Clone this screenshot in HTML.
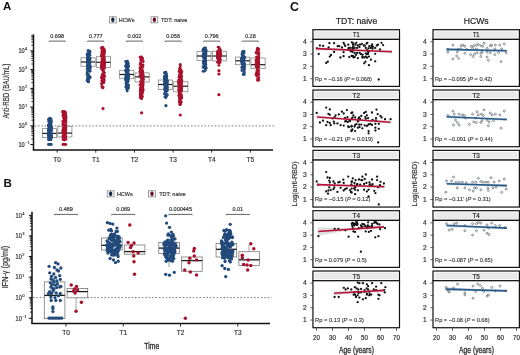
<!DOCTYPE html>
<html><head><meta charset="utf-8"><style>
html,body{margin:0;padding:0;background:#fff;}
svg{display:block;font-family:"Liberation Sans", sans-serif;filter:blur(0.3px);}
</style></head><body>
<svg width="520" height="355" viewBox="0 0 520 355">
<rect width="520" height="355" fill="#fff"/>
<text x="2.90" y="10.00" font-size="11.5" text-anchor="start" fill="#111" font-weight="bold" >A</text>
<text x="3.40" y="186.80" font-size="11.6" text-anchor="start" fill="#111" font-weight="bold" >B</text>
<text x="289.90" y="10.80" font-size="12.3" text-anchor="start" fill="#111" font-weight="bold" >C</text>
<rect x="109.40" y="16.80" width="6.80" height="6.10" fill="#fff" stroke="#777" stroke-width="0.7" />
<line x1="112.80" y1="16.80" x2="112.80" y2="22.90" stroke="#777" stroke-width="0.6" />
<ellipse cx="112.80" cy="19.80" rx="1.75" ry="2.3" fill="#142c4a"/>
<rect x="151.00" y="16.80" width="6.80" height="6.10" fill="#fff" stroke="#777" stroke-width="0.7" />
<line x1="154.40" y1="16.80" x2="154.40" y2="22.90" stroke="#777" stroke-width="0.6" />
<ellipse cx="154.40" cy="19.80" rx="1.75" ry="2.3" fill="#6e1230"/>
<text x="118.70" y="21.80" font-size="5.6" text-anchor="start" fill="#333" font-weight="normal" stroke="#333" stroke-width="0.18" textLength="15.80" lengthAdjust="spacingAndGlyphs" >HCWs</text>
<text x="161.00" y="21.80" font-size="5.6" text-anchor="start" fill="#333" font-weight="normal" stroke="#333" stroke-width="0.18" textLength="26.30" lengthAdjust="spacingAndGlyphs" >TDT: naive</text>
<line x1="33.50" y1="34.60" x2="33.50" y2="150.00" stroke="#111" stroke-width="1.5" />
<line x1="30.30" y1="144.52" x2="33.50" y2="144.52" stroke="#111" stroke-width="1.0" />
<text x="24.60" y="146.82" font-size="6.6" text-anchor="end" fill="#2a2a2a" font-weight="normal" stroke="#2a2a2a" stroke-width="0.18" textLength="6.20" lengthAdjust="spacingAndGlyphs" >10</text>
<text x="25.00" y="144.02" font-size="4.1" text-anchor="start" fill="#2a2a2a" font-weight="normal" stroke="#2a2a2a" stroke-width="0.12" >&#8722;1</text>
<line x1="31.30" y1="138.88" x2="33.50" y2="138.88" stroke="#111" stroke-width="0.8" />
<line x1="31.30" y1="135.59" x2="33.50" y2="135.59" stroke="#111" stroke-width="0.8" />
<line x1="31.30" y1="133.25" x2="33.50" y2="133.25" stroke="#111" stroke-width="0.8" />
<line x1="31.30" y1="131.44" x2="33.50" y2="131.44" stroke="#111" stroke-width="0.8" />
<line x1="31.30" y1="129.95" x2="33.50" y2="129.95" stroke="#111" stroke-width="0.8" />
<line x1="31.30" y1="128.70" x2="33.50" y2="128.70" stroke="#111" stroke-width="0.8" />
<line x1="31.30" y1="127.61" x2="33.50" y2="127.61" stroke="#111" stroke-width="0.8" />
<line x1="31.30" y1="126.66" x2="33.50" y2="126.66" stroke="#111" stroke-width="0.8" />
<line x1="30.30" y1="125.80" x2="33.50" y2="125.80" stroke="#111" stroke-width="1.0" />
<text x="24.60" y="128.10" font-size="6.6" text-anchor="end" fill="#2a2a2a" font-weight="normal" stroke="#2a2a2a" stroke-width="0.18" textLength="6.20" lengthAdjust="spacingAndGlyphs" >10</text>
<text x="25.00" y="125.30" font-size="4.1" text-anchor="start" fill="#2a2a2a" font-weight="normal" stroke="#2a2a2a" stroke-width="0.12" >0</text>
<line x1="31.30" y1="120.16" x2="33.50" y2="120.16" stroke="#111" stroke-width="0.8" />
<line x1="31.30" y1="116.87" x2="33.50" y2="116.87" stroke="#111" stroke-width="0.8" />
<line x1="31.30" y1="114.53" x2="33.50" y2="114.53" stroke="#111" stroke-width="0.8" />
<line x1="31.30" y1="112.72" x2="33.50" y2="112.72" stroke="#111" stroke-width="0.8" />
<line x1="31.30" y1="111.23" x2="33.50" y2="111.23" stroke="#111" stroke-width="0.8" />
<line x1="31.30" y1="109.98" x2="33.50" y2="109.98" stroke="#111" stroke-width="0.8" />
<line x1="31.30" y1="108.89" x2="33.50" y2="108.89" stroke="#111" stroke-width="0.8" />
<line x1="31.30" y1="107.94" x2="33.50" y2="107.94" stroke="#111" stroke-width="0.8" />
<line x1="30.30" y1="107.08" x2="33.50" y2="107.08" stroke="#111" stroke-width="1.0" />
<text x="24.60" y="109.38" font-size="6.6" text-anchor="end" fill="#2a2a2a" font-weight="normal" stroke="#2a2a2a" stroke-width="0.18" textLength="6.20" lengthAdjust="spacingAndGlyphs" >10</text>
<text x="25.00" y="106.58" font-size="4.1" text-anchor="start" fill="#2a2a2a" font-weight="normal" stroke="#2a2a2a" stroke-width="0.12" >1</text>
<line x1="31.30" y1="101.44" x2="33.50" y2="101.44" stroke="#111" stroke-width="0.8" />
<line x1="31.30" y1="98.15" x2="33.50" y2="98.15" stroke="#111" stroke-width="0.8" />
<line x1="31.30" y1="95.81" x2="33.50" y2="95.81" stroke="#111" stroke-width="0.8" />
<line x1="31.30" y1="94.00" x2="33.50" y2="94.00" stroke="#111" stroke-width="0.8" />
<line x1="31.30" y1="92.51" x2="33.50" y2="92.51" stroke="#111" stroke-width="0.8" />
<line x1="31.30" y1="91.26" x2="33.50" y2="91.26" stroke="#111" stroke-width="0.8" />
<line x1="31.30" y1="90.17" x2="33.50" y2="90.17" stroke="#111" stroke-width="0.8" />
<line x1="31.30" y1="89.22" x2="33.50" y2="89.22" stroke="#111" stroke-width="0.8" />
<line x1="30.30" y1="88.36" x2="33.50" y2="88.36" stroke="#111" stroke-width="1.0" />
<text x="24.60" y="90.66" font-size="6.6" text-anchor="end" fill="#2a2a2a" font-weight="normal" stroke="#2a2a2a" stroke-width="0.18" textLength="6.20" lengthAdjust="spacingAndGlyphs" >10</text>
<text x="25.00" y="87.86" font-size="4.1" text-anchor="start" fill="#2a2a2a" font-weight="normal" stroke="#2a2a2a" stroke-width="0.12" >2</text>
<line x1="31.30" y1="82.72" x2="33.50" y2="82.72" stroke="#111" stroke-width="0.8" />
<line x1="31.30" y1="79.43" x2="33.50" y2="79.43" stroke="#111" stroke-width="0.8" />
<line x1="31.30" y1="77.09" x2="33.50" y2="77.09" stroke="#111" stroke-width="0.8" />
<line x1="31.30" y1="75.28" x2="33.50" y2="75.28" stroke="#111" stroke-width="0.8" />
<line x1="31.30" y1="73.79" x2="33.50" y2="73.79" stroke="#111" stroke-width="0.8" />
<line x1="31.30" y1="72.54" x2="33.50" y2="72.54" stroke="#111" stroke-width="0.8" />
<line x1="31.30" y1="71.45" x2="33.50" y2="71.45" stroke="#111" stroke-width="0.8" />
<line x1="31.30" y1="70.50" x2="33.50" y2="70.50" stroke="#111" stroke-width="0.8" />
<line x1="30.30" y1="69.64" x2="33.50" y2="69.64" stroke="#111" stroke-width="1.0" />
<text x="24.60" y="71.94" font-size="6.6" text-anchor="end" fill="#2a2a2a" font-weight="normal" stroke="#2a2a2a" stroke-width="0.18" textLength="6.20" lengthAdjust="spacingAndGlyphs" >10</text>
<text x="25.00" y="69.14" font-size="4.1" text-anchor="start" fill="#2a2a2a" font-weight="normal" stroke="#2a2a2a" stroke-width="0.12" >3</text>
<line x1="31.30" y1="64.00" x2="33.50" y2="64.00" stroke="#111" stroke-width="0.8" />
<line x1="31.30" y1="60.71" x2="33.50" y2="60.71" stroke="#111" stroke-width="0.8" />
<line x1="31.30" y1="58.37" x2="33.50" y2="58.37" stroke="#111" stroke-width="0.8" />
<line x1="31.30" y1="56.56" x2="33.50" y2="56.56" stroke="#111" stroke-width="0.8" />
<line x1="31.30" y1="55.07" x2="33.50" y2="55.07" stroke="#111" stroke-width="0.8" />
<line x1="31.30" y1="53.82" x2="33.50" y2="53.82" stroke="#111" stroke-width="0.8" />
<line x1="31.30" y1="52.73" x2="33.50" y2="52.73" stroke="#111" stroke-width="0.8" />
<line x1="31.30" y1="51.78" x2="33.50" y2="51.78" stroke="#111" stroke-width="0.8" />
<line x1="30.30" y1="50.92" x2="33.50" y2="50.92" stroke="#111" stroke-width="1.0" />
<text x="24.60" y="53.22" font-size="6.6" text-anchor="end" fill="#2a2a2a" font-weight="normal" stroke="#2a2a2a" stroke-width="0.18" textLength="6.20" lengthAdjust="spacingAndGlyphs" >10</text>
<text x="25.00" y="50.42" font-size="4.1" text-anchor="start" fill="#2a2a2a" font-weight="normal" stroke="#2a2a2a" stroke-width="0.12" >4</text>
<line x1="31.30" y1="45.28" x2="33.50" y2="45.28" stroke="#111" stroke-width="0.8" />
<line x1="31.30" y1="41.99" x2="33.50" y2="41.99" stroke="#111" stroke-width="0.8" />
<line x1="31.30" y1="39.65" x2="33.50" y2="39.65" stroke="#111" stroke-width="0.8" />
<line x1="31.30" y1="37.84" x2="33.50" y2="37.84" stroke="#111" stroke-width="0.8" />
<line x1="31.30" y1="36.35" x2="33.50" y2="36.35" stroke="#111" stroke-width="0.8" />
<line x1="31.30" y1="35.10" x2="33.50" y2="35.10" stroke="#111" stroke-width="0.8" />
<line x1="32.80" y1="150.00" x2="273.00" y2="150.00" stroke="#111" stroke-width="1.4" />
<line x1="34.50" y1="125.90" x2="275.50" y2="125.90" stroke="#6e6e6e" stroke-width="0.9" stroke-dasharray="1.6,1.8"/>
<line x1="57.15" y1="150.00" x2="57.15" y2="152.60" stroke="#111" stroke-width="0.9" />
<text x="57.15" y="161.70" font-size="6.5" text-anchor="middle" fill="#333" font-weight="normal" stroke="#333" stroke-width="0.18" >T0</text>
<line x1="95.79" y1="150.00" x2="95.79" y2="152.60" stroke="#111" stroke-width="0.9" />
<text x="95.79" y="161.70" font-size="6.5" text-anchor="middle" fill="#333" font-weight="normal" stroke="#333" stroke-width="0.18" >T1</text>
<line x1="134.43" y1="150.00" x2="134.43" y2="152.60" stroke="#111" stroke-width="0.9" />
<text x="134.43" y="161.70" font-size="6.5" text-anchor="middle" fill="#333" font-weight="normal" stroke="#333" stroke-width="0.18" >T2</text>
<line x1="173.07" y1="150.00" x2="173.07" y2="152.60" stroke="#111" stroke-width="0.9" />
<text x="173.07" y="161.70" font-size="6.5" text-anchor="middle" fill="#333" font-weight="normal" stroke="#333" stroke-width="0.18" >T3</text>
<line x1="211.71" y1="150.00" x2="211.71" y2="152.60" stroke="#111" stroke-width="0.9" />
<text x="211.71" y="161.70" font-size="6.5" text-anchor="middle" fill="#333" font-weight="normal" stroke="#333" stroke-width="0.18" >T4</text>
<line x1="250.35" y1="150.00" x2="250.35" y2="152.60" stroke="#111" stroke-width="0.9" />
<text x="250.35" y="161.70" font-size="6.5" text-anchor="middle" fill="#333" font-weight="normal" stroke="#333" stroke-width="0.18" >T5</text>
<text x="0.00" y="0.00" font-size="8.4" text-anchor="middle" fill="#333" font-weight="normal" stroke="#333" stroke-width="0.18" textLength="55.00" lengthAdjust="spacingAndGlyphs" transform="translate(9.1,91.1) rotate(-90)">Anti-RBD (BAU/mL)</text>
<rect x="42.35" y="128.60" width="14.20" height="9.00" fill="#fff" stroke="#8a8a8a" stroke-width="0.8" />
<line x1="42.35" y1="133.40" x2="56.55" y2="133.40" stroke="#1a1a1a" stroke-width="1.2" />
<rect x="57.75" y="126.30" width="14.20" height="10.70" fill="#fff" stroke="#8a8a8a" stroke-width="0.8" />
<line x1="57.75" y1="133.10" x2="71.95" y2="133.10" stroke="#1a1a1a" stroke-width="1.2" />
<circle cx="50.4" cy="121.2" r="1.42" fill="#224a7b"/>
<circle cx="48.5" cy="128.9" r="1.42" fill="#224a7b"/>
<circle cx="49.7" cy="118.7" r="1.42" fill="#224a7b"/>
<circle cx="48.6" cy="132.4" r="1.42" fill="#224a7b"/>
<circle cx="48.7" cy="136.1" r="1.42" fill="#224a7b"/>
<circle cx="50.2" cy="125.1" r="1.42" fill="#224a7b"/>
<circle cx="48.5" cy="139.4" r="1.42" fill="#224a7b"/>
<circle cx="48.8" cy="124.3" r="1.42" fill="#224a7b"/>
<circle cx="49.3" cy="124.9" r="1.42" fill="#224a7b"/>
<circle cx="50.2" cy="121.9" r="1.42" fill="#224a7b"/>
<circle cx="50.1" cy="126.1" r="1.42" fill="#224a7b"/>
<circle cx="50.5" cy="136.5" r="1.42" fill="#224a7b"/>
<circle cx="50.2" cy="124.8" r="1.42" fill="#224a7b"/>
<circle cx="50.9" cy="124.5" r="1.42" fill="#224a7b"/>
<circle cx="50.2" cy="123.3" r="1.42" fill="#224a7b"/>
<circle cx="50.7" cy="137.2" r="1.42" fill="#224a7b"/>
<circle cx="48.7" cy="139.5" r="1.42" fill="#224a7b"/>
<circle cx="48.8" cy="134.6" r="1.42" fill="#224a7b"/>
<circle cx="50.5" cy="118.8" r="1.42" fill="#224a7b"/>
<circle cx="51.2" cy="130.5" r="1.42" fill="#224a7b"/>
<circle cx="50.3" cy="133.2" r="1.42" fill="#224a7b"/>
<circle cx="51.0" cy="127.9" r="1.42" fill="#224a7b"/>
<circle cx="50.5" cy="128.3" r="1.42" fill="#224a7b"/>
<circle cx="50.6" cy="134.6" r="1.42" fill="#224a7b"/>
<circle cx="51.0" cy="139.7" r="1.42" fill="#224a7b"/>
<circle cx="50.5" cy="126.4" r="1.42" fill="#224a7b"/>
<circle cx="48.7" cy="130.5" r="1.42" fill="#224a7b"/>
<circle cx="50.8" cy="134.1" r="1.42" fill="#224a7b"/>
<circle cx="51.1" cy="133.5" r="1.42" fill="#224a7b"/>
<circle cx="49.8" cy="138.3" r="1.42" fill="#224a7b"/>
<circle cx="51.0" cy="137.3" r="1.42" fill="#224a7b"/>
<circle cx="49.7" cy="124.0" r="1.42" fill="#224a7b"/>
<circle cx="51.4" cy="137.4" r="1.42" fill="#224a7b"/>
<circle cx="49.1" cy="135.0" r="1.42" fill="#224a7b"/>
<circle cx="49.2" cy="130.9" r="1.42" fill="#224a7b"/>
<circle cx="49.7" cy="136.6" r="1.42" fill="#224a7b"/>
<circle cx="51.4" cy="130.4" r="1.42" fill="#224a7b"/>
<circle cx="50.3" cy="129.2" r="1.42" fill="#224a7b"/>
<circle cx="51.2" cy="119.1" r="1.42" fill="#224a7b"/>
<circle cx="50.9" cy="137.1" r="1.42" fill="#224a7b"/>
<circle cx="48.7" cy="126.7" r="1.42" fill="#224a7b"/>
<circle cx="48.6" cy="119.3" r="1.42" fill="#224a7b"/>
<circle cx="48.5" cy="135.7" r="1.42" fill="#224a7b"/>
<circle cx="48.8" cy="137.2" r="1.42" fill="#224a7b"/>
<circle cx="51.1" cy="132.7" r="1.42" fill="#224a7b"/>
<circle cx="49.2" cy="121.2" r="1.42" fill="#224a7b"/>
<circle cx="48.7" cy="125.9" r="1.42" fill="#224a7b"/>
<circle cx="49.8" cy="139.7" r="1.42" fill="#224a7b"/>
<circle cx="48.7" cy="119.8" r="1.42" fill="#224a7b"/>
<circle cx="51.0" cy="123.7" r="1.42" fill="#224a7b"/>
<circle cx="48.4" cy="134.2" r="1.42" fill="#224a7b"/>
<circle cx="48.8" cy="129.5" r="1.42" fill="#224a7b"/>
<circle cx="50.0" cy="118.5" r="1.42" fill="#224a7b"/>
<circle cx="50.6" cy="136.9" r="1.42" fill="#224a7b"/>
<circle cx="48.9" cy="126.0" r="1.42" fill="#224a7b"/>
<circle cx="50.8" cy="129.6" r="1.42" fill="#224a7b"/>
<circle cx="50.9" cy="122.8" r="1.42" fill="#224a7b"/>
<circle cx="50.9" cy="136.7" r="1.42" fill="#224a7b"/>
<circle cx="49.1" cy="134.2" r="1.42" fill="#224a7b"/>
<circle cx="48.4" cy="125.7" r="1.42" fill="#224a7b"/>
<circle cx="50.6" cy="132.7" r="1.42" fill="#224a7b"/>
<circle cx="51.3" cy="127.7" r="1.42" fill="#224a7b"/>
<circle cx="49.5" cy="138.9" r="1.42" fill="#224a7b"/>
<circle cx="49.1" cy="137.1" r="1.42" fill="#224a7b"/>
<circle cx="51.2" cy="135.3" r="1.42" fill="#224a7b"/>
<circle cx="50.4" cy="128.4" r="1.42" fill="#224a7b"/>
<circle cx="50.5" cy="119.8" r="1.42" fill="#224a7b"/>
<circle cx="50.8" cy="135.1" r="1.42" fill="#224a7b"/>
<circle cx="50.9" cy="121.8" r="1.42" fill="#224a7b"/>
<circle cx="51.5" cy="135.5" r="1.42" fill="#224a7b"/>
<circle cx="51.4" cy="126.7" r="1.42" fill="#224a7b"/>
<circle cx="48.8" cy="121.6" r="1.42" fill="#224a7b"/>
<circle cx="50.9" cy="137.8" r="1.42" fill="#224a7b"/>
<circle cx="50.5" cy="139.7" r="1.42" fill="#224a7b"/>
<circle cx="48.8" cy="130.0" r="1.42" fill="#224a7b"/>
<circle cx="51.5" cy="121.3" r="1.42" fill="#224a7b"/>
<circle cx="51.3" cy="129.5" r="1.42" fill="#224a7b"/>
<circle cx="51.0" cy="137.1" r="1.42" fill="#224a7b"/>
<circle cx="49.1" cy="133.4" r="1.42" fill="#224a7b"/>
<circle cx="49.7" cy="123.6" r="1.42" fill="#224a7b"/>
<circle cx="51.3" cy="137.5" r="1.42" fill="#224a7b"/>
<circle cx="50.2" cy="128.0" r="1.42" fill="#224a7b"/>
<circle cx="51.3" cy="127.2" r="1.42" fill="#224a7b"/>
<circle cx="50.0" cy="129.6" r="1.42" fill="#224a7b"/>
<circle cx="48.4" cy="130.5" r="1.42" fill="#224a7b"/>
<circle cx="49.9" cy="118.2" r="1.42" fill="#224a7b"/>
<circle cx="49.9" cy="139.6" r="1.42" fill="#224a7b"/>
<circle cx="64.3" cy="116.1" r="1.42" fill="#a9122d"/>
<circle cx="63.8" cy="127.4" r="1.42" fill="#a9122d"/>
<circle cx="65.3" cy="127.4" r="1.42" fill="#a9122d"/>
<circle cx="64.5" cy="134.6" r="1.42" fill="#a9122d"/>
<circle cx="64.4" cy="131.2" r="1.42" fill="#a9122d"/>
<circle cx="65.7" cy="133.4" r="1.42" fill="#a9122d"/>
<circle cx="64.4" cy="129.0" r="1.42" fill="#a9122d"/>
<circle cx="64.2" cy="131.4" r="1.42" fill="#a9122d"/>
<circle cx="65.8" cy="125.1" r="1.42" fill="#a9122d"/>
<circle cx="65.8" cy="136.8" r="1.42" fill="#a9122d"/>
<circle cx="65.8" cy="127.5" r="1.42" fill="#a9122d"/>
<circle cx="63.1" cy="115.1" r="1.42" fill="#a9122d"/>
<circle cx="63.5" cy="113.2" r="1.42" fill="#a9122d"/>
<circle cx="65.3" cy="130.7" r="1.42" fill="#a9122d"/>
<circle cx="65.0" cy="115.6" r="1.42" fill="#a9122d"/>
<circle cx="65.6" cy="115.3" r="1.42" fill="#a9122d"/>
<circle cx="65.8" cy="117.5" r="1.42" fill="#a9122d"/>
<circle cx="65.9" cy="125.4" r="1.42" fill="#a9122d"/>
<circle cx="64.1" cy="115.8" r="1.42" fill="#a9122d"/>
<circle cx="63.4" cy="121.0" r="1.42" fill="#a9122d"/>
<circle cx="62.8" cy="132.3" r="1.42" fill="#a9122d"/>
<circle cx="62.8" cy="124.0" r="1.42" fill="#a9122d"/>
<circle cx="64.4" cy="129.4" r="1.42" fill="#a9122d"/>
<circle cx="63.1" cy="139.6" r="1.42" fill="#a9122d"/>
<circle cx="65.2" cy="112.3" r="1.42" fill="#a9122d"/>
<circle cx="64.1" cy="114.9" r="1.42" fill="#a9122d"/>
<circle cx="63.6" cy="135.1" r="1.42" fill="#a9122d"/>
<circle cx="65.7" cy="132.0" r="1.42" fill="#a9122d"/>
<circle cx="63.0" cy="131.6" r="1.42" fill="#a9122d"/>
<circle cx="63.0" cy="130.5" r="1.42" fill="#a9122d"/>
<circle cx="65.3" cy="129.7" r="1.42" fill="#a9122d"/>
<circle cx="65.5" cy="126.8" r="1.42" fill="#a9122d"/>
<circle cx="63.8" cy="137.8" r="1.42" fill="#a9122d"/>
<circle cx="63.6" cy="138.3" r="1.42" fill="#a9122d"/>
<circle cx="64.4" cy="127.7" r="1.42" fill="#a9122d"/>
<circle cx="62.9" cy="136.1" r="1.42" fill="#a9122d"/>
<circle cx="63.7" cy="135.6" r="1.42" fill="#a9122d"/>
<circle cx="63.7" cy="133.4" r="1.42" fill="#a9122d"/>
<circle cx="63.9" cy="116.3" r="1.42" fill="#a9122d"/>
<circle cx="65.1" cy="133.1" r="1.42" fill="#a9122d"/>
<circle cx="64.3" cy="116.7" r="1.42" fill="#a9122d"/>
<circle cx="65.4" cy="114.2" r="1.42" fill="#a9122d"/>
<circle cx="65.4" cy="125.6" r="1.42" fill="#a9122d"/>
<circle cx="65.0" cy="125.9" r="1.42" fill="#a9122d"/>
<circle cx="65.4" cy="121.1" r="1.42" fill="#a9122d"/>
<circle cx="64.0" cy="129.7" r="1.42" fill="#a9122d"/>
<circle cx="63.2" cy="112.7" r="1.42" fill="#a9122d"/>
<circle cx="65.1" cy="134.2" r="1.42" fill="#a9122d"/>
<circle cx="63.0" cy="115.9" r="1.42" fill="#a9122d"/>
<circle cx="64.9" cy="136.6" r="1.42" fill="#a9122d"/>
<circle cx="63.7" cy="118.2" r="1.42" fill="#a9122d"/>
<circle cx="64.2" cy="115.7" r="1.42" fill="#a9122d"/>
<circle cx="65.9" cy="139.3" r="1.42" fill="#a9122d"/>
<circle cx="65.8" cy="118.3" r="1.42" fill="#a9122d"/>
<circle cx="62.8" cy="121.5" r="1.42" fill="#a9122d"/>
<circle cx="64.4" cy="125.0" r="1.42" fill="#a9122d"/>
<circle cx="63.6" cy="132.5" r="1.42" fill="#a9122d"/>
<circle cx="64.0" cy="133.1" r="1.42" fill="#a9122d"/>
<circle cx="63.5" cy="138.6" r="1.42" fill="#a9122d"/>
<circle cx="65.2" cy="126.6" r="1.42" fill="#a9122d"/>
<circle cx="65.6" cy="132.1" r="1.42" fill="#a9122d"/>
<circle cx="65.9" cy="120.7" r="1.42" fill="#a9122d"/>
<circle cx="65.1" cy="133.9" r="1.42" fill="#a9122d"/>
<circle cx="65.4" cy="112.4" r="1.42" fill="#a9122d"/>
<circle cx="65.1" cy="129.5" r="1.42" fill="#a9122d"/>
<circle cx="64.4" cy="115.2" r="1.42" fill="#a9122d"/>
<circle cx="65.3" cy="135.6" r="1.42" fill="#a9122d"/>
<circle cx="65.6" cy="128.2" r="1.42" fill="#a9122d"/>
<circle cx="63.5" cy="131.4" r="1.42" fill="#a9122d"/>
<circle cx="63.1" cy="137.2" r="1.42" fill="#a9122d"/>
<circle cx="64.8" cy="127.5" r="1.42" fill="#a9122d"/>
<circle cx="64.3" cy="131.0" r="1.42" fill="#a9122d"/>
<circle cx="65.3" cy="137.7" r="1.42" fill="#a9122d"/>
<circle cx="64.5" cy="125.8" r="1.42" fill="#a9122d"/>
<circle cx="65.1" cy="113.0" r="1.42" fill="#a9122d"/>
<circle cx="63.6" cy="113.3" r="1.42" fill="#a9122d"/>
<circle cx="65.1" cy="117.1" r="1.42" fill="#a9122d"/>
<circle cx="64.0" cy="125.6" r="1.42" fill="#a9122d"/>
<circle cx="65.2" cy="131.1" r="1.42" fill="#a9122d"/>
<circle cx="63.0" cy="129.9" r="1.42" fill="#a9122d"/>
<circle cx="63.7" cy="132.8" r="1.42" fill="#a9122d"/>
<circle cx="62.9" cy="111.5" r="1.42" fill="#a9122d"/>
<circle cx="65.0" cy="130.8" r="1.42" fill="#a9122d"/>
<circle cx="64.4" cy="119.6" r="1.42" fill="#a9122d"/>
<circle cx="63.1" cy="124.8" r="1.42" fill="#a9122d"/>
<circle cx="65.9" cy="116.9" r="1.42" fill="#a9122d"/>
<circle cx="64.2" cy="111.6" r="1.42" fill="#a9122d"/>
<circle cx="64.2" cy="139.5" r="1.42" fill="#a9122d"/>
<circle cx="65.8" cy="117.2" r="1.42" fill="#a9122d"/>
<circle cx="63.2" cy="128.1" r="1.42" fill="#a9122d"/>
<circle cx="63.2" cy="139.0" r="1.42" fill="#a9122d"/>
<circle cx="65.6" cy="126.0" r="1.42" fill="#a9122d"/>
<circle cx="65.6" cy="117.9" r="1.42" fill="#a9122d"/>
<circle cx="62.8" cy="111.8" r="1.42" fill="#a9122d"/>
<circle cx="63.7" cy="124.3" r="1.42" fill="#a9122d"/>
<circle cx="65.4" cy="129.9" r="1.42" fill="#a9122d"/>
<circle cx="65.2" cy="137.8" r="1.42" fill="#a9122d"/>
<circle cx="65.7" cy="114.6" r="1.42" fill="#a9122d"/>
<circle cx="63.7" cy="137.5" r="1.42" fill="#a9122d"/>
<circle cx="65.9" cy="122.6" r="1.42" fill="#a9122d"/>
<circle cx="64.1" cy="121.7" r="1.42" fill="#a9122d"/>
<circle cx="63.1" cy="112.5" r="1.42" fill="#a9122d"/>
<circle cx="65.7" cy="119.5" r="1.42" fill="#a9122d"/>
<circle cx="63.4" cy="132.3" r="1.42" fill="#a9122d"/>
<circle cx="65.6" cy="139.1" r="1.42" fill="#a9122d"/>
<circle cx="65.7" cy="129.6" r="1.42" fill="#a9122d"/>
<circle cx="65.1" cy="127.2" r="1.42" fill="#a9122d"/>
<circle cx="64.2" cy="132.6" r="1.42" fill="#a9122d"/>
<circle cx="63.7" cy="130.0" r="1.42" fill="#a9122d"/>
<circle cx="64.3" cy="136.1" r="1.42" fill="#a9122d"/>
<circle cx="64.3" cy="111.4" r="1.42" fill="#a9122d"/>
<circle cx="64.3" cy="140.1" r="1.42" fill="#a9122d"/>
<circle cx="48.5" cy="144.4" r="1.42" fill="#224a7b"/>
<circle cx="49.4" cy="144.4" r="1.42" fill="#224a7b"/>
<circle cx="50.4" cy="144.4" r="1.42" fill="#224a7b"/>
<circle cx="51.3" cy="144.4" r="1.42" fill="#224a7b"/>
<circle cx="62.9" cy="144.4" r="1.42" fill="#a9122d"/>
<circle cx="63.8" cy="144.4" r="1.42" fill="#a9122d"/>
<circle cx="64.8" cy="144.4" r="1.42" fill="#a9122d"/>
<circle cx="65.8" cy="144.4" r="1.42" fill="#a9122d"/>
<rect x="80.99" y="57.80" width="14.20" height="8.50" fill="#fff" stroke="#8a8a8a" stroke-width="0.8" />
<line x1="80.99" y1="62.00" x2="95.19" y2="62.00" stroke="#1a1a1a" stroke-width="1.2" />
<rect x="96.39" y="56.30" width="14.20" height="11.20" fill="#fff" stroke="#8a8a8a" stroke-width="0.8" />
<line x1="96.39" y1="62.30" x2="110.59" y2="62.30" stroke="#1a1a1a" stroke-width="1.2" />
<circle cx="87.9" cy="60.4" r="1.42" fill="#224a7b"/>
<circle cx="87.8" cy="81.3" r="1.42" fill="#224a7b"/>
<circle cx="88.8" cy="59.9" r="1.42" fill="#224a7b"/>
<circle cx="87.7" cy="64.1" r="1.42" fill="#224a7b"/>
<circle cx="87.7" cy="66.1" r="1.42" fill="#224a7b"/>
<circle cx="88.4" cy="81.9" r="1.42" fill="#224a7b"/>
<circle cx="87.6" cy="65.6" r="1.42" fill="#224a7b"/>
<circle cx="87.8" cy="60.3" r="1.42" fill="#224a7b"/>
<circle cx="88.8" cy="64.6" r="1.42" fill="#224a7b"/>
<circle cx="88.3" cy="74.1" r="1.42" fill="#224a7b"/>
<circle cx="88.1" cy="55.2" r="1.42" fill="#224a7b"/>
<circle cx="87.9" cy="61.0" r="1.42" fill="#224a7b"/>
<circle cx="88.6" cy="54.4" r="1.42" fill="#224a7b"/>
<circle cx="87.7" cy="77.7" r="1.42" fill="#224a7b"/>
<circle cx="88.4" cy="62.1" r="1.42" fill="#224a7b"/>
<circle cx="89.8" cy="77.2" r="1.42" fill="#224a7b"/>
<circle cx="87.1" cy="69.1" r="1.42" fill="#224a7b"/>
<circle cx="88.5" cy="78.7" r="1.42" fill="#224a7b"/>
<circle cx="90.0" cy="69.0" r="1.42" fill="#224a7b"/>
<circle cx="90.1" cy="77.4" r="1.42" fill="#224a7b"/>
<circle cx="87.3" cy="62.0" r="1.42" fill="#224a7b"/>
<circle cx="90.0" cy="51.5" r="1.42" fill="#224a7b"/>
<circle cx="89.4" cy="70.9" r="1.42" fill="#224a7b"/>
<circle cx="88.8" cy="60.5" r="1.42" fill="#224a7b"/>
<circle cx="89.9" cy="63.0" r="1.42" fill="#224a7b"/>
<circle cx="87.4" cy="60.0" r="1.42" fill="#224a7b"/>
<circle cx="89.0" cy="57.0" r="1.42" fill="#224a7b"/>
<circle cx="87.2" cy="53.9" r="1.42" fill="#224a7b"/>
<circle cx="87.7" cy="56.0" r="1.42" fill="#224a7b"/>
<circle cx="88.0" cy="50.7" r="1.42" fill="#224a7b"/>
<circle cx="90.1" cy="58.5" r="1.42" fill="#224a7b"/>
<circle cx="88.5" cy="78.3" r="1.42" fill="#224a7b"/>
<circle cx="89.2" cy="62.3" r="1.42" fill="#224a7b"/>
<circle cx="87.1" cy="79.9" r="1.42" fill="#224a7b"/>
<circle cx="87.8" cy="58.7" r="1.42" fill="#224a7b"/>
<circle cx="87.7" cy="79.6" r="1.42" fill="#224a7b"/>
<circle cx="88.1" cy="55.5" r="1.42" fill="#224a7b"/>
<circle cx="89.5" cy="60.1" r="1.42" fill="#224a7b"/>
<circle cx="87.6" cy="66.4" r="1.42" fill="#224a7b"/>
<circle cx="89.6" cy="60.3" r="1.42" fill="#224a7b"/>
<circle cx="87.7" cy="57.7" r="1.42" fill="#224a7b"/>
<circle cx="90.0" cy="59.7" r="1.42" fill="#224a7b"/>
<circle cx="88.3" cy="63.9" r="1.42" fill="#224a7b"/>
<circle cx="87.5" cy="80.4" r="1.42" fill="#224a7b"/>
<circle cx="87.7" cy="66.6" r="1.42" fill="#224a7b"/>
<circle cx="87.2" cy="54.9" r="1.42" fill="#224a7b"/>
<circle cx="89.3" cy="78.3" r="1.42" fill="#224a7b"/>
<circle cx="88.0" cy="79.8" r="1.42" fill="#224a7b"/>
<circle cx="90.0" cy="71.3" r="1.42" fill="#224a7b"/>
<circle cx="89.1" cy="51.4" r="1.42" fill="#224a7b"/>
<circle cx="87.5" cy="57.6" r="1.42" fill="#224a7b"/>
<circle cx="87.9" cy="66.5" r="1.42" fill="#224a7b"/>
<circle cx="90.1" cy="65.5" r="1.42" fill="#224a7b"/>
<circle cx="88.1" cy="61.0" r="1.42" fill="#224a7b"/>
<circle cx="88.4" cy="76.4" r="1.42" fill="#224a7b"/>
<circle cx="89.9" cy="55.3" r="1.42" fill="#224a7b"/>
<circle cx="88.2" cy="63.1" r="1.42" fill="#224a7b"/>
<circle cx="88.3" cy="51.4" r="1.42" fill="#224a7b"/>
<circle cx="87.1" cy="74.6" r="1.42" fill="#224a7b"/>
<circle cx="87.8" cy="76.6" r="1.42" fill="#224a7b"/>
<circle cx="88.1" cy="78.8" r="1.42" fill="#224a7b"/>
<circle cx="90.1" cy="68.0" r="1.42" fill="#224a7b"/>
<circle cx="89.3" cy="58.7" r="1.42" fill="#224a7b"/>
<circle cx="89.4" cy="61.9" r="1.42" fill="#224a7b"/>
<circle cx="90.0" cy="70.4" r="1.42" fill="#224a7b"/>
<circle cx="87.7" cy="62.6" r="1.42" fill="#224a7b"/>
<circle cx="88.2" cy="78.8" r="1.42" fill="#224a7b"/>
<circle cx="88.4" cy="57.3" r="1.42" fill="#224a7b"/>
<circle cx="89.6" cy="66.0" r="1.42" fill="#224a7b"/>
<circle cx="89.5" cy="76.4" r="1.42" fill="#224a7b"/>
<circle cx="88.0" cy="60.8" r="1.42" fill="#224a7b"/>
<circle cx="89.5" cy="60.1" r="1.42" fill="#224a7b"/>
<circle cx="87.8" cy="65.8" r="1.42" fill="#224a7b"/>
<circle cx="87.1" cy="73.1" r="1.42" fill="#224a7b"/>
<circle cx="89.8" cy="53.0" r="1.42" fill="#224a7b"/>
<circle cx="87.3" cy="58.8" r="1.42" fill="#224a7b"/>
<circle cx="88.6" cy="79.5" r="1.42" fill="#224a7b"/>
<circle cx="87.7" cy="64.5" r="1.42" fill="#224a7b"/>
<circle cx="89.4" cy="54.3" r="1.42" fill="#224a7b"/>
<circle cx="87.4" cy="71.4" r="1.42" fill="#224a7b"/>
<circle cx="88.8" cy="59.7" r="1.42" fill="#224a7b"/>
<circle cx="89.4" cy="54.8" r="1.42" fill="#224a7b"/>
<circle cx="87.5" cy="62.1" r="1.42" fill="#224a7b"/>
<circle cx="88.0" cy="68.7" r="1.42" fill="#224a7b"/>
<circle cx="90.2" cy="67.3" r="1.42" fill="#224a7b"/>
<circle cx="89.1" cy="63.5" r="1.42" fill="#224a7b"/>
<circle cx="88.5" cy="53.6" r="1.42" fill="#224a7b"/>
<circle cx="89.9" cy="77.0" r="1.42" fill="#224a7b"/>
<circle cx="87.9" cy="74.7" r="1.42" fill="#224a7b"/>
<circle cx="88.9" cy="69.0" r="1.42" fill="#224a7b"/>
<circle cx="89.8" cy="62.2" r="1.42" fill="#224a7b"/>
<circle cx="87.8" cy="79.5" r="1.42" fill="#224a7b"/>
<circle cx="87.3" cy="80.3" r="1.42" fill="#224a7b"/>
<circle cx="88.2" cy="58.4" r="1.42" fill="#224a7b"/>
<circle cx="87.6" cy="58.6" r="1.42" fill="#224a7b"/>
<circle cx="88.6" cy="50.7" r="1.42" fill="#224a7b"/>
<circle cx="88.6" cy="81.7" r="1.42" fill="#224a7b"/>
<circle cx="102.0" cy="51.6" r="1.42" fill="#a9122d"/>
<circle cx="102.4" cy="54.6" r="1.42" fill="#a9122d"/>
<circle cx="102.4" cy="54.8" r="1.42" fill="#a9122d"/>
<circle cx="101.6" cy="65.5" r="1.42" fill="#a9122d"/>
<circle cx="102.7" cy="51.3" r="1.42" fill="#a9122d"/>
<circle cx="101.9" cy="59.8" r="1.42" fill="#a9122d"/>
<circle cx="102.3" cy="63.9" r="1.42" fill="#a9122d"/>
<circle cx="104.4" cy="59.3" r="1.42" fill="#a9122d"/>
<circle cx="102.7" cy="54.5" r="1.42" fill="#a9122d"/>
<circle cx="102.6" cy="87.9" r="1.42" fill="#a9122d"/>
<circle cx="103.7" cy="58.8" r="1.42" fill="#a9122d"/>
<circle cx="102.7" cy="81.8" r="1.42" fill="#a9122d"/>
<circle cx="104.2" cy="63.8" r="1.42" fill="#a9122d"/>
<circle cx="101.9" cy="63.0" r="1.42" fill="#a9122d"/>
<circle cx="104.3" cy="50.0" r="1.42" fill="#a9122d"/>
<circle cx="103.4" cy="58.2" r="1.42" fill="#a9122d"/>
<circle cx="102.3" cy="57.2" r="1.42" fill="#a9122d"/>
<circle cx="104.4" cy="62.2" r="1.42" fill="#a9122d"/>
<circle cx="102.0" cy="86.6" r="1.42" fill="#a9122d"/>
<circle cx="104.4" cy="63.3" r="1.42" fill="#a9122d"/>
<circle cx="101.6" cy="66.9" r="1.42" fill="#a9122d"/>
<circle cx="104.3" cy="63.0" r="1.42" fill="#a9122d"/>
<circle cx="101.9" cy="80.8" r="1.42" fill="#a9122d"/>
<circle cx="102.7" cy="56.3" r="1.42" fill="#a9122d"/>
<circle cx="102.0" cy="81.0" r="1.42" fill="#a9122d"/>
<circle cx="102.6" cy="53.4" r="1.42" fill="#a9122d"/>
<circle cx="102.2" cy="68.8" r="1.42" fill="#a9122d"/>
<circle cx="101.5" cy="83.8" r="1.42" fill="#a9122d"/>
<circle cx="104.1" cy="62.4" r="1.42" fill="#a9122d"/>
<circle cx="103.3" cy="59.8" r="1.42" fill="#a9122d"/>
<circle cx="102.7" cy="56.9" r="1.42" fill="#a9122d"/>
<circle cx="102.8" cy="56.7" r="1.42" fill="#a9122d"/>
<circle cx="102.8" cy="65.4" r="1.42" fill="#a9122d"/>
<circle cx="102.1" cy="54.6" r="1.42" fill="#a9122d"/>
<circle cx="102.9" cy="79.0" r="1.42" fill="#a9122d"/>
<circle cx="102.9" cy="55.2" r="1.42" fill="#a9122d"/>
<circle cx="101.7" cy="69.0" r="1.42" fill="#a9122d"/>
<circle cx="103.0" cy="69.3" r="1.42" fill="#a9122d"/>
<circle cx="103.7" cy="59.8" r="1.42" fill="#a9122d"/>
<circle cx="101.6" cy="68.1" r="1.42" fill="#a9122d"/>
<circle cx="102.6" cy="59.5" r="1.42" fill="#a9122d"/>
<circle cx="104.1" cy="52.8" r="1.42" fill="#a9122d"/>
<circle cx="104.0" cy="77.1" r="1.42" fill="#a9122d"/>
<circle cx="104.5" cy="72.8" r="1.42" fill="#a9122d"/>
<circle cx="103.9" cy="53.9" r="1.42" fill="#a9122d"/>
<circle cx="102.5" cy="49.9" r="1.42" fill="#a9122d"/>
<circle cx="104.3" cy="53.7" r="1.42" fill="#a9122d"/>
<circle cx="104.0" cy="61.1" r="1.42" fill="#a9122d"/>
<circle cx="102.2" cy="55.7" r="1.42" fill="#a9122d"/>
<circle cx="102.4" cy="62.0" r="1.42" fill="#a9122d"/>
<circle cx="104.4" cy="64.5" r="1.42" fill="#a9122d"/>
<circle cx="101.9" cy="83.7" r="1.42" fill="#a9122d"/>
<circle cx="103.1" cy="51.9" r="1.42" fill="#a9122d"/>
<circle cx="104.2" cy="61.9" r="1.42" fill="#a9122d"/>
<circle cx="103.2" cy="67.2" r="1.42" fill="#a9122d"/>
<circle cx="104.6" cy="51.5" r="1.42" fill="#a9122d"/>
<circle cx="103.9" cy="63.3" r="1.42" fill="#a9122d"/>
<circle cx="102.5" cy="74.2" r="1.42" fill="#a9122d"/>
<circle cx="102.0" cy="65.2" r="1.42" fill="#a9122d"/>
<circle cx="104.0" cy="49.2" r="1.42" fill="#a9122d"/>
<circle cx="103.4" cy="61.6" r="1.42" fill="#a9122d"/>
<circle cx="103.5" cy="71.1" r="1.42" fill="#a9122d"/>
<circle cx="101.9" cy="64.7" r="1.42" fill="#a9122d"/>
<circle cx="103.0" cy="64.8" r="1.42" fill="#a9122d"/>
<circle cx="102.1" cy="52.6" r="1.42" fill="#a9122d"/>
<circle cx="101.4" cy="48.1" r="1.42" fill="#a9122d"/>
<circle cx="101.7" cy="62.3" r="1.42" fill="#a9122d"/>
<circle cx="103.3" cy="64.2" r="1.42" fill="#a9122d"/>
<circle cx="103.4" cy="74.1" r="1.42" fill="#a9122d"/>
<circle cx="102.2" cy="76.4" r="1.42" fill="#a9122d"/>
<circle cx="101.7" cy="78.3" r="1.42" fill="#a9122d"/>
<circle cx="103.9" cy="82.7" r="1.42" fill="#a9122d"/>
<circle cx="103.5" cy="62.2" r="1.42" fill="#a9122d"/>
<circle cx="102.5" cy="63.7" r="1.42" fill="#a9122d"/>
<circle cx="104.4" cy="65.3" r="1.42" fill="#a9122d"/>
<circle cx="104.3" cy="57.3" r="1.42" fill="#a9122d"/>
<circle cx="102.2" cy="53.2" r="1.42" fill="#a9122d"/>
<circle cx="103.9" cy="60.5" r="1.42" fill="#a9122d"/>
<circle cx="102.0" cy="53.0" r="1.42" fill="#a9122d"/>
<circle cx="103.4" cy="67.9" r="1.42" fill="#a9122d"/>
<circle cx="102.4" cy="54.3" r="1.42" fill="#a9122d"/>
<circle cx="101.5" cy="55.5" r="1.42" fill="#a9122d"/>
<circle cx="103.7" cy="79.1" r="1.42" fill="#a9122d"/>
<circle cx="102.9" cy="70.7" r="1.42" fill="#a9122d"/>
<circle cx="102.1" cy="65.7" r="1.42" fill="#a9122d"/>
<circle cx="102.1" cy="49.9" r="1.42" fill="#a9122d"/>
<circle cx="103.6" cy="54.6" r="1.42" fill="#a9122d"/>
<circle cx="102.2" cy="76.2" r="1.42" fill="#a9122d"/>
<circle cx="102.8" cy="75.3" r="1.42" fill="#a9122d"/>
<circle cx="102.2" cy="68.5" r="1.42" fill="#a9122d"/>
<circle cx="102.1" cy="86.6" r="1.42" fill="#a9122d"/>
<circle cx="102.2" cy="47.8" r="1.42" fill="#a9122d"/>
<circle cx="103.8" cy="61.5" r="1.42" fill="#a9122d"/>
<circle cx="102.4" cy="83.1" r="1.42" fill="#a9122d"/>
<circle cx="103.6" cy="73.0" r="1.42" fill="#a9122d"/>
<circle cx="102.9" cy="87.1" r="1.42" fill="#a9122d"/>
<circle cx="104.1" cy="75.7" r="1.42" fill="#a9122d"/>
<circle cx="103.7" cy="55.3" r="1.42" fill="#a9122d"/>
<circle cx="103.4" cy="60.1" r="1.42" fill="#a9122d"/>
<circle cx="104.3" cy="68.2" r="1.42" fill="#a9122d"/>
<circle cx="104.4" cy="66.5" r="1.42" fill="#a9122d"/>
<circle cx="101.8" cy="63.0" r="1.42" fill="#a9122d"/>
<circle cx="103.4" cy="75.8" r="1.42" fill="#a9122d"/>
<circle cx="101.6" cy="77.3" r="1.42" fill="#a9122d"/>
<circle cx="102.6" cy="65.9" r="1.42" fill="#a9122d"/>
<circle cx="104.2" cy="80.6" r="1.42" fill="#a9122d"/>
<circle cx="104.4" cy="75.9" r="1.42" fill="#a9122d"/>
<circle cx="102.0" cy="47.5" r="1.42" fill="#a9122d"/>
<circle cx="104.0" cy="79.5" r="1.42" fill="#a9122d"/>
<circle cx="103.4" cy="80.9" r="1.42" fill="#a9122d"/>
<circle cx="101.7" cy="66.1" r="1.42" fill="#a9122d"/>
<circle cx="102.4" cy="62.6" r="1.42" fill="#a9122d"/>
<circle cx="101.5" cy="56.2" r="1.42" fill="#a9122d"/>
<circle cx="102.6" cy="59.4" r="1.42" fill="#a9122d"/>
<circle cx="104.5" cy="76.4" r="1.42" fill="#a9122d"/>
<circle cx="103.0" cy="47.5" r="1.42" fill="#a9122d"/>
<circle cx="103.0" cy="87.7" r="1.42" fill="#a9122d"/>
<circle cx="103.0" cy="108.6" r="1.6" fill="#a9122d"/>
<rect x="119.63" y="70.30" width="14.20" height="8.40" fill="#fff" stroke="#8a8a8a" stroke-width="0.8" />
<line x1="119.63" y1="74.50" x2="133.83" y2="74.50" stroke="#1a1a1a" stroke-width="1.2" />
<rect x="135.03" y="72.90" width="14.20" height="9.10" fill="#fff" stroke="#8a8a8a" stroke-width="0.8" />
<line x1="135.03" y1="76.90" x2="149.23" y2="76.90" stroke="#1a1a1a" stroke-width="1.2" />
<circle cx="125.7" cy="80.1" r="1.42" fill="#224a7b"/>
<circle cx="127.0" cy="67.0" r="1.42" fill="#224a7b"/>
<circle cx="127.9" cy="71.5" r="1.42" fill="#224a7b"/>
<circle cx="125.9" cy="77.3" r="1.42" fill="#224a7b"/>
<circle cx="125.6" cy="66.2" r="1.42" fill="#224a7b"/>
<circle cx="128.1" cy="87.6" r="1.42" fill="#224a7b"/>
<circle cx="127.2" cy="61.1" r="1.42" fill="#224a7b"/>
<circle cx="127.2" cy="75.7" r="1.42" fill="#224a7b"/>
<circle cx="128.3" cy="70.4" r="1.42" fill="#224a7b"/>
<circle cx="126.3" cy="79.7" r="1.42" fill="#224a7b"/>
<circle cx="126.0" cy="76.1" r="1.42" fill="#224a7b"/>
<circle cx="128.2" cy="63.5" r="1.42" fill="#224a7b"/>
<circle cx="127.6" cy="84.8" r="1.42" fill="#224a7b"/>
<circle cx="126.9" cy="72.6" r="1.42" fill="#224a7b"/>
<circle cx="128.5" cy="76.7" r="1.42" fill="#224a7b"/>
<circle cx="126.3" cy="72.7" r="1.42" fill="#224a7b"/>
<circle cx="126.8" cy="81.0" r="1.42" fill="#224a7b"/>
<circle cx="127.1" cy="68.1" r="1.42" fill="#224a7b"/>
<circle cx="128.0" cy="69.9" r="1.42" fill="#224a7b"/>
<circle cx="126.7" cy="80.6" r="1.42" fill="#224a7b"/>
<circle cx="127.7" cy="81.8" r="1.42" fill="#224a7b"/>
<circle cx="127.0" cy="66.1" r="1.42" fill="#224a7b"/>
<circle cx="126.0" cy="78.5" r="1.42" fill="#224a7b"/>
<circle cx="128.5" cy="85.2" r="1.42" fill="#224a7b"/>
<circle cx="127.9" cy="76.5" r="1.42" fill="#224a7b"/>
<circle cx="126.1" cy="65.7" r="1.42" fill="#224a7b"/>
<circle cx="126.7" cy="79.8" r="1.42" fill="#224a7b"/>
<circle cx="126.2" cy="77.7" r="1.42" fill="#224a7b"/>
<circle cx="126.0" cy="83.1" r="1.42" fill="#224a7b"/>
<circle cx="126.9" cy="64.1" r="1.42" fill="#224a7b"/>
<circle cx="128.0" cy="85.1" r="1.42" fill="#224a7b"/>
<circle cx="126.3" cy="79.6" r="1.42" fill="#224a7b"/>
<circle cx="126.3" cy="64.2" r="1.42" fill="#224a7b"/>
<circle cx="128.2" cy="81.1" r="1.42" fill="#224a7b"/>
<circle cx="127.7" cy="76.2" r="1.42" fill="#224a7b"/>
<circle cx="126.1" cy="75.9" r="1.42" fill="#224a7b"/>
<circle cx="128.0" cy="73.3" r="1.42" fill="#224a7b"/>
<circle cx="127.5" cy="74.0" r="1.42" fill="#224a7b"/>
<circle cx="126.4" cy="73.8" r="1.42" fill="#224a7b"/>
<circle cx="128.1" cy="87.7" r="1.42" fill="#224a7b"/>
<circle cx="127.8" cy="86.8" r="1.42" fill="#224a7b"/>
<circle cx="126.6" cy="74.8" r="1.42" fill="#224a7b"/>
<circle cx="127.0" cy="64.0" r="1.42" fill="#224a7b"/>
<circle cx="127.6" cy="82.6" r="1.42" fill="#224a7b"/>
<circle cx="127.6" cy="67.9" r="1.42" fill="#224a7b"/>
<circle cx="127.8" cy="77.9" r="1.42" fill="#224a7b"/>
<circle cx="127.7" cy="66.5" r="1.42" fill="#224a7b"/>
<circle cx="127.2" cy="72.8" r="1.42" fill="#224a7b"/>
<circle cx="127.4" cy="62.2" r="1.42" fill="#224a7b"/>
<circle cx="127.3" cy="77.7" r="1.42" fill="#224a7b"/>
<circle cx="127.4" cy="78.4" r="1.42" fill="#224a7b"/>
<circle cx="127.7" cy="76.5" r="1.42" fill="#224a7b"/>
<circle cx="126.9" cy="76.8" r="1.42" fill="#224a7b"/>
<circle cx="127.8" cy="67.4" r="1.42" fill="#224a7b"/>
<circle cx="128.8" cy="74.8" r="1.42" fill="#224a7b"/>
<circle cx="125.8" cy="71.1" r="1.42" fill="#224a7b"/>
<circle cx="127.0" cy="73.6" r="1.42" fill="#224a7b"/>
<circle cx="127.9" cy="75.1" r="1.42" fill="#224a7b"/>
<circle cx="128.0" cy="74.0" r="1.42" fill="#224a7b"/>
<circle cx="126.3" cy="77.0" r="1.42" fill="#224a7b"/>
<circle cx="126.3" cy="72.9" r="1.42" fill="#224a7b"/>
<circle cx="128.1" cy="79.3" r="1.42" fill="#224a7b"/>
<circle cx="127.1" cy="80.2" r="1.42" fill="#224a7b"/>
<circle cx="126.8" cy="77.1" r="1.42" fill="#224a7b"/>
<circle cx="128.2" cy="85.8" r="1.42" fill="#224a7b"/>
<circle cx="127.4" cy="69.9" r="1.42" fill="#224a7b"/>
<circle cx="128.4" cy="77.7" r="1.42" fill="#224a7b"/>
<circle cx="126.8" cy="69.0" r="1.42" fill="#224a7b"/>
<circle cx="125.6" cy="70.6" r="1.42" fill="#224a7b"/>
<circle cx="126.4" cy="69.5" r="1.42" fill="#224a7b"/>
<circle cx="127.2" cy="76.4" r="1.42" fill="#224a7b"/>
<circle cx="126.8" cy="68.1" r="1.42" fill="#224a7b"/>
<circle cx="125.8" cy="86.9" r="1.42" fill="#224a7b"/>
<circle cx="128.1" cy="88.4" r="1.42" fill="#224a7b"/>
<circle cx="128.3" cy="67.0" r="1.42" fill="#224a7b"/>
<circle cx="125.7" cy="61.5" r="1.42" fill="#224a7b"/>
<circle cx="126.4" cy="80.9" r="1.42" fill="#224a7b"/>
<circle cx="128.1" cy="77.6" r="1.42" fill="#224a7b"/>
<circle cx="126.1" cy="78.3" r="1.42" fill="#224a7b"/>
<circle cx="126.2" cy="85.0" r="1.42" fill="#224a7b"/>
<circle cx="128.1" cy="79.4" r="1.42" fill="#224a7b"/>
<circle cx="128.2" cy="88.1" r="1.42" fill="#224a7b"/>
<circle cx="127.8" cy="67.0" r="1.42" fill="#224a7b"/>
<circle cx="128.5" cy="74.1" r="1.42" fill="#224a7b"/>
<circle cx="126.5" cy="67.3" r="1.42" fill="#224a7b"/>
<circle cx="125.8" cy="79.5" r="1.42" fill="#224a7b"/>
<circle cx="126.1" cy="80.5" r="1.42" fill="#224a7b"/>
<circle cx="128.4" cy="66.1" r="1.42" fill="#224a7b"/>
<circle cx="128.3" cy="74.6" r="1.42" fill="#224a7b"/>
<circle cx="128.3" cy="65.3" r="1.42" fill="#224a7b"/>
<circle cx="127.0" cy="70.7" r="1.42" fill="#224a7b"/>
<circle cx="127.7" cy="63.3" r="1.42" fill="#224a7b"/>
<circle cx="127.6" cy="61.9" r="1.42" fill="#224a7b"/>
<circle cx="126.7" cy="89.2" r="1.42" fill="#224a7b"/>
<circle cx="127.2" cy="76.5" r="1.42" fill="#224a7b"/>
<circle cx="127.2" cy="61.3" r="1.42" fill="#224a7b"/>
<circle cx="127.2" cy="91.0" r="1.42" fill="#224a7b"/>
<circle cx="142.3" cy="58.1" r="1.42" fill="#a9122d"/>
<circle cx="142.8" cy="71.0" r="1.42" fill="#a9122d"/>
<circle cx="142.5" cy="65.6" r="1.42" fill="#a9122d"/>
<circle cx="141.4" cy="78.7" r="1.42" fill="#a9122d"/>
<circle cx="141.0" cy="60.3" r="1.42" fill="#a9122d"/>
<circle cx="141.6" cy="73.8" r="1.42" fill="#a9122d"/>
<circle cx="141.7" cy="71.0" r="1.42" fill="#a9122d"/>
<circle cx="142.6" cy="84.4" r="1.42" fill="#a9122d"/>
<circle cx="141.9" cy="73.7" r="1.42" fill="#a9122d"/>
<circle cx="140.2" cy="89.9" r="1.42" fill="#a9122d"/>
<circle cx="141.8" cy="94.2" r="1.42" fill="#a9122d"/>
<circle cx="141.0" cy="84.1" r="1.42" fill="#a9122d"/>
<circle cx="142.0" cy="84.7" r="1.42" fill="#a9122d"/>
<circle cx="142.9" cy="90.1" r="1.42" fill="#a9122d"/>
<circle cx="142.0" cy="82.8" r="1.42" fill="#a9122d"/>
<circle cx="142.2" cy="81.9" r="1.42" fill="#a9122d"/>
<circle cx="142.2" cy="96.6" r="1.42" fill="#a9122d"/>
<circle cx="140.6" cy="77.2" r="1.42" fill="#a9122d"/>
<circle cx="142.5" cy="72.6" r="1.42" fill="#a9122d"/>
<circle cx="141.2" cy="84.4" r="1.42" fill="#a9122d"/>
<circle cx="141.8" cy="90.0" r="1.42" fill="#a9122d"/>
<circle cx="141.0" cy="73.7" r="1.42" fill="#a9122d"/>
<circle cx="142.1" cy="86.2" r="1.42" fill="#a9122d"/>
<circle cx="141.8" cy="59.0" r="1.42" fill="#a9122d"/>
<circle cx="141.9" cy="89.5" r="1.42" fill="#a9122d"/>
<circle cx="140.1" cy="75.6" r="1.42" fill="#a9122d"/>
<circle cx="141.9" cy="88.5" r="1.42" fill="#a9122d"/>
<circle cx="141.6" cy="98.2" r="1.42" fill="#a9122d"/>
<circle cx="140.7" cy="87.7" r="1.42" fill="#a9122d"/>
<circle cx="140.1" cy="85.0" r="1.42" fill="#a9122d"/>
<circle cx="143.1" cy="75.0" r="1.42" fill="#a9122d"/>
<circle cx="142.8" cy="72.5" r="1.42" fill="#a9122d"/>
<circle cx="140.8" cy="91.8" r="1.42" fill="#a9122d"/>
<circle cx="140.2" cy="64.6" r="1.42" fill="#a9122d"/>
<circle cx="142.8" cy="86.9" r="1.42" fill="#a9122d"/>
<circle cx="142.0" cy="60.3" r="1.42" fill="#a9122d"/>
<circle cx="143.0" cy="76.2" r="1.42" fill="#a9122d"/>
<circle cx="143.1" cy="78.6" r="1.42" fill="#a9122d"/>
<circle cx="140.1" cy="57.2" r="1.42" fill="#a9122d"/>
<circle cx="140.3" cy="91.3" r="1.42" fill="#a9122d"/>
<circle cx="142.8" cy="76.2" r="1.42" fill="#a9122d"/>
<circle cx="140.2" cy="71.3" r="1.42" fill="#a9122d"/>
<circle cx="142.2" cy="67.9" r="1.42" fill="#a9122d"/>
<circle cx="142.6" cy="72.3" r="1.42" fill="#a9122d"/>
<circle cx="141.4" cy="68.8" r="1.42" fill="#a9122d"/>
<circle cx="142.5" cy="66.4" r="1.42" fill="#a9122d"/>
<circle cx="141.8" cy="89.9" r="1.42" fill="#a9122d"/>
<circle cx="142.7" cy="86.4" r="1.42" fill="#a9122d"/>
<circle cx="142.0" cy="86.3" r="1.42" fill="#a9122d"/>
<circle cx="142.0" cy="91.9" r="1.42" fill="#a9122d"/>
<circle cx="141.2" cy="59.2" r="1.42" fill="#a9122d"/>
<circle cx="142.9" cy="82.2" r="1.42" fill="#a9122d"/>
<circle cx="140.0" cy="68.7" r="1.42" fill="#a9122d"/>
<circle cx="141.4" cy="85.4" r="1.42" fill="#a9122d"/>
<circle cx="140.2" cy="84.8" r="1.42" fill="#a9122d"/>
<circle cx="142.8" cy="91.0" r="1.42" fill="#a9122d"/>
<circle cx="140.9" cy="58.9" r="1.42" fill="#a9122d"/>
<circle cx="142.2" cy="90.8" r="1.42" fill="#a9122d"/>
<circle cx="140.3" cy="71.4" r="1.42" fill="#a9122d"/>
<circle cx="142.4" cy="78.7" r="1.42" fill="#a9122d"/>
<circle cx="142.0" cy="66.6" r="1.42" fill="#a9122d"/>
<circle cx="140.7" cy="76.4" r="1.42" fill="#a9122d"/>
<circle cx="142.4" cy="70.9" r="1.42" fill="#a9122d"/>
<circle cx="140.3" cy="76.1" r="1.42" fill="#a9122d"/>
<circle cx="140.8" cy="89.4" r="1.42" fill="#a9122d"/>
<circle cx="141.7" cy="92.5" r="1.42" fill="#a9122d"/>
<circle cx="141.9" cy="65.1" r="1.42" fill="#a9122d"/>
<circle cx="142.3" cy="79.0" r="1.42" fill="#a9122d"/>
<circle cx="141.8" cy="82.4" r="1.42" fill="#a9122d"/>
<circle cx="140.2" cy="71.6" r="1.42" fill="#a9122d"/>
<circle cx="140.4" cy="72.5" r="1.42" fill="#a9122d"/>
<circle cx="140.5" cy="90.0" r="1.42" fill="#a9122d"/>
<circle cx="141.1" cy="76.3" r="1.42" fill="#a9122d"/>
<circle cx="143.2" cy="79.3" r="1.42" fill="#a9122d"/>
<circle cx="141.8" cy="77.3" r="1.42" fill="#a9122d"/>
<circle cx="142.5" cy="77.2" r="1.42" fill="#a9122d"/>
<circle cx="142.7" cy="92.1" r="1.42" fill="#a9122d"/>
<circle cx="140.2" cy="67.4" r="1.42" fill="#a9122d"/>
<circle cx="140.6" cy="71.6" r="1.42" fill="#a9122d"/>
<circle cx="142.8" cy="88.3" r="1.42" fill="#a9122d"/>
<circle cx="143.1" cy="80.7" r="1.42" fill="#a9122d"/>
<circle cx="141.9" cy="59.4" r="1.42" fill="#a9122d"/>
<circle cx="140.9" cy="94.2" r="1.42" fill="#a9122d"/>
<circle cx="142.1" cy="93.2" r="1.42" fill="#a9122d"/>
<circle cx="141.3" cy="85.0" r="1.42" fill="#a9122d"/>
<circle cx="143.2" cy="90.0" r="1.42" fill="#a9122d"/>
<circle cx="140.2" cy="97.5" r="1.42" fill="#a9122d"/>
<circle cx="142.9" cy="64.8" r="1.42" fill="#a9122d"/>
<circle cx="142.5" cy="58.7" r="1.42" fill="#a9122d"/>
<circle cx="143.2" cy="84.1" r="1.42" fill="#a9122d"/>
<circle cx="140.5" cy="93.2" r="1.42" fill="#a9122d"/>
<circle cx="142.2" cy="96.4" r="1.42" fill="#a9122d"/>
<circle cx="140.4" cy="63.6" r="1.42" fill="#a9122d"/>
<circle cx="140.9" cy="68.3" r="1.42" fill="#a9122d"/>
<circle cx="140.8" cy="71.2" r="1.42" fill="#a9122d"/>
<circle cx="142.2" cy="77.6" r="1.42" fill="#a9122d"/>
<circle cx="140.1" cy="75.6" r="1.42" fill="#a9122d"/>
<circle cx="143.0" cy="66.0" r="1.42" fill="#a9122d"/>
<circle cx="140.5" cy="94.3" r="1.42" fill="#a9122d"/>
<circle cx="140.3" cy="70.8" r="1.42" fill="#a9122d"/>
<circle cx="142.0" cy="92.3" r="1.42" fill="#a9122d"/>
<circle cx="141.6" cy="67.5" r="1.42" fill="#a9122d"/>
<circle cx="140.7" cy="62.7" r="1.42" fill="#a9122d"/>
<circle cx="142.3" cy="91.7" r="1.42" fill="#a9122d"/>
<circle cx="140.9" cy="88.6" r="1.42" fill="#a9122d"/>
<circle cx="140.5" cy="91.9" r="1.42" fill="#a9122d"/>
<circle cx="140.6" cy="81.4" r="1.42" fill="#a9122d"/>
<circle cx="141.0" cy="69.7" r="1.42" fill="#a9122d"/>
<circle cx="143.2" cy="61.5" r="1.42" fill="#a9122d"/>
<circle cx="140.7" cy="87.9" r="1.42" fill="#a9122d"/>
<circle cx="140.9" cy="68.3" r="1.42" fill="#a9122d"/>
<circle cx="143.2" cy="79.6" r="1.42" fill="#a9122d"/>
<circle cx="140.3" cy="95.8" r="1.42" fill="#a9122d"/>
<circle cx="142.9" cy="85.4" r="1.42" fill="#a9122d"/>
<circle cx="143.2" cy="75.7" r="1.42" fill="#a9122d"/>
<circle cx="141.6" cy="57.0" r="1.42" fill="#a9122d"/>
<circle cx="141.6" cy="98.7" r="1.42" fill="#a9122d"/>
<circle cx="141.6" cy="112.8" r="1.6" fill="#a9122d"/>
<rect x="158.27" y="80.00" width="14.20" height="9.60" fill="#fff" stroke="#8a8a8a" stroke-width="0.8" />
<line x1="158.27" y1="84.50" x2="172.47" y2="84.50" stroke="#1a1a1a" stroke-width="1.2" />
<rect x="173.67" y="81.70" width="14.20" height="10.10" fill="#fff" stroke="#8a8a8a" stroke-width="0.8" />
<line x1="173.67" y1="86.20" x2="187.87" y2="86.20" stroke="#1a1a1a" stroke-width="1.2" />
<circle cx="166.9" cy="79.7" r="1.42" fill="#224a7b"/>
<circle cx="166.9" cy="84.7" r="1.42" fill="#224a7b"/>
<circle cx="164.9" cy="84.8" r="1.42" fill="#224a7b"/>
<circle cx="166.1" cy="88.0" r="1.42" fill="#224a7b"/>
<circle cx="164.8" cy="82.4" r="1.42" fill="#224a7b"/>
<circle cx="164.9" cy="90.4" r="1.42" fill="#224a7b"/>
<circle cx="165.9" cy="91.3" r="1.42" fill="#224a7b"/>
<circle cx="164.9" cy="88.7" r="1.42" fill="#224a7b"/>
<circle cx="166.9" cy="90.3" r="1.42" fill="#224a7b"/>
<circle cx="166.6" cy="85.1" r="1.42" fill="#224a7b"/>
<circle cx="166.6" cy="86.6" r="1.42" fill="#224a7b"/>
<circle cx="167.0" cy="86.5" r="1.42" fill="#224a7b"/>
<circle cx="164.3" cy="84.7" r="1.42" fill="#224a7b"/>
<circle cx="167.1" cy="84.3" r="1.42" fill="#224a7b"/>
<circle cx="164.9" cy="79.6" r="1.42" fill="#224a7b"/>
<circle cx="164.8" cy="81.4" r="1.42" fill="#224a7b"/>
<circle cx="165.9" cy="84.0" r="1.42" fill="#224a7b"/>
<circle cx="165.9" cy="84.2" r="1.42" fill="#224a7b"/>
<circle cx="167.0" cy="82.1" r="1.42" fill="#224a7b"/>
<circle cx="166.5" cy="74.0" r="1.42" fill="#224a7b"/>
<circle cx="167.1" cy="84.5" r="1.42" fill="#224a7b"/>
<circle cx="165.9" cy="84.8" r="1.42" fill="#224a7b"/>
<circle cx="166.0" cy="82.4" r="1.42" fill="#224a7b"/>
<circle cx="164.9" cy="88.6" r="1.42" fill="#224a7b"/>
<circle cx="165.1" cy="83.7" r="1.42" fill="#224a7b"/>
<circle cx="164.6" cy="72.6" r="1.42" fill="#224a7b"/>
<circle cx="164.3" cy="76.9" r="1.42" fill="#224a7b"/>
<circle cx="166.5" cy="78.2" r="1.42" fill="#224a7b"/>
<circle cx="167.1" cy="81.2" r="1.42" fill="#224a7b"/>
<circle cx="164.7" cy="73.0" r="1.42" fill="#224a7b"/>
<circle cx="164.7" cy="79.8" r="1.42" fill="#224a7b"/>
<circle cx="164.7" cy="84.5" r="1.42" fill="#224a7b"/>
<circle cx="166.1" cy="86.6" r="1.42" fill="#224a7b"/>
<circle cx="166.9" cy="76.1" r="1.42" fill="#224a7b"/>
<circle cx="165.6" cy="82.0" r="1.42" fill="#224a7b"/>
<circle cx="165.5" cy="85.6" r="1.42" fill="#224a7b"/>
<circle cx="165.4" cy="92.2" r="1.42" fill="#224a7b"/>
<circle cx="165.3" cy="82.0" r="1.42" fill="#224a7b"/>
<circle cx="167.2" cy="94.9" r="1.42" fill="#224a7b"/>
<circle cx="164.4" cy="94.0" r="1.42" fill="#224a7b"/>
<circle cx="167.3" cy="83.3" r="1.42" fill="#224a7b"/>
<circle cx="165.6" cy="78.3" r="1.42" fill="#224a7b"/>
<circle cx="166.0" cy="81.3" r="1.42" fill="#224a7b"/>
<circle cx="164.3" cy="78.2" r="1.42" fill="#224a7b"/>
<circle cx="167.4" cy="87.3" r="1.42" fill="#224a7b"/>
<circle cx="166.3" cy="96.3" r="1.42" fill="#224a7b"/>
<circle cx="167.1" cy="95.0" r="1.42" fill="#224a7b"/>
<circle cx="166.4" cy="81.6" r="1.42" fill="#224a7b"/>
<circle cx="166.0" cy="80.9" r="1.42" fill="#224a7b"/>
<circle cx="165.1" cy="88.1" r="1.42" fill="#224a7b"/>
<circle cx="165.2" cy="79.3" r="1.42" fill="#224a7b"/>
<circle cx="166.2" cy="75.0" r="1.42" fill="#224a7b"/>
<circle cx="165.1" cy="85.3" r="1.42" fill="#224a7b"/>
<circle cx="166.0" cy="90.3" r="1.42" fill="#224a7b"/>
<circle cx="165.2" cy="86.7" r="1.42" fill="#224a7b"/>
<circle cx="165.2" cy="86.7" r="1.42" fill="#224a7b"/>
<circle cx="167.0" cy="90.7" r="1.42" fill="#224a7b"/>
<circle cx="166.4" cy="86.7" r="1.42" fill="#224a7b"/>
<circle cx="166.5" cy="88.3" r="1.42" fill="#224a7b"/>
<circle cx="165.8" cy="76.8" r="1.42" fill="#224a7b"/>
<circle cx="165.0" cy="82.1" r="1.42" fill="#224a7b"/>
<circle cx="166.1" cy="78.8" r="1.42" fill="#224a7b"/>
<circle cx="165.4" cy="84.1" r="1.42" fill="#224a7b"/>
<circle cx="166.1" cy="78.0" r="1.42" fill="#224a7b"/>
<circle cx="165.2" cy="80.8" r="1.42" fill="#224a7b"/>
<circle cx="164.5" cy="76.0" r="1.42" fill="#224a7b"/>
<circle cx="164.5" cy="83.3" r="1.42" fill="#224a7b"/>
<circle cx="166.6" cy="83.3" r="1.42" fill="#224a7b"/>
<circle cx="166.6" cy="86.8" r="1.42" fill="#224a7b"/>
<circle cx="165.4" cy="80.6" r="1.42" fill="#224a7b"/>
<circle cx="167.0" cy="87.9" r="1.42" fill="#224a7b"/>
<circle cx="166.6" cy="85.4" r="1.42" fill="#224a7b"/>
<circle cx="165.8" cy="91.7" r="1.42" fill="#224a7b"/>
<circle cx="167.2" cy="90.4" r="1.42" fill="#224a7b"/>
<circle cx="166.7" cy="84.9" r="1.42" fill="#224a7b"/>
<circle cx="165.9" cy="84.1" r="1.42" fill="#224a7b"/>
<circle cx="165.6" cy="86.8" r="1.42" fill="#224a7b"/>
<circle cx="166.2" cy="94.7" r="1.42" fill="#224a7b"/>
<circle cx="166.6" cy="78.3" r="1.42" fill="#224a7b"/>
<circle cx="165.5" cy="86.4" r="1.42" fill="#224a7b"/>
<circle cx="166.8" cy="80.7" r="1.42" fill="#224a7b"/>
<circle cx="165.7" cy="84.9" r="1.42" fill="#224a7b"/>
<circle cx="165.2" cy="87.9" r="1.42" fill="#224a7b"/>
<circle cx="164.6" cy="77.7" r="1.42" fill="#224a7b"/>
<circle cx="167.0" cy="80.3" r="1.42" fill="#224a7b"/>
<circle cx="164.9" cy="96.9" r="1.42" fill="#224a7b"/>
<circle cx="167.2" cy="81.0" r="1.42" fill="#224a7b"/>
<circle cx="165.9" cy="91.7" r="1.42" fill="#224a7b"/>
<circle cx="166.0" cy="92.1" r="1.42" fill="#224a7b"/>
<circle cx="165.9" cy="85.4" r="1.42" fill="#224a7b"/>
<circle cx="165.4" cy="82.0" r="1.42" fill="#224a7b"/>
<circle cx="165.4" cy="86.7" r="1.42" fill="#224a7b"/>
<circle cx="166.0" cy="89.5" r="1.42" fill="#224a7b"/>
<circle cx="166.1" cy="80.3" r="1.42" fill="#224a7b"/>
<circle cx="167.1" cy="88.7" r="1.42" fill="#224a7b"/>
<circle cx="165.9" cy="72.1" r="1.42" fill="#224a7b"/>
<circle cx="165.9" cy="97.7" r="1.42" fill="#224a7b"/>
<circle cx="165.9" cy="105.7" r="1.6" fill="#224a7b"/>
<circle cx="180.1" cy="85.3" r="1.42" fill="#a9122d"/>
<circle cx="179.8" cy="104.7" r="1.42" fill="#a9122d"/>
<circle cx="179.7" cy="88.3" r="1.42" fill="#a9122d"/>
<circle cx="180.3" cy="98.2" r="1.42" fill="#a9122d"/>
<circle cx="181.5" cy="81.5" r="1.42" fill="#a9122d"/>
<circle cx="181.8" cy="98.0" r="1.42" fill="#a9122d"/>
<circle cx="179.2" cy="82.8" r="1.42" fill="#a9122d"/>
<circle cx="179.3" cy="76.2" r="1.42" fill="#a9122d"/>
<circle cx="180.7" cy="85.5" r="1.42" fill="#a9122d"/>
<circle cx="181.8" cy="80.2" r="1.42" fill="#a9122d"/>
<circle cx="180.0" cy="68.4" r="1.42" fill="#a9122d"/>
<circle cx="180.9" cy="78.5" r="1.42" fill="#a9122d"/>
<circle cx="180.5" cy="80.8" r="1.42" fill="#a9122d"/>
<circle cx="180.3" cy="74.3" r="1.42" fill="#a9122d"/>
<circle cx="179.5" cy="101.5" r="1.42" fill="#a9122d"/>
<circle cx="181.9" cy="87.0" r="1.42" fill="#a9122d"/>
<circle cx="179.2" cy="82.6" r="1.42" fill="#a9122d"/>
<circle cx="179.0" cy="70.9" r="1.42" fill="#a9122d"/>
<circle cx="180.3" cy="88.5" r="1.42" fill="#a9122d"/>
<circle cx="181.3" cy="90.1" r="1.42" fill="#a9122d"/>
<circle cx="179.7" cy="100.6" r="1.42" fill="#a9122d"/>
<circle cx="179.2" cy="80.2" r="1.42" fill="#a9122d"/>
<circle cx="179.0" cy="87.3" r="1.42" fill="#a9122d"/>
<circle cx="179.8" cy="88.9" r="1.42" fill="#a9122d"/>
<circle cx="181.5" cy="84.1" r="1.42" fill="#a9122d"/>
<circle cx="181.7" cy="88.1" r="1.42" fill="#a9122d"/>
<circle cx="178.8" cy="81.5" r="1.42" fill="#a9122d"/>
<circle cx="179.7" cy="99.3" r="1.42" fill="#a9122d"/>
<circle cx="179.6" cy="97.8" r="1.42" fill="#a9122d"/>
<circle cx="180.3" cy="103.3" r="1.42" fill="#a9122d"/>
<circle cx="179.9" cy="76.0" r="1.42" fill="#a9122d"/>
<circle cx="179.7" cy="75.2" r="1.42" fill="#a9122d"/>
<circle cx="181.2" cy="85.2" r="1.42" fill="#a9122d"/>
<circle cx="179.2" cy="81.8" r="1.42" fill="#a9122d"/>
<circle cx="179.6" cy="94.9" r="1.42" fill="#a9122d"/>
<circle cx="180.4" cy="71.2" r="1.42" fill="#a9122d"/>
<circle cx="179.1" cy="83.7" r="1.42" fill="#a9122d"/>
<circle cx="179.5" cy="80.1" r="1.42" fill="#a9122d"/>
<circle cx="179.6" cy="88.0" r="1.42" fill="#a9122d"/>
<circle cx="179.8" cy="98.4" r="1.42" fill="#a9122d"/>
<circle cx="180.9" cy="88.9" r="1.42" fill="#a9122d"/>
<circle cx="179.1" cy="84.2" r="1.42" fill="#a9122d"/>
<circle cx="181.3" cy="102.1" r="1.42" fill="#a9122d"/>
<circle cx="179.8" cy="72.9" r="1.42" fill="#a9122d"/>
<circle cx="181.7" cy="81.1" r="1.42" fill="#a9122d"/>
<circle cx="179.4" cy="95.7" r="1.42" fill="#a9122d"/>
<circle cx="179.1" cy="83.2" r="1.42" fill="#a9122d"/>
<circle cx="181.5" cy="76.7" r="1.42" fill="#a9122d"/>
<circle cx="180.6" cy="81.9" r="1.42" fill="#a9122d"/>
<circle cx="181.5" cy="90.9" r="1.42" fill="#a9122d"/>
<circle cx="179.5" cy="75.7" r="1.42" fill="#a9122d"/>
<circle cx="180.8" cy="81.4" r="1.42" fill="#a9122d"/>
<circle cx="179.7" cy="85.3" r="1.42" fill="#a9122d"/>
<circle cx="181.4" cy="90.7" r="1.42" fill="#a9122d"/>
<circle cx="180.8" cy="88.9" r="1.42" fill="#a9122d"/>
<circle cx="180.3" cy="78.8" r="1.42" fill="#a9122d"/>
<circle cx="178.9" cy="83.2" r="1.42" fill="#a9122d"/>
<circle cx="181.0" cy="86.8" r="1.42" fill="#a9122d"/>
<circle cx="180.0" cy="90.5" r="1.42" fill="#a9122d"/>
<circle cx="181.5" cy="96.2" r="1.42" fill="#a9122d"/>
<circle cx="179.6" cy="71.8" r="1.42" fill="#a9122d"/>
<circle cx="179.8" cy="80.9" r="1.42" fill="#a9122d"/>
<circle cx="180.8" cy="74.9" r="1.42" fill="#a9122d"/>
<circle cx="181.4" cy="76.2" r="1.42" fill="#a9122d"/>
<circle cx="179.0" cy="82.5" r="1.42" fill="#a9122d"/>
<circle cx="181.0" cy="94.7" r="1.42" fill="#a9122d"/>
<circle cx="178.8" cy="82.3" r="1.42" fill="#a9122d"/>
<circle cx="179.9" cy="88.5" r="1.42" fill="#a9122d"/>
<circle cx="179.7" cy="93.0" r="1.42" fill="#a9122d"/>
<circle cx="181.4" cy="73.6" r="1.42" fill="#a9122d"/>
<circle cx="180.1" cy="84.9" r="1.42" fill="#a9122d"/>
<circle cx="178.7" cy="80.1" r="1.42" fill="#a9122d"/>
<circle cx="179.6" cy="96.3" r="1.42" fill="#a9122d"/>
<circle cx="181.4" cy="79.9" r="1.42" fill="#a9122d"/>
<circle cx="179.5" cy="68.6" r="1.42" fill="#a9122d"/>
<circle cx="181.6" cy="87.7" r="1.42" fill="#a9122d"/>
<circle cx="180.9" cy="70.1" r="1.42" fill="#a9122d"/>
<circle cx="181.1" cy="80.6" r="1.42" fill="#a9122d"/>
<circle cx="179.0" cy="77.5" r="1.42" fill="#a9122d"/>
<circle cx="181.6" cy="82.9" r="1.42" fill="#a9122d"/>
<circle cx="181.3" cy="94.9" r="1.42" fill="#a9122d"/>
<circle cx="178.8" cy="84.0" r="1.42" fill="#a9122d"/>
<circle cx="180.3" cy="83.1" r="1.42" fill="#a9122d"/>
<circle cx="181.1" cy="71.7" r="1.42" fill="#a9122d"/>
<circle cx="179.5" cy="81.7" r="1.42" fill="#a9122d"/>
<circle cx="181.8" cy="71.6" r="1.42" fill="#a9122d"/>
<circle cx="179.5" cy="87.5" r="1.42" fill="#a9122d"/>
<circle cx="179.3" cy="80.7" r="1.42" fill="#a9122d"/>
<circle cx="179.1" cy="93.0" r="1.42" fill="#a9122d"/>
<circle cx="179.4" cy="92.3" r="1.42" fill="#a9122d"/>
<circle cx="181.7" cy="77.1" r="1.42" fill="#a9122d"/>
<circle cx="179.6" cy="85.3" r="1.42" fill="#a9122d"/>
<circle cx="180.5" cy="72.2" r="1.42" fill="#a9122d"/>
<circle cx="181.1" cy="90.5" r="1.42" fill="#a9122d"/>
<circle cx="180.8" cy="76.4" r="1.42" fill="#a9122d"/>
<circle cx="181.3" cy="72.2" r="1.42" fill="#a9122d"/>
<circle cx="179.6" cy="89.7" r="1.42" fill="#a9122d"/>
<circle cx="179.6" cy="87.0" r="1.42" fill="#a9122d"/>
<circle cx="180.9" cy="89.1" r="1.42" fill="#a9122d"/>
<circle cx="180.2" cy="91.9" r="1.42" fill="#a9122d"/>
<circle cx="179.2" cy="91.1" r="1.42" fill="#a9122d"/>
<circle cx="178.9" cy="95.3" r="1.42" fill="#a9122d"/>
<circle cx="180.5" cy="104.0" r="1.42" fill="#a9122d"/>
<circle cx="180.2" cy="88.0" r="1.42" fill="#a9122d"/>
<circle cx="178.7" cy="90.1" r="1.42" fill="#a9122d"/>
<circle cx="180.7" cy="91.3" r="1.42" fill="#a9122d"/>
<circle cx="179.5" cy="91.6" r="1.42" fill="#a9122d"/>
<circle cx="179.1" cy="96.0" r="1.42" fill="#a9122d"/>
<circle cx="179.6" cy="88.7" r="1.42" fill="#a9122d"/>
<circle cx="180.7" cy="70.2" r="1.42" fill="#a9122d"/>
<circle cx="179.2" cy="102.0" r="1.42" fill="#a9122d"/>
<circle cx="181.0" cy="98.4" r="1.42" fill="#a9122d"/>
<circle cx="179.7" cy="92.5" r="1.42" fill="#a9122d"/>
<circle cx="180.4" cy="100.7" r="1.42" fill="#a9122d"/>
<circle cx="178.8" cy="89.3" r="1.42" fill="#a9122d"/>
<circle cx="180.3" cy="67.1" r="1.42" fill="#a9122d"/>
<circle cx="180.3" cy="104.5" r="1.42" fill="#a9122d"/>
<circle cx="180.3" cy="64.7" r="1.6" fill="#a9122d"/>
<circle cx="180.3" cy="115.0" r="1.6" fill="#a9122d"/>
<rect x="196.91" y="51.60" width="14.20" height="8.90" fill="#fff" stroke="#8a8a8a" stroke-width="0.8" />
<line x1="196.91" y1="56.00" x2="211.11" y2="56.00" stroke="#1a1a1a" stroke-width="1.2" />
<rect x="212.31" y="51.20" width="14.20" height="9.70" fill="#fff" stroke="#8a8a8a" stroke-width="0.8" />
<line x1="212.31" y1="56.00" x2="226.51" y2="56.00" stroke="#1a1a1a" stroke-width="1.2" />
<circle cx="204.9" cy="52.6" r="1.42" fill="#224a7b"/>
<circle cx="205.8" cy="64.5" r="1.42" fill="#224a7b"/>
<circle cx="204.5" cy="59.5" r="1.42" fill="#224a7b"/>
<circle cx="203.2" cy="53.9" r="1.42" fill="#224a7b"/>
<circle cx="204.3" cy="51.7" r="1.42" fill="#224a7b"/>
<circle cx="203.0" cy="49.9" r="1.42" fill="#224a7b"/>
<circle cx="203.5" cy="62.6" r="1.42" fill="#224a7b"/>
<circle cx="205.6" cy="47.9" r="1.42" fill="#224a7b"/>
<circle cx="204.3" cy="66.4" r="1.42" fill="#224a7b"/>
<circle cx="204.3" cy="52.7" r="1.42" fill="#224a7b"/>
<circle cx="204.3" cy="50.6" r="1.42" fill="#224a7b"/>
<circle cx="205.8" cy="67.4" r="1.42" fill="#224a7b"/>
<circle cx="204.7" cy="54.4" r="1.42" fill="#224a7b"/>
<circle cx="203.5" cy="61.5" r="1.42" fill="#224a7b"/>
<circle cx="206.0" cy="53.4" r="1.42" fill="#224a7b"/>
<circle cx="206.0" cy="68.3" r="1.42" fill="#224a7b"/>
<circle cx="205.5" cy="62.5" r="1.42" fill="#224a7b"/>
<circle cx="205.1" cy="61.2" r="1.42" fill="#224a7b"/>
<circle cx="204.7" cy="54.8" r="1.42" fill="#224a7b"/>
<circle cx="205.0" cy="59.2" r="1.42" fill="#224a7b"/>
<circle cx="203.0" cy="49.9" r="1.42" fill="#224a7b"/>
<circle cx="205.1" cy="65.1" r="1.42" fill="#224a7b"/>
<circle cx="204.1" cy="62.7" r="1.42" fill="#224a7b"/>
<circle cx="204.2" cy="59.9" r="1.42" fill="#224a7b"/>
<circle cx="203.3" cy="51.1" r="1.42" fill="#224a7b"/>
<circle cx="205.8" cy="53.9" r="1.42" fill="#224a7b"/>
<circle cx="203.7" cy="64.0" r="1.42" fill="#224a7b"/>
<circle cx="204.6" cy="62.8" r="1.42" fill="#224a7b"/>
<circle cx="203.6" cy="49.3" r="1.42" fill="#224a7b"/>
<circle cx="203.3" cy="56.5" r="1.42" fill="#224a7b"/>
<circle cx="204.2" cy="54.2" r="1.42" fill="#224a7b"/>
<circle cx="204.3" cy="54.9" r="1.42" fill="#224a7b"/>
<circle cx="205.2" cy="60.8" r="1.42" fill="#224a7b"/>
<circle cx="206.1" cy="50.5" r="1.42" fill="#224a7b"/>
<circle cx="205.6" cy="50.2" r="1.42" fill="#224a7b"/>
<circle cx="204.7" cy="62.3" r="1.42" fill="#224a7b"/>
<circle cx="205.4" cy="51.0" r="1.42" fill="#224a7b"/>
<circle cx="203.7" cy="67.8" r="1.42" fill="#224a7b"/>
<circle cx="203.6" cy="63.0" r="1.42" fill="#224a7b"/>
<circle cx="205.2" cy="56.7" r="1.42" fill="#224a7b"/>
<circle cx="205.7" cy="61.6" r="1.42" fill="#224a7b"/>
<circle cx="205.8" cy="51.3" r="1.42" fill="#224a7b"/>
<circle cx="205.3" cy="51.8" r="1.42" fill="#224a7b"/>
<circle cx="205.6" cy="56.7" r="1.42" fill="#224a7b"/>
<circle cx="204.1" cy="48.1" r="1.42" fill="#224a7b"/>
<circle cx="205.2" cy="70.3" r="1.42" fill="#224a7b"/>
<circle cx="204.7" cy="54.1" r="1.42" fill="#224a7b"/>
<circle cx="205.9" cy="50.5" r="1.42" fill="#224a7b"/>
<circle cx="203.5" cy="53.8" r="1.42" fill="#224a7b"/>
<circle cx="205.6" cy="54.5" r="1.42" fill="#224a7b"/>
<circle cx="203.3" cy="56.8" r="1.42" fill="#224a7b"/>
<circle cx="204.7" cy="52.2" r="1.42" fill="#224a7b"/>
<circle cx="205.1" cy="56.7" r="1.42" fill="#224a7b"/>
<circle cx="204.6" cy="62.6" r="1.42" fill="#224a7b"/>
<circle cx="205.9" cy="67.0" r="1.42" fill="#224a7b"/>
<circle cx="204.0" cy="64.5" r="1.42" fill="#224a7b"/>
<circle cx="203.0" cy="66.8" r="1.42" fill="#224a7b"/>
<circle cx="205.5" cy="55.9" r="1.42" fill="#224a7b"/>
<circle cx="204.4" cy="57.1" r="1.42" fill="#224a7b"/>
<circle cx="205.7" cy="59.0" r="1.42" fill="#224a7b"/>
<circle cx="204.0" cy="49.6" r="1.42" fill="#224a7b"/>
<circle cx="205.8" cy="51.6" r="1.42" fill="#224a7b"/>
<circle cx="204.1" cy="59.1" r="1.42" fill="#224a7b"/>
<circle cx="204.8" cy="56.9" r="1.42" fill="#224a7b"/>
<circle cx="204.8" cy="55.7" r="1.42" fill="#224a7b"/>
<circle cx="203.0" cy="56.5" r="1.42" fill="#224a7b"/>
<circle cx="203.4" cy="57.6" r="1.42" fill="#224a7b"/>
<circle cx="203.8" cy="54.3" r="1.42" fill="#224a7b"/>
<circle cx="203.7" cy="55.9" r="1.42" fill="#224a7b"/>
<circle cx="203.0" cy="71.3" r="1.42" fill="#224a7b"/>
<circle cx="205.4" cy="53.7" r="1.42" fill="#224a7b"/>
<circle cx="204.9" cy="66.2" r="1.42" fill="#224a7b"/>
<circle cx="203.8" cy="56.4" r="1.42" fill="#224a7b"/>
<circle cx="205.9" cy="68.5" r="1.42" fill="#224a7b"/>
<circle cx="205.4" cy="55.0" r="1.42" fill="#224a7b"/>
<circle cx="204.5" cy="48.1" r="1.42" fill="#224a7b"/>
<circle cx="204.5" cy="71.2" r="1.42" fill="#224a7b"/>
<circle cx="219.3" cy="56.5" r="1.42" fill="#a9122d"/>
<circle cx="217.5" cy="52.0" r="1.42" fill="#a9122d"/>
<circle cx="218.3" cy="54.7" r="1.42" fill="#a9122d"/>
<circle cx="218.5" cy="56.0" r="1.42" fill="#a9122d"/>
<circle cx="217.7" cy="56.4" r="1.42" fill="#a9122d"/>
<circle cx="220.1" cy="59.8" r="1.42" fill="#a9122d"/>
<circle cx="218.3" cy="51.0" r="1.42" fill="#a9122d"/>
<circle cx="217.5" cy="57.8" r="1.42" fill="#a9122d"/>
<circle cx="219.1" cy="53.6" r="1.42" fill="#a9122d"/>
<circle cx="220.3" cy="53.3" r="1.42" fill="#a9122d"/>
<circle cx="217.6" cy="62.2" r="1.42" fill="#a9122d"/>
<circle cx="219.8" cy="53.6" r="1.42" fill="#a9122d"/>
<circle cx="220.1" cy="50.1" r="1.42" fill="#a9122d"/>
<circle cx="218.2" cy="47.2" r="1.42" fill="#a9122d"/>
<circle cx="217.4" cy="56.9" r="1.42" fill="#a9122d"/>
<circle cx="218.0" cy="55.3" r="1.42" fill="#a9122d"/>
<circle cx="218.0" cy="62.4" r="1.42" fill="#a9122d"/>
<circle cx="219.4" cy="63.1" r="1.42" fill="#a9122d"/>
<circle cx="219.2" cy="54.9" r="1.42" fill="#a9122d"/>
<circle cx="220.1" cy="62.1" r="1.42" fill="#a9122d"/>
<circle cx="219.0" cy="57.7" r="1.42" fill="#a9122d"/>
<circle cx="220.3" cy="58.9" r="1.42" fill="#a9122d"/>
<circle cx="218.4" cy="58.0" r="1.42" fill="#a9122d"/>
<circle cx="218.6" cy="59.1" r="1.42" fill="#a9122d"/>
<circle cx="217.5" cy="53.3" r="1.42" fill="#a9122d"/>
<circle cx="218.4" cy="61.6" r="1.42" fill="#a9122d"/>
<circle cx="219.2" cy="57.6" r="1.42" fill="#a9122d"/>
<circle cx="220.3" cy="55.3" r="1.42" fill="#a9122d"/>
<circle cx="220.5" cy="56.2" r="1.42" fill="#a9122d"/>
<circle cx="218.4" cy="51.0" r="1.42" fill="#a9122d"/>
<circle cx="217.8" cy="51.6" r="1.42" fill="#a9122d"/>
<circle cx="219.9" cy="56.2" r="1.42" fill="#a9122d"/>
<circle cx="219.0" cy="54.2" r="1.42" fill="#a9122d"/>
<circle cx="219.2" cy="50.3" r="1.42" fill="#a9122d"/>
<circle cx="219.7" cy="54.0" r="1.42" fill="#a9122d"/>
<circle cx="219.8" cy="54.3" r="1.42" fill="#a9122d"/>
<circle cx="219.8" cy="49.2" r="1.42" fill="#a9122d"/>
<circle cx="218.2" cy="55.4" r="1.42" fill="#a9122d"/>
<circle cx="217.3" cy="58.0" r="1.42" fill="#a9122d"/>
<circle cx="219.4" cy="55.2" r="1.42" fill="#a9122d"/>
<circle cx="220.5" cy="53.7" r="1.42" fill="#a9122d"/>
<circle cx="217.4" cy="56.1" r="1.42" fill="#a9122d"/>
<circle cx="217.5" cy="54.2" r="1.42" fill="#a9122d"/>
<circle cx="220.3" cy="53.5" r="1.42" fill="#a9122d"/>
<circle cx="217.8" cy="55.1" r="1.42" fill="#a9122d"/>
<circle cx="217.8" cy="55.3" r="1.42" fill="#a9122d"/>
<circle cx="218.1" cy="61.5" r="1.42" fill="#a9122d"/>
<circle cx="219.3" cy="56.3" r="1.42" fill="#a9122d"/>
<circle cx="218.3" cy="57.4" r="1.42" fill="#a9122d"/>
<circle cx="219.7" cy="49.0" r="1.42" fill="#a9122d"/>
<circle cx="219.4" cy="51.6" r="1.42" fill="#a9122d"/>
<circle cx="219.1" cy="57.0" r="1.42" fill="#a9122d"/>
<circle cx="220.3" cy="54.9" r="1.42" fill="#a9122d"/>
<circle cx="218.0" cy="58.7" r="1.42" fill="#a9122d"/>
<circle cx="218.1" cy="55.7" r="1.42" fill="#a9122d"/>
<circle cx="219.7" cy="60.4" r="1.42" fill="#a9122d"/>
<circle cx="220.5" cy="52.6" r="1.42" fill="#a9122d"/>
<circle cx="220.1" cy="53.8" r="1.42" fill="#a9122d"/>
<circle cx="219.7" cy="52.0" r="1.42" fill="#a9122d"/>
<circle cx="218.4" cy="52.3" r="1.42" fill="#a9122d"/>
<circle cx="220.2" cy="55.0" r="1.42" fill="#a9122d"/>
<circle cx="218.8" cy="53.7" r="1.42" fill="#a9122d"/>
<circle cx="220.1" cy="50.9" r="1.42" fill="#a9122d"/>
<circle cx="219.8" cy="58.9" r="1.42" fill="#a9122d"/>
<circle cx="220.1" cy="50.4" r="1.42" fill="#a9122d"/>
<circle cx="218.9" cy="47.3" r="1.42" fill="#a9122d"/>
<circle cx="218.9" cy="65.3" r="1.42" fill="#a9122d"/>
<circle cx="218.9" cy="70.7" r="1.6" fill="#a9122d"/>
<circle cx="218.9" cy="74.0" r="1.6" fill="#a9122d"/>
<circle cx="218.9" cy="94.7" r="1.6" fill="#a9122d"/>
<rect x="235.55" y="57.10" width="14.20" height="7.60" fill="#fff" stroke="#8a8a8a" stroke-width="0.8" />
<line x1="235.55" y1="60.80" x2="249.75" y2="60.80" stroke="#1a1a1a" stroke-width="1.2" />
<rect x="250.95" y="58.00" width="14.20" height="10.60" fill="#fff" stroke="#8a8a8a" stroke-width="0.8" />
<line x1="250.95" y1="64.70" x2="265.15" y2="64.70" stroke="#1a1a1a" stroke-width="1.2" />
<circle cx="241.6" cy="58.2" r="1.42" fill="#224a7b"/>
<circle cx="244.7" cy="57.5" r="1.42" fill="#224a7b"/>
<circle cx="243.9" cy="63.3" r="1.42" fill="#224a7b"/>
<circle cx="242.1" cy="59.2" r="1.42" fill="#224a7b"/>
<circle cx="242.6" cy="53.3" r="1.42" fill="#224a7b"/>
<circle cx="244.4" cy="68.1" r="1.42" fill="#224a7b"/>
<circle cx="242.3" cy="52.0" r="1.42" fill="#224a7b"/>
<circle cx="241.7" cy="67.5" r="1.42" fill="#224a7b"/>
<circle cx="241.9" cy="61.4" r="1.42" fill="#224a7b"/>
<circle cx="244.7" cy="66.3" r="1.42" fill="#224a7b"/>
<circle cx="243.1" cy="62.7" r="1.42" fill="#224a7b"/>
<circle cx="242.9" cy="59.0" r="1.42" fill="#224a7b"/>
<circle cx="243.9" cy="59.6" r="1.42" fill="#224a7b"/>
<circle cx="241.9" cy="58.1" r="1.42" fill="#224a7b"/>
<circle cx="242.2" cy="59.4" r="1.42" fill="#224a7b"/>
<circle cx="243.9" cy="72.0" r="1.42" fill="#224a7b"/>
<circle cx="242.1" cy="61.1" r="1.42" fill="#224a7b"/>
<circle cx="243.2" cy="62.2" r="1.42" fill="#224a7b"/>
<circle cx="243.3" cy="61.5" r="1.42" fill="#224a7b"/>
<circle cx="243.6" cy="68.8" r="1.42" fill="#224a7b"/>
<circle cx="243.3" cy="61.3" r="1.42" fill="#224a7b"/>
<circle cx="244.3" cy="74.4" r="1.42" fill="#224a7b"/>
<circle cx="242.6" cy="60.6" r="1.42" fill="#224a7b"/>
<circle cx="242.8" cy="65.9" r="1.42" fill="#224a7b"/>
<circle cx="242.0" cy="59.9" r="1.42" fill="#224a7b"/>
<circle cx="243.5" cy="51.3" r="1.42" fill="#224a7b"/>
<circle cx="243.5" cy="57.2" r="1.42" fill="#224a7b"/>
<circle cx="241.9" cy="61.0" r="1.42" fill="#224a7b"/>
<circle cx="244.5" cy="69.7" r="1.42" fill="#224a7b"/>
<circle cx="243.8" cy="64.3" r="1.42" fill="#224a7b"/>
<circle cx="242.6" cy="56.8" r="1.42" fill="#224a7b"/>
<circle cx="243.9" cy="51.2" r="1.42" fill="#224a7b"/>
<circle cx="243.4" cy="63.2" r="1.42" fill="#224a7b"/>
<circle cx="243.6" cy="56.7" r="1.42" fill="#224a7b"/>
<circle cx="243.8" cy="60.1" r="1.42" fill="#224a7b"/>
<circle cx="243.2" cy="55.5" r="1.42" fill="#224a7b"/>
<circle cx="242.6" cy="67.2" r="1.42" fill="#224a7b"/>
<circle cx="242.3" cy="64.0" r="1.42" fill="#224a7b"/>
<circle cx="244.5" cy="57.5" r="1.42" fill="#224a7b"/>
<circle cx="243.1" cy="59.7" r="1.42" fill="#224a7b"/>
<circle cx="242.0" cy="54.5" r="1.42" fill="#224a7b"/>
<circle cx="243.2" cy="63.7" r="1.42" fill="#224a7b"/>
<circle cx="242.1" cy="62.3" r="1.42" fill="#224a7b"/>
<circle cx="243.6" cy="62.1" r="1.42" fill="#224a7b"/>
<circle cx="244.3" cy="72.3" r="1.42" fill="#224a7b"/>
<circle cx="242.8" cy="57.2" r="1.42" fill="#224a7b"/>
<circle cx="241.9" cy="70.5" r="1.42" fill="#224a7b"/>
<circle cx="242.7" cy="60.8" r="1.42" fill="#224a7b"/>
<circle cx="243.0" cy="63.5" r="1.42" fill="#224a7b"/>
<circle cx="242.8" cy="63.2" r="1.42" fill="#224a7b"/>
<circle cx="243.0" cy="67.6" r="1.42" fill="#224a7b"/>
<circle cx="242.0" cy="63.4" r="1.42" fill="#224a7b"/>
<circle cx="243.2" cy="59.9" r="1.42" fill="#224a7b"/>
<circle cx="242.7" cy="52.4" r="1.42" fill="#224a7b"/>
<circle cx="242.2" cy="60.1" r="1.42" fill="#224a7b"/>
<circle cx="241.7" cy="61.5" r="1.42" fill="#224a7b"/>
<circle cx="242.6" cy="60.0" r="1.42" fill="#224a7b"/>
<circle cx="244.2" cy="56.7" r="1.42" fill="#224a7b"/>
<circle cx="242.2" cy="54.0" r="1.42" fill="#224a7b"/>
<circle cx="244.1" cy="53.0" r="1.42" fill="#224a7b"/>
<circle cx="241.7" cy="60.0" r="1.42" fill="#224a7b"/>
<circle cx="242.5" cy="55.2" r="1.42" fill="#224a7b"/>
<circle cx="243.6" cy="66.9" r="1.42" fill="#224a7b"/>
<circle cx="242.8" cy="59.5" r="1.42" fill="#224a7b"/>
<circle cx="244.7" cy="63.8" r="1.42" fill="#224a7b"/>
<circle cx="243.2" cy="51.5" r="1.42" fill="#224a7b"/>
<circle cx="243.2" cy="74.5" r="1.42" fill="#224a7b"/>
<circle cx="258.1" cy="60.1" r="1.42" fill="#a9122d"/>
<circle cx="256.2" cy="62.5" r="1.42" fill="#a9122d"/>
<circle cx="257.6" cy="60.3" r="1.42" fill="#a9122d"/>
<circle cx="256.0" cy="74.7" r="1.42" fill="#a9122d"/>
<circle cx="257.4" cy="57.6" r="1.42" fill="#a9122d"/>
<circle cx="257.5" cy="68.7" r="1.42" fill="#a9122d"/>
<circle cx="257.5" cy="62.3" r="1.42" fill="#a9122d"/>
<circle cx="258.6" cy="58.3" r="1.42" fill="#a9122d"/>
<circle cx="257.2" cy="72.2" r="1.42" fill="#a9122d"/>
<circle cx="258.4" cy="60.7" r="1.42" fill="#a9122d"/>
<circle cx="256.7" cy="51.7" r="1.42" fill="#a9122d"/>
<circle cx="258.6" cy="56.3" r="1.42" fill="#a9122d"/>
<circle cx="257.8" cy="75.1" r="1.42" fill="#a9122d"/>
<circle cx="258.1" cy="71.1" r="1.42" fill="#a9122d"/>
<circle cx="256.1" cy="63.7" r="1.42" fill="#a9122d"/>
<circle cx="257.8" cy="61.5" r="1.42" fill="#a9122d"/>
<circle cx="258.7" cy="74.7" r="1.42" fill="#a9122d"/>
<circle cx="256.0" cy="60.2" r="1.42" fill="#a9122d"/>
<circle cx="256.8" cy="56.8" r="1.42" fill="#a9122d"/>
<circle cx="256.8" cy="72.3" r="1.42" fill="#a9122d"/>
<circle cx="257.6" cy="66.1" r="1.42" fill="#a9122d"/>
<circle cx="258.7" cy="70.6" r="1.42" fill="#a9122d"/>
<circle cx="256.8" cy="76.0" r="1.42" fill="#a9122d"/>
<circle cx="256.1" cy="66.7" r="1.42" fill="#a9122d"/>
<circle cx="257.5" cy="59.0" r="1.42" fill="#a9122d"/>
<circle cx="257.1" cy="70.5" r="1.42" fill="#a9122d"/>
<circle cx="258.9" cy="54.4" r="1.42" fill="#a9122d"/>
<circle cx="257.7" cy="70.7" r="1.42" fill="#a9122d"/>
<circle cx="257.8" cy="66.7" r="1.42" fill="#a9122d"/>
<circle cx="256.9" cy="62.8" r="1.42" fill="#a9122d"/>
<circle cx="257.8" cy="74.2" r="1.42" fill="#a9122d"/>
<circle cx="258.9" cy="77.6" r="1.42" fill="#a9122d"/>
<circle cx="257.3" cy="66.5" r="1.42" fill="#a9122d"/>
<circle cx="258.7" cy="49.4" r="1.42" fill="#a9122d"/>
<circle cx="257.9" cy="63.0" r="1.42" fill="#a9122d"/>
<circle cx="258.5" cy="73.0" r="1.42" fill="#a9122d"/>
<circle cx="258.1" cy="60.3" r="1.42" fill="#a9122d"/>
<circle cx="256.6" cy="57.5" r="1.42" fill="#a9122d"/>
<circle cx="258.9" cy="52.6" r="1.42" fill="#a9122d"/>
<circle cx="258.5" cy="67.3" r="1.42" fill="#a9122d"/>
<circle cx="258.1" cy="61.4" r="1.42" fill="#a9122d"/>
<circle cx="258.8" cy="66.6" r="1.42" fill="#a9122d"/>
<circle cx="256.1" cy="52.9" r="1.42" fill="#a9122d"/>
<circle cx="258.6" cy="49.2" r="1.42" fill="#a9122d"/>
<circle cx="257.0" cy="65.7" r="1.42" fill="#a9122d"/>
<circle cx="256.4" cy="74.3" r="1.42" fill="#a9122d"/>
<circle cx="258.6" cy="58.5" r="1.42" fill="#a9122d"/>
<circle cx="257.2" cy="70.9" r="1.42" fill="#a9122d"/>
<circle cx="258.0" cy="60.3" r="1.42" fill="#a9122d"/>
<circle cx="257.4" cy="61.6" r="1.42" fill="#a9122d"/>
<circle cx="258.1" cy="61.9" r="1.42" fill="#a9122d"/>
<circle cx="258.6" cy="63.8" r="1.42" fill="#a9122d"/>
<circle cx="257.6" cy="78.7" r="1.42" fill="#a9122d"/>
<circle cx="257.1" cy="53.4" r="1.42" fill="#a9122d"/>
<circle cx="258.9" cy="64.1" r="1.42" fill="#a9122d"/>
<circle cx="257.9" cy="50.2" r="1.42" fill="#a9122d"/>
<circle cx="256.2" cy="66.1" r="1.42" fill="#a9122d"/>
<circle cx="258.7" cy="62.6" r="1.42" fill="#a9122d"/>
<circle cx="258.9" cy="80.0" r="1.42" fill="#a9122d"/>
<circle cx="257.1" cy="49.1" r="1.42" fill="#a9122d"/>
<circle cx="257.6" cy="48.1" r="1.42" fill="#a9122d"/>
<circle cx="257.6" cy="80.4" r="1.42" fill="#a9122d"/>
<path d="M49.15,42.00 L49.15,41.10 L65.15,41.10 L65.15,42.00" fill="none" stroke="#555" stroke-width="0.9"/>
<text x="57.15" y="37.70" font-size="5.5" text-anchor="middle" fill="#333" font-weight="normal" stroke="#333" stroke-width="0.18" >0.698</text>
<path d="M87.79,42.00 L87.79,41.10 L103.79,41.10 L103.79,42.00" fill="none" stroke="#555" stroke-width="0.9"/>
<text x="95.79" y="37.70" font-size="5.5" text-anchor="middle" fill="#333" font-weight="normal" stroke="#333" stroke-width="0.18" >0.777</text>
<path d="M126.43,42.00 L126.43,41.10 L142.43,41.10 L142.43,42.00" fill="none" stroke="#555" stroke-width="0.9"/>
<text x="134.43" y="37.70" font-size="5.5" text-anchor="middle" fill="#333" font-weight="normal" stroke="#333" stroke-width="0.18" >0.002</text>
<path d="M165.07,42.00 L165.07,41.10 L181.07,41.10 L181.07,42.00" fill="none" stroke="#555" stroke-width="0.9"/>
<text x="173.07" y="37.70" font-size="5.5" text-anchor="middle" fill="#333" font-weight="normal" stroke="#333" stroke-width="0.18" >0.056</text>
<path d="M203.71,42.00 L203.71,41.10 L219.71,41.10 L219.71,42.00" fill="none" stroke="#555" stroke-width="0.9"/>
<text x="211.71" y="37.70" font-size="5.5" text-anchor="middle" fill="#333" font-weight="normal" stroke="#333" stroke-width="0.18" >0.796</text>
<path d="M242.35,42.00 L242.35,41.10 L258.35,41.10 L258.35,42.00" fill="none" stroke="#555" stroke-width="0.9"/>
<text x="250.35" y="37.70" font-size="5.5" text-anchor="middle" fill="#333" font-weight="normal" stroke="#333" stroke-width="0.18" >0.28</text>
<rect x="107.20" y="190.80" width="6.80" height="6.10" fill="#fff" stroke="#777" stroke-width="0.7" />
<line x1="110.60" y1="190.80" x2="110.60" y2="196.90" stroke="#777" stroke-width="0.6" />
<ellipse cx="110.60" cy="193.80" rx="1.75" ry="2.3" fill="#142c4a"/>
<rect x="148.60" y="190.80" width="6.80" height="6.10" fill="#fff" stroke="#777" stroke-width="0.7" />
<line x1="152.00" y1="190.80" x2="152.00" y2="196.90" stroke="#777" stroke-width="0.6" />
<ellipse cx="152.00" cy="193.80" rx="1.75" ry="2.3" fill="#6e1230"/>
<text x="116.90" y="195.80" font-size="5.6" text-anchor="start" fill="#333" font-weight="normal" stroke="#333" stroke-width="0.18" textLength="15.80" lengthAdjust="spacingAndGlyphs" >HCWs</text>
<text x="159.20" y="195.80" font-size="5.6" text-anchor="start" fill="#333" font-weight="normal" stroke="#333" stroke-width="0.18" textLength="26.30" lengthAdjust="spacingAndGlyphs" >TDT: naive</text>
<line x1="32.00" y1="211.80" x2="32.00" y2="323.50" stroke="#111" stroke-width="1.5" />
<line x1="28.80" y1="318.30" x2="32.00" y2="318.30" stroke="#111" stroke-width="1.0" />
<text x="21.80" y="320.60" font-size="6.6" text-anchor="end" fill="#2a2a2a" font-weight="normal" stroke="#2a2a2a" stroke-width="0.18" textLength="6.20" lengthAdjust="spacingAndGlyphs" >10</text>
<text x="22.20" y="317.80" font-size="4.1" text-anchor="start" fill="#2a2a2a" font-weight="normal" stroke="#2a2a2a" stroke-width="0.12" >&#8722;1</text>
<line x1="29.80" y1="312.10" x2="32.00" y2="312.10" stroke="#111" stroke-width="0.8" />
<line x1="29.80" y1="308.47" x2="32.00" y2="308.47" stroke="#111" stroke-width="0.8" />
<line x1="29.80" y1="305.90" x2="32.00" y2="305.90" stroke="#111" stroke-width="0.8" />
<line x1="29.80" y1="303.90" x2="32.00" y2="303.90" stroke="#111" stroke-width="0.8" />
<line x1="29.80" y1="302.27" x2="32.00" y2="302.27" stroke="#111" stroke-width="0.8" />
<line x1="29.80" y1="300.89" x2="32.00" y2="300.89" stroke="#111" stroke-width="0.8" />
<line x1="29.80" y1="299.70" x2="32.00" y2="299.70" stroke="#111" stroke-width="0.8" />
<line x1="29.80" y1="298.64" x2="32.00" y2="298.64" stroke="#111" stroke-width="0.8" />
<line x1="28.80" y1="297.70" x2="32.00" y2="297.70" stroke="#111" stroke-width="1.0" />
<text x="21.80" y="300.00" font-size="6.6" text-anchor="end" fill="#2a2a2a" font-weight="normal" stroke="#2a2a2a" stroke-width="0.18" textLength="6.20" lengthAdjust="spacingAndGlyphs" >10</text>
<text x="22.20" y="297.20" font-size="4.1" text-anchor="start" fill="#2a2a2a" font-weight="normal" stroke="#2a2a2a" stroke-width="0.12" >0</text>
<line x1="29.80" y1="291.50" x2="32.00" y2="291.50" stroke="#111" stroke-width="0.8" />
<line x1="29.80" y1="287.87" x2="32.00" y2="287.87" stroke="#111" stroke-width="0.8" />
<line x1="29.80" y1="285.30" x2="32.00" y2="285.30" stroke="#111" stroke-width="0.8" />
<line x1="29.80" y1="283.30" x2="32.00" y2="283.30" stroke="#111" stroke-width="0.8" />
<line x1="29.80" y1="281.67" x2="32.00" y2="281.67" stroke="#111" stroke-width="0.8" />
<line x1="29.80" y1="280.29" x2="32.00" y2="280.29" stroke="#111" stroke-width="0.8" />
<line x1="29.80" y1="279.10" x2="32.00" y2="279.10" stroke="#111" stroke-width="0.8" />
<line x1="29.80" y1="278.04" x2="32.00" y2="278.04" stroke="#111" stroke-width="0.8" />
<line x1="28.80" y1="277.10" x2="32.00" y2="277.10" stroke="#111" stroke-width="1.0" />
<text x="21.80" y="279.40" font-size="6.6" text-anchor="end" fill="#2a2a2a" font-weight="normal" stroke="#2a2a2a" stroke-width="0.18" textLength="6.20" lengthAdjust="spacingAndGlyphs" >10</text>
<text x="22.20" y="276.60" font-size="4.1" text-anchor="start" fill="#2a2a2a" font-weight="normal" stroke="#2a2a2a" stroke-width="0.12" >1</text>
<line x1="29.80" y1="270.90" x2="32.00" y2="270.90" stroke="#111" stroke-width="0.8" />
<line x1="29.80" y1="267.27" x2="32.00" y2="267.27" stroke="#111" stroke-width="0.8" />
<line x1="29.80" y1="264.70" x2="32.00" y2="264.70" stroke="#111" stroke-width="0.8" />
<line x1="29.80" y1="262.70" x2="32.00" y2="262.70" stroke="#111" stroke-width="0.8" />
<line x1="29.80" y1="261.07" x2="32.00" y2="261.07" stroke="#111" stroke-width="0.8" />
<line x1="29.80" y1="259.69" x2="32.00" y2="259.69" stroke="#111" stroke-width="0.8" />
<line x1="29.80" y1="258.50" x2="32.00" y2="258.50" stroke="#111" stroke-width="0.8" />
<line x1="29.80" y1="257.44" x2="32.00" y2="257.44" stroke="#111" stroke-width="0.8" />
<line x1="28.80" y1="256.50" x2="32.00" y2="256.50" stroke="#111" stroke-width="1.0" />
<text x="21.80" y="258.80" font-size="6.6" text-anchor="end" fill="#2a2a2a" font-weight="normal" stroke="#2a2a2a" stroke-width="0.18" textLength="6.20" lengthAdjust="spacingAndGlyphs" >10</text>
<text x="22.20" y="256.00" font-size="4.1" text-anchor="start" fill="#2a2a2a" font-weight="normal" stroke="#2a2a2a" stroke-width="0.12" >2</text>
<line x1="29.80" y1="250.30" x2="32.00" y2="250.30" stroke="#111" stroke-width="0.8" />
<line x1="29.80" y1="246.67" x2="32.00" y2="246.67" stroke="#111" stroke-width="0.8" />
<line x1="29.80" y1="244.10" x2="32.00" y2="244.10" stroke="#111" stroke-width="0.8" />
<line x1="29.80" y1="242.10" x2="32.00" y2="242.10" stroke="#111" stroke-width="0.8" />
<line x1="29.80" y1="240.47" x2="32.00" y2="240.47" stroke="#111" stroke-width="0.8" />
<line x1="29.80" y1="239.09" x2="32.00" y2="239.09" stroke="#111" stroke-width="0.8" />
<line x1="29.80" y1="237.90" x2="32.00" y2="237.90" stroke="#111" stroke-width="0.8" />
<line x1="29.80" y1="236.84" x2="32.00" y2="236.84" stroke="#111" stroke-width="0.8" />
<line x1="28.80" y1="235.90" x2="32.00" y2="235.90" stroke="#111" stroke-width="1.0" />
<text x="21.80" y="238.20" font-size="6.6" text-anchor="end" fill="#2a2a2a" font-weight="normal" stroke="#2a2a2a" stroke-width="0.18" textLength="6.20" lengthAdjust="spacingAndGlyphs" >10</text>
<text x="22.20" y="235.40" font-size="4.1" text-anchor="start" fill="#2a2a2a" font-weight="normal" stroke="#2a2a2a" stroke-width="0.12" >3</text>
<line x1="29.80" y1="229.70" x2="32.00" y2="229.70" stroke="#111" stroke-width="0.8" />
<line x1="29.80" y1="226.07" x2="32.00" y2="226.07" stroke="#111" stroke-width="0.8" />
<line x1="29.80" y1="223.50" x2="32.00" y2="223.50" stroke="#111" stroke-width="0.8" />
<line x1="29.80" y1="221.50" x2="32.00" y2="221.50" stroke="#111" stroke-width="0.8" />
<line x1="29.80" y1="219.87" x2="32.00" y2="219.87" stroke="#111" stroke-width="0.8" />
<line x1="29.80" y1="218.49" x2="32.00" y2="218.49" stroke="#111" stroke-width="0.8" />
<line x1="29.80" y1="217.30" x2="32.00" y2="217.30" stroke="#111" stroke-width="0.8" />
<line x1="29.80" y1="216.24" x2="32.00" y2="216.24" stroke="#111" stroke-width="0.8" />
<line x1="28.80" y1="215.30" x2="32.00" y2="215.30" stroke="#111" stroke-width="1.0" />
<text x="21.80" y="217.60" font-size="6.6" text-anchor="end" fill="#2a2a2a" font-weight="normal" stroke="#2a2a2a" stroke-width="0.18" textLength="6.20" lengthAdjust="spacingAndGlyphs" >10</text>
<text x="22.20" y="214.80" font-size="4.1" text-anchor="start" fill="#2a2a2a" font-weight="normal" stroke="#2a2a2a" stroke-width="0.12" >4</text>
<line x1="31.30" y1="323.50" x2="270.00" y2="323.50" stroke="#111" stroke-width="1.4" />
<line x1="33.00" y1="297.60" x2="271.50" y2="297.60" stroke="#6e6e6e" stroke-width="0.9" stroke-dasharray="1.6,1.8"/>
<line x1="66.00" y1="323.50" x2="66.00" y2="326.50" stroke="#111" stroke-width="0.9" />
<text x="66.00" y="335.30" font-size="6.5" text-anchor="middle" fill="#333" font-weight="normal" stroke="#333" stroke-width="0.18" >T0</text>
<line x1="123.25" y1="323.50" x2="123.25" y2="326.50" stroke="#111" stroke-width="0.9" />
<text x="123.25" y="335.30" font-size="6.5" text-anchor="middle" fill="#333" font-weight="normal" stroke="#333" stroke-width="0.18" >T1</text>
<line x1="180.50" y1="323.50" x2="180.50" y2="326.50" stroke="#111" stroke-width="0.9" />
<text x="180.50" y="335.30" font-size="6.5" text-anchor="middle" fill="#333" font-weight="normal" stroke="#333" stroke-width="0.18" >T2</text>
<line x1="237.75" y1="323.50" x2="237.75" y2="326.50" stroke="#111" stroke-width="0.9" />
<text x="237.75" y="335.30" font-size="6.5" text-anchor="middle" fill="#333" font-weight="normal" stroke="#333" stroke-width="0.18" >T3</text>
<text x="151.80" y="348.80" font-size="8.8" text-anchor="middle" fill="#2a2a2a" font-weight="normal" stroke="#2a2a2a" stroke-width="0.3" textLength="15.00" lengthAdjust="spacingAndGlyphs" >Time</text>
<text x="0.00" y="0.00" font-size="8.3" text-anchor="middle" fill="#333" font-weight="normal" stroke="#333" stroke-width="0.18" textLength="42.40" lengthAdjust="spacingAndGlyphs" transform="translate(8.3,267.1) rotate(-90)">IFN-&#947; (pg/ml)</text>
<rect x="44.30" y="281.90" width="20.60" height="36.70" fill="#fff" stroke="#7a7a7a" stroke-width="0.8" />
<line x1="44.30" y1="295.40" x2="64.90" y2="295.40" stroke="#1a1a1a" stroke-width="1.3" />
<rect x="67.10" y="288.40" width="20.60" height="9.40" fill="#fff" stroke="#7a7a7a" stroke-width="0.8" />
<line x1="67.10" y1="291.60" x2="87.70" y2="291.60" stroke="#1a1a1a" stroke-width="1.3" />
<rect x="101.55" y="238.00" width="20.60" height="12.00" fill="#fff" stroke="#7a7a7a" stroke-width="0.8" />
<line x1="101.55" y1="245.30" x2="122.15" y2="245.30" stroke="#1a1a1a" stroke-width="1.3" />
<rect x="124.35" y="245.00" width="20.60" height="9.20" fill="#fff" stroke="#7a7a7a" stroke-width="0.8" />
<line x1="124.35" y1="251.60" x2="144.95" y2="251.60" stroke="#1a1a1a" stroke-width="1.3" />
<rect x="158.80" y="242.40" width="20.60" height="11.10" fill="#fff" stroke="#7a7a7a" stroke-width="0.8" />
<line x1="158.80" y1="248.10" x2="179.40" y2="248.10" stroke="#1a1a1a" stroke-width="1.3" />
<rect x="181.60" y="257.00" width="20.60" height="14.30" fill="#fff" stroke="#7a7a7a" stroke-width="0.8" />
<line x1="181.60" y1="260.60" x2="202.20" y2="260.60" stroke="#1a1a1a" stroke-width="1.3" />
<rect x="216.05" y="243.50" width="20.60" height="13.50" fill="#fff" stroke="#7a7a7a" stroke-width="0.8" />
<line x1="216.05" y1="249.30" x2="236.65" y2="249.30" stroke="#1a1a1a" stroke-width="1.3" />
<rect x="238.85" y="251.70" width="20.60" height="13.70" fill="#fff" stroke="#7a7a7a" stroke-width="0.8" />
<line x1="238.85" y1="259.80" x2="259.45" y2="259.80" stroke="#1a1a1a" stroke-width="1.3" />
<line x1="76.10" y1="297.80" x2="76.10" y2="311.20" stroke="#666" stroke-width="0.6" />
<line x1="169.00" y1="253.50" x2="169.00" y2="267.00" stroke="#666" stroke-width="0.6" />
<line x1="249.00" y1="251.70" x2="249.00" y2="244.30" stroke="#666" stroke-width="0.6" />
<circle cx="55.6" cy="262.7" r="1.65" fill="#224a7b"/>
<circle cx="58.0" cy="263.9" r="1.65" fill="#224a7b"/>
<circle cx="49.1" cy="266.3" r="1.65" fill="#224a7b"/>
<circle cx="54.4" cy="267.5" r="1.65" fill="#224a7b"/>
<circle cx="60.9" cy="268.0" r="1.65" fill="#224a7b"/>
<circle cx="58.5" cy="271.0" r="1.65" fill="#224a7b"/>
<circle cx="49.7" cy="272.8" r="1.65" fill="#224a7b"/>
<circle cx="53.8" cy="274.0" r="1.65" fill="#224a7b"/>
<circle cx="59.7" cy="275.7" r="1.65" fill="#224a7b"/>
<circle cx="51.5" cy="276.3" r="1.65" fill="#224a7b"/>
<circle cx="55.6" cy="277.5" r="1.65" fill="#224a7b"/>
<circle cx="60.3" cy="279.3" r="1.65" fill="#224a7b"/>
<circle cx="53.2" cy="279.9" r="1.65" fill="#224a7b"/>
<circle cx="50.3" cy="282.8" r="1.65" fill="#224a7b"/>
<circle cx="53.8" cy="282.2" r="1.65" fill="#224a7b"/>
<circle cx="56.8" cy="281.0" r="1.65" fill="#224a7b"/>
<circle cx="52.0" cy="284.6" r="1.65" fill="#224a7b"/>
<circle cx="55.0" cy="285.2" r="1.65" fill="#224a7b"/>
<circle cx="59.7" cy="287.0" r="1.65" fill="#224a7b"/>
<circle cx="50.9" cy="287.0" r="1.65" fill="#224a7b"/>
<circle cx="56.8" cy="287.6" r="1.65" fill="#224a7b"/>
<circle cx="52.6" cy="288.4" r="1.65" fill="#224a7b"/>
<circle cx="60.9" cy="286.4" r="1.65" fill="#224a7b"/>
<circle cx="49.7" cy="291.7" r="1.65" fill="#224a7b"/>
<circle cx="53.2" cy="291.1" r="1.65" fill="#224a7b"/>
<circle cx="56.2" cy="292.9" r="1.65" fill="#224a7b"/>
<circle cx="60.3" cy="293.5" r="1.65" fill="#224a7b"/>
<circle cx="48.5" cy="293.5" r="1.65" fill="#224a7b"/>
<circle cx="51.5" cy="293.5" r="1.65" fill="#224a7b"/>
<circle cx="58.5" cy="295.8" r="1.65" fill="#224a7b"/>
<circle cx="50.9" cy="297.0" r="1.65" fill="#224a7b"/>
<circle cx="55.0" cy="297.6" r="1.65" fill="#224a7b"/>
<circle cx="54.0" cy="289.0" r="1.65" fill="#224a7b"/>
<circle cx="57.5" cy="284.0" r="1.65" fill="#224a7b"/>
<circle cx="51.0" cy="279.0" r="1.65" fill="#224a7b"/>
<circle cx="57.0" cy="270.0" r="1.65" fill="#224a7b"/>
<circle cx="51.2" cy="300.4" r="1.65" fill="#224a7b"/>
<circle cx="55.8" cy="300.4" r="1.65" fill="#224a7b"/>
<circle cx="60.3" cy="300.4" r="1.65" fill="#224a7b"/>
<circle cx="52.9" cy="306.8" r="1.65" fill="#224a7b"/>
<circle cx="52.9" cy="308.6" r="1.65" fill="#224a7b"/>
<circle cx="52.9" cy="311.6" r="1.65" fill="#224a7b"/>
<circle cx="48.9" cy="318.1" r="1.65" fill="#224a7b"/>
<circle cx="50.5" cy="318.1" r="1.65" fill="#224a7b"/>
<circle cx="52.1" cy="318.1" r="1.65" fill="#224a7b"/>
<circle cx="53.7" cy="318.1" r="1.65" fill="#224a7b"/>
<circle cx="55.3" cy="318.1" r="1.65" fill="#224a7b"/>
<circle cx="56.9" cy="318.1" r="1.65" fill="#224a7b"/>
<circle cx="58.5" cy="318.1" r="1.65" fill="#224a7b"/>
<circle cx="60.1" cy="318.1" r="1.65" fill="#224a7b"/>
<circle cx="61.7" cy="318.1" r="1.65" fill="#224a7b"/>
<circle cx="71.2" cy="285.0" r="1.75" fill="#a9122d"/>
<circle cx="74.5" cy="289.0" r="1.75" fill="#a9122d"/>
<circle cx="76.5" cy="286.5" r="1.75" fill="#a9122d"/>
<circle cx="75.1" cy="293.0" r="1.75" fill="#a9122d"/>
<circle cx="73.5" cy="291.0" r="1.75" fill="#a9122d"/>
<circle cx="77.5" cy="290.0" r="1.75" fill="#a9122d"/>
<circle cx="81.4" cy="302.3" r="1.75" fill="#a9122d"/>
<circle cx="76.1" cy="311.2" r="1.75" fill="#a9122d"/>
<circle cx="107.4" cy="222.7" r="1.65" fill="#224a7b"/>
<circle cx="110.1" cy="223.4" r="1.65" fill="#224a7b"/>
<circle cx="112.8" cy="224.1" r="1.65" fill="#224a7b"/>
<circle cx="108.8" cy="230.2" r="1.65" fill="#224a7b"/>
<circle cx="111.5" cy="230.8" r="1.65" fill="#224a7b"/>
<circle cx="116.9" cy="228.1" r="1.65" fill="#224a7b"/>
<circle cx="116.2" cy="231.5" r="1.65" fill="#224a7b"/>
<circle cx="113.5" cy="259.9" r="1.65" fill="#224a7b"/>
<circle cx="115.5" cy="262.6" r="1.65" fill="#224a7b"/>
<circle cx="118.2" cy="261.2" r="1.65" fill="#224a7b"/>
<circle cx="110.1" cy="258.5" r="1.65" fill="#224a7b"/>
<circle cx="115.0" cy="254.9" r="1.65" fill="#224a7b"/>
<circle cx="111.6" cy="234.2" r="1.65" fill="#224a7b"/>
<circle cx="109.9" cy="244.7" r="1.65" fill="#224a7b"/>
<circle cx="109.3" cy="249.6" r="1.65" fill="#224a7b"/>
<circle cx="110.9" cy="250.5" r="1.65" fill="#224a7b"/>
<circle cx="114.1" cy="235.2" r="1.65" fill="#224a7b"/>
<circle cx="114.0" cy="236.2" r="1.65" fill="#224a7b"/>
<circle cx="114.6" cy="250.5" r="1.65" fill="#224a7b"/>
<circle cx="107.0" cy="244.9" r="1.65" fill="#224a7b"/>
<circle cx="107.9" cy="245.8" r="1.65" fill="#224a7b"/>
<circle cx="108.5" cy="247.9" r="1.65" fill="#224a7b"/>
<circle cx="111.4" cy="246.8" r="1.65" fill="#224a7b"/>
<circle cx="115.6" cy="243.3" r="1.65" fill="#224a7b"/>
<circle cx="109.2" cy="238.5" r="1.65" fill="#224a7b"/>
<circle cx="111.6" cy="254.8" r="1.65" fill="#224a7b"/>
<circle cx="117.9" cy="251.7" r="1.65" fill="#224a7b"/>
<circle cx="108.6" cy="245.2" r="1.65" fill="#224a7b"/>
<circle cx="117.9" cy="236.2" r="1.65" fill="#224a7b"/>
<circle cx="113.4" cy="237.0" r="1.65" fill="#224a7b"/>
<circle cx="108.2" cy="246.2" r="1.65" fill="#224a7b"/>
<circle cx="108.8" cy="245.0" r="1.65" fill="#224a7b"/>
<circle cx="113.5" cy="246.1" r="1.65" fill="#224a7b"/>
<circle cx="109.2" cy="243.2" r="1.65" fill="#224a7b"/>
<circle cx="109.3" cy="243.9" r="1.65" fill="#224a7b"/>
<circle cx="110.2" cy="237.4" r="1.65" fill="#224a7b"/>
<circle cx="113.4" cy="252.5" r="1.65" fill="#224a7b"/>
<circle cx="107.9" cy="253.0" r="1.65" fill="#224a7b"/>
<circle cx="113.3" cy="254.9" r="1.65" fill="#224a7b"/>
<circle cx="114.3" cy="250.6" r="1.65" fill="#224a7b"/>
<circle cx="109.8" cy="248.6" r="1.65" fill="#224a7b"/>
<circle cx="109.0" cy="249.7" r="1.65" fill="#224a7b"/>
<circle cx="107.1" cy="241.0" r="1.65" fill="#224a7b"/>
<circle cx="113.6" cy="243.7" r="1.65" fill="#224a7b"/>
<circle cx="118.7" cy="241.7" r="1.65" fill="#224a7b"/>
<circle cx="114.3" cy="235.8" r="1.65" fill="#224a7b"/>
<circle cx="114.7" cy="240.3" r="1.65" fill="#224a7b"/>
<circle cx="116.1" cy="250.4" r="1.65" fill="#224a7b"/>
<circle cx="110.6" cy="234.8" r="1.65" fill="#224a7b"/>
<circle cx="119.9" cy="247.1" r="1.65" fill="#224a7b"/>
<circle cx="114.6" cy="233.8" r="1.65" fill="#224a7b"/>
<circle cx="117.5" cy="248.7" r="1.65" fill="#224a7b"/>
<circle cx="117.7" cy="242.7" r="1.65" fill="#224a7b"/>
<circle cx="119.2" cy="244.9" r="1.65" fill="#224a7b"/>
<circle cx="117.4" cy="231.4" r="1.65" fill="#224a7b"/>
<circle cx="112.1" cy="244.0" r="1.65" fill="#224a7b"/>
<circle cx="110.4" cy="236.0" r="1.65" fill="#224a7b"/>
<circle cx="115.7" cy="249.4" r="1.65" fill="#224a7b"/>
<circle cx="111.4" cy="238.1" r="1.65" fill="#224a7b"/>
<circle cx="109.6" cy="237.8" r="1.65" fill="#224a7b"/>
<circle cx="111.2" cy="240.0" r="1.65" fill="#224a7b"/>
<circle cx="118.1" cy="256.5" r="1.65" fill="#224a7b"/>
<circle cx="113.1" cy="250.6" r="1.65" fill="#224a7b"/>
<circle cx="117.2" cy="245.5" r="1.65" fill="#224a7b"/>
<circle cx="116.2" cy="253.6" r="1.65" fill="#224a7b"/>
<circle cx="109.4" cy="247.7" r="1.65" fill="#224a7b"/>
<circle cx="118.0" cy="247.5" r="1.65" fill="#224a7b"/>
<circle cx="108.3" cy="250.5" r="1.65" fill="#224a7b"/>
<circle cx="111.4" cy="249.1" r="1.65" fill="#224a7b"/>
<circle cx="119.3" cy="238.4" r="1.65" fill="#224a7b"/>
<circle cx="116.7" cy="248.3" r="1.65" fill="#224a7b"/>
<circle cx="117.5" cy="237.6" r="1.65" fill="#224a7b"/>
<circle cx="117.7" cy="254.6" r="1.65" fill="#224a7b"/>
<circle cx="117.7" cy="249.6" r="1.65" fill="#224a7b"/>
<circle cx="114.5" cy="250.8" r="1.65" fill="#224a7b"/>
<circle cx="117.9" cy="244.5" r="1.65" fill="#224a7b"/>
<circle cx="118.1" cy="250.4" r="1.65" fill="#224a7b"/>
<circle cx="119.7" cy="241.8" r="1.65" fill="#224a7b"/>
<circle cx="119.5" cy="246.1" r="1.65" fill="#224a7b"/>
<circle cx="119.1" cy="237.0" r="1.65" fill="#224a7b"/>
<circle cx="110.3" cy="250.5" r="1.65" fill="#224a7b"/>
<circle cx="110.2" cy="251.7" r="1.65" fill="#224a7b"/>
<circle cx="112.9" cy="239.4" r="1.65" fill="#224a7b"/>
<circle cx="113.3" cy="240.4" r="1.65" fill="#224a7b"/>
<circle cx="115.5" cy="253.6" r="1.65" fill="#224a7b"/>
<circle cx="112.0" cy="249.0" r="1.65" fill="#224a7b"/>
<circle cx="117.1" cy="250.4" r="1.65" fill="#224a7b"/>
<circle cx="119.2" cy="248.5" r="1.65" fill="#224a7b"/>
<circle cx="112.3" cy="251.3" r="1.65" fill="#224a7b"/>
<circle cx="115.2" cy="235.9" r="1.65" fill="#224a7b"/>
<circle cx="111.5" cy="251.6" r="1.65" fill="#224a7b"/>
<circle cx="118.0" cy="247.1" r="1.65" fill="#224a7b"/>
<circle cx="107.2" cy="250.6" r="1.65" fill="#224a7b"/>
<circle cx="106.7" cy="245.4" r="1.65" fill="#224a7b"/>
<circle cx="117.2" cy="236.8" r="1.65" fill="#224a7b"/>
<circle cx="114.8" cy="244.2" r="1.65" fill="#224a7b"/>
<circle cx="111.1" cy="244.8" r="1.65" fill="#224a7b"/>
<circle cx="111.5" cy="239.8" r="1.65" fill="#224a7b"/>
<circle cx="114.8" cy="251.8" r="1.65" fill="#224a7b"/>
<circle cx="107.8" cy="241.7" r="1.65" fill="#224a7b"/>
<circle cx="116.1" cy="241.2" r="1.65" fill="#224a7b"/>
<circle cx="115.6" cy="244.6" r="1.65" fill="#224a7b"/>
<circle cx="108.7" cy="250.9" r="1.65" fill="#224a7b"/>
<circle cx="107.3" cy="248.5" r="1.65" fill="#224a7b"/>
<circle cx="109.5" cy="251.3" r="1.65" fill="#224a7b"/>
<circle cx="119.6" cy="241.2" r="1.65" fill="#224a7b"/>
<circle cx="109.6" cy="243.1" r="1.65" fill="#224a7b"/>
<circle cx="114.7" cy="253.0" r="1.65" fill="#224a7b"/>
<circle cx="112.2" cy="253.1" r="1.65" fill="#224a7b"/>
<circle cx="119.7" cy="245.6" r="1.65" fill="#224a7b"/>
<circle cx="120.1" cy="245.7" r="1.65" fill="#224a7b"/>
<circle cx="117.7" cy="239.2" r="1.65" fill="#224a7b"/>
<circle cx="113.7" cy="238.4" r="1.65" fill="#224a7b"/>
<circle cx="110.8" cy="229.4" r="1.65" fill="#224a7b"/>
<circle cx="112.9" cy="254.9" r="1.65" fill="#224a7b"/>
<circle cx="110.3" cy="251.0" r="1.65" fill="#224a7b"/>
<circle cx="129.8" cy="225.0" r="1.75" fill="#a9122d"/>
<circle cx="128.1" cy="242.5" r="1.75" fill="#a9122d"/>
<circle cx="134.0" cy="243.0" r="1.75" fill="#a9122d"/>
<circle cx="130.6" cy="247.6" r="1.75" fill="#a9122d"/>
<circle cx="133.1" cy="251.8" r="1.75" fill="#a9122d"/>
<circle cx="138.2" cy="252.7" r="1.75" fill="#a9122d"/>
<circle cx="133.7" cy="256.0" r="1.75" fill="#a9122d"/>
<circle cx="134.0" cy="261.7" r="1.75" fill="#a9122d"/>
<circle cx="134.5" cy="274.2" r="1.75" fill="#a9122d"/>
<circle cx="131.5" cy="245.5" r="1.75" fill="#a9122d"/>
<circle cx="165.7" cy="215.8" r="1.65" fill="#224a7b"/>
<circle cx="166.6" cy="223.1" r="1.65" fill="#224a7b"/>
<circle cx="169.5" cy="227.3" r="1.65" fill="#224a7b"/>
<circle cx="171.4" cy="232.1" r="1.65" fill="#224a7b"/>
<circle cx="165.7" cy="274.3" r="1.65" fill="#224a7b"/>
<circle cx="169.5" cy="275.2" r="1.65" fill="#224a7b"/>
<circle cx="174.3" cy="272.3" r="1.65" fill="#224a7b"/>
<circle cx="165.0" cy="244.9" r="1.65" fill="#224a7b"/>
<circle cx="174.4" cy="248.9" r="1.65" fill="#224a7b"/>
<circle cx="168.4" cy="248.2" r="1.65" fill="#224a7b"/>
<circle cx="173.8" cy="258.6" r="1.65" fill="#224a7b"/>
<circle cx="164.8" cy="251.1" r="1.65" fill="#224a7b"/>
<circle cx="169.3" cy="250.3" r="1.65" fill="#224a7b"/>
<circle cx="168.7" cy="260.1" r="1.65" fill="#224a7b"/>
<circle cx="171.6" cy="251.0" r="1.65" fill="#224a7b"/>
<circle cx="170.2" cy="245.5" r="1.65" fill="#224a7b"/>
<circle cx="174.9" cy="251.4" r="1.65" fill="#224a7b"/>
<circle cx="168.2" cy="247.9" r="1.65" fill="#224a7b"/>
<circle cx="166.1" cy="261.3" r="1.65" fill="#224a7b"/>
<circle cx="172.0" cy="255.2" r="1.65" fill="#224a7b"/>
<circle cx="169.3" cy="249.0" r="1.65" fill="#224a7b"/>
<circle cx="174.5" cy="253.0" r="1.65" fill="#224a7b"/>
<circle cx="172.9" cy="252.5" r="1.65" fill="#224a7b"/>
<circle cx="168.3" cy="234.0" r="1.65" fill="#224a7b"/>
<circle cx="175.0" cy="238.9" r="1.65" fill="#224a7b"/>
<circle cx="166.2" cy="257.1" r="1.65" fill="#224a7b"/>
<circle cx="170.9" cy="249.6" r="1.65" fill="#224a7b"/>
<circle cx="168.9" cy="234.8" r="1.65" fill="#224a7b"/>
<circle cx="171.6" cy="252.9" r="1.65" fill="#224a7b"/>
<circle cx="173.2" cy="243.2" r="1.65" fill="#224a7b"/>
<circle cx="170.5" cy="243.5" r="1.65" fill="#224a7b"/>
<circle cx="175.9" cy="246.4" r="1.65" fill="#224a7b"/>
<circle cx="173.7" cy="250.8" r="1.65" fill="#224a7b"/>
<circle cx="168.5" cy="251.3" r="1.65" fill="#224a7b"/>
<circle cx="171.9" cy="260.4" r="1.65" fill="#224a7b"/>
<circle cx="167.3" cy="251.7" r="1.65" fill="#224a7b"/>
<circle cx="170.8" cy="239.8" r="1.65" fill="#224a7b"/>
<circle cx="173.2" cy="255.0" r="1.65" fill="#224a7b"/>
<circle cx="165.5" cy="244.8" r="1.65" fill="#224a7b"/>
<circle cx="174.7" cy="248.3" r="1.65" fill="#224a7b"/>
<circle cx="172.7" cy="239.8" r="1.65" fill="#224a7b"/>
<circle cx="167.8" cy="240.1" r="1.65" fill="#224a7b"/>
<circle cx="168.0" cy="235.2" r="1.65" fill="#224a7b"/>
<circle cx="175.8" cy="245.6" r="1.65" fill="#224a7b"/>
<circle cx="167.1" cy="260.3" r="1.65" fill="#224a7b"/>
<circle cx="175.4" cy="243.9" r="1.65" fill="#224a7b"/>
<circle cx="167.8" cy="240.9" r="1.65" fill="#224a7b"/>
<circle cx="165.1" cy="246.8" r="1.65" fill="#224a7b"/>
<circle cx="168.7" cy="242.7" r="1.65" fill="#224a7b"/>
<circle cx="175.7" cy="245.7" r="1.65" fill="#224a7b"/>
<circle cx="166.4" cy="242.9" r="1.65" fill="#224a7b"/>
<circle cx="169.4" cy="257.8" r="1.65" fill="#224a7b"/>
<circle cx="171.5" cy="255.3" r="1.65" fill="#224a7b"/>
<circle cx="167.8" cy="253.7" r="1.65" fill="#224a7b"/>
<circle cx="172.9" cy="239.5" r="1.65" fill="#224a7b"/>
<circle cx="170.7" cy="247.4" r="1.65" fill="#224a7b"/>
<circle cx="173.0" cy="251.2" r="1.65" fill="#224a7b"/>
<circle cx="168.3" cy="243.1" r="1.65" fill="#224a7b"/>
<circle cx="170.2" cy="258.1" r="1.65" fill="#224a7b"/>
<circle cx="171.5" cy="243.4" r="1.65" fill="#224a7b"/>
<circle cx="173.2" cy="242.7" r="1.65" fill="#224a7b"/>
<circle cx="173.0" cy="234.5" r="1.65" fill="#224a7b"/>
<circle cx="168.1" cy="249.2" r="1.65" fill="#224a7b"/>
<circle cx="167.7" cy="259.1" r="1.65" fill="#224a7b"/>
<circle cx="164.8" cy="242.2" r="1.65" fill="#224a7b"/>
<circle cx="173.1" cy="248.9" r="1.65" fill="#224a7b"/>
<circle cx="168.9" cy="251.4" r="1.65" fill="#224a7b"/>
<circle cx="165.5" cy="254.5" r="1.65" fill="#224a7b"/>
<circle cx="171.7" cy="243.9" r="1.65" fill="#224a7b"/>
<circle cx="171.1" cy="260.7" r="1.65" fill="#224a7b"/>
<circle cx="173.3" cy="251.7" r="1.65" fill="#224a7b"/>
<circle cx="175.4" cy="245.9" r="1.65" fill="#224a7b"/>
<circle cx="168.1" cy="252.8" r="1.65" fill="#224a7b"/>
<circle cx="173.8" cy="245.8" r="1.65" fill="#224a7b"/>
<circle cx="166.1" cy="244.9" r="1.65" fill="#224a7b"/>
<circle cx="170.3" cy="256.4" r="1.65" fill="#224a7b"/>
<circle cx="172.1" cy="248.4" r="1.65" fill="#224a7b"/>
<circle cx="166.2" cy="257.5" r="1.65" fill="#224a7b"/>
<circle cx="164.6" cy="244.6" r="1.65" fill="#224a7b"/>
<circle cx="170.0" cy="246.2" r="1.65" fill="#224a7b"/>
<circle cx="171.8" cy="255.8" r="1.65" fill="#224a7b"/>
<circle cx="168.8" cy="249.4" r="1.65" fill="#224a7b"/>
<circle cx="167.1" cy="249.3" r="1.65" fill="#224a7b"/>
<circle cx="173.1" cy="255.5" r="1.65" fill="#224a7b"/>
<circle cx="166.1" cy="255.4" r="1.65" fill="#224a7b"/>
<circle cx="173.0" cy="251.2" r="1.65" fill="#224a7b"/>
<circle cx="174.9" cy="248.0" r="1.65" fill="#224a7b"/>
<circle cx="172.5" cy="257.4" r="1.65" fill="#224a7b"/>
<circle cx="171.6" cy="254.8" r="1.65" fill="#224a7b"/>
<circle cx="166.0" cy="256.6" r="1.65" fill="#224a7b"/>
<circle cx="172.4" cy="251.9" r="1.65" fill="#224a7b"/>
<circle cx="167.2" cy="250.1" r="1.65" fill="#224a7b"/>
<circle cx="171.0" cy="236.0" r="1.65" fill="#224a7b"/>
<circle cx="167.4" cy="254.9" r="1.65" fill="#224a7b"/>
<circle cx="166.7" cy="241.4" r="1.65" fill="#224a7b"/>
<circle cx="171.8" cy="237.2" r="1.65" fill="#224a7b"/>
<circle cx="172.6" cy="261.2" r="1.65" fill="#224a7b"/>
<circle cx="172.4" cy="245.1" r="1.65" fill="#224a7b"/>
<circle cx="173.4" cy="236.2" r="1.65" fill="#224a7b"/>
<circle cx="163.8" cy="244.3" r="1.65" fill="#224a7b"/>
<circle cx="165.5" cy="250.4" r="1.65" fill="#224a7b"/>
<circle cx="164.6" cy="243.1" r="1.65" fill="#224a7b"/>
<circle cx="170.6" cy="246.9" r="1.65" fill="#224a7b"/>
<circle cx="164.7" cy="254.5" r="1.65" fill="#224a7b"/>
<circle cx="165.6" cy="255.0" r="1.65" fill="#224a7b"/>
<circle cx="171.5" cy="241.7" r="1.65" fill="#224a7b"/>
<circle cx="167.9" cy="244.6" r="1.65" fill="#224a7b"/>
<circle cx="166.5" cy="249.2" r="1.65" fill="#224a7b"/>
<circle cx="166.6" cy="254.1" r="1.65" fill="#224a7b"/>
<circle cx="173.4" cy="255.4" r="1.65" fill="#224a7b"/>
<circle cx="164.1" cy="248.7" r="1.65" fill="#224a7b"/>
<circle cx="164.5" cy="253.7" r="1.65" fill="#224a7b"/>
<circle cx="194.3" cy="248.5" r="1.75" fill="#a9122d"/>
<circle cx="193.7" cy="251.0" r="1.75" fill="#a9122d"/>
<circle cx="194.3" cy="256.0" r="1.75" fill="#a9122d"/>
<circle cx="189.8" cy="258.3" r="1.75" fill="#a9122d"/>
<circle cx="189.0" cy="262.8" r="1.75" fill="#a9122d"/>
<circle cx="196.5" cy="260.0" r="1.75" fill="#a9122d"/>
<circle cx="184.7" cy="270.0" r="1.75" fill="#a9122d"/>
<circle cx="190.3" cy="272.1" r="1.75" fill="#a9122d"/>
<circle cx="196.5" cy="275.0" r="1.75" fill="#a9122d"/>
<circle cx="185.3" cy="318.3" r="1.75" fill="#a9122d"/>
<circle cx="230.2" cy="224.3" r="1.65" fill="#224a7b"/>
<circle cx="226.6" cy="229.7" r="1.65" fill="#224a7b"/>
<circle cx="230.2" cy="231.5" r="1.65" fill="#224a7b"/>
<circle cx="222.1" cy="265.7" r="1.65" fill="#224a7b"/>
<circle cx="224.8" cy="268.5" r="1.65" fill="#224a7b"/>
<circle cx="228.4" cy="269.4" r="1.65" fill="#224a7b"/>
<circle cx="225.7" cy="276.6" r="1.65" fill="#224a7b"/>
<circle cx="226.3" cy="248.4" r="1.65" fill="#224a7b"/>
<circle cx="228.5" cy="235.2" r="1.65" fill="#224a7b"/>
<circle cx="228.1" cy="252.6" r="1.65" fill="#224a7b"/>
<circle cx="227.3" cy="246.2" r="1.65" fill="#224a7b"/>
<circle cx="224.0" cy="250.1" r="1.65" fill="#224a7b"/>
<circle cx="232.2" cy="256.1" r="1.65" fill="#224a7b"/>
<circle cx="232.1" cy="254.4" r="1.65" fill="#224a7b"/>
<circle cx="233.0" cy="244.5" r="1.65" fill="#224a7b"/>
<circle cx="227.0" cy="235.7" r="1.65" fill="#224a7b"/>
<circle cx="226.7" cy="238.5" r="1.65" fill="#224a7b"/>
<circle cx="229.6" cy="251.8" r="1.65" fill="#224a7b"/>
<circle cx="225.3" cy="247.4" r="1.65" fill="#224a7b"/>
<circle cx="226.1" cy="240.5" r="1.65" fill="#224a7b"/>
<circle cx="223.6" cy="243.3" r="1.65" fill="#224a7b"/>
<circle cx="227.4" cy="252.9" r="1.65" fill="#224a7b"/>
<circle cx="223.6" cy="247.1" r="1.65" fill="#224a7b"/>
<circle cx="223.8" cy="252.2" r="1.65" fill="#224a7b"/>
<circle cx="227.9" cy="242.8" r="1.65" fill="#224a7b"/>
<circle cx="232.5" cy="252.2" r="1.65" fill="#224a7b"/>
<circle cx="232.1" cy="253.1" r="1.65" fill="#224a7b"/>
<circle cx="229.3" cy="257.9" r="1.65" fill="#224a7b"/>
<circle cx="222.3" cy="252.5" r="1.65" fill="#224a7b"/>
<circle cx="221.6" cy="241.0" r="1.65" fill="#224a7b"/>
<circle cx="229.4" cy="256.0" r="1.65" fill="#224a7b"/>
<circle cx="224.5" cy="250.8" r="1.65" fill="#224a7b"/>
<circle cx="223.2" cy="245.2" r="1.65" fill="#224a7b"/>
<circle cx="232.9" cy="250.9" r="1.65" fill="#224a7b"/>
<circle cx="221.8" cy="243.9" r="1.65" fill="#224a7b"/>
<circle cx="225.6" cy="240.0" r="1.65" fill="#224a7b"/>
<circle cx="230.1" cy="257.1" r="1.65" fill="#224a7b"/>
<circle cx="222.4" cy="247.4" r="1.65" fill="#224a7b"/>
<circle cx="223.5" cy="237.4" r="1.65" fill="#224a7b"/>
<circle cx="226.9" cy="253.8" r="1.65" fill="#224a7b"/>
<circle cx="230.3" cy="261.9" r="1.65" fill="#224a7b"/>
<circle cx="226.9" cy="254.2" r="1.65" fill="#224a7b"/>
<circle cx="223.3" cy="254.9" r="1.65" fill="#224a7b"/>
<circle cx="227.9" cy="237.5" r="1.65" fill="#224a7b"/>
<circle cx="223.7" cy="248.5" r="1.65" fill="#224a7b"/>
<circle cx="221.6" cy="242.4" r="1.65" fill="#224a7b"/>
<circle cx="229.2" cy="257.5" r="1.65" fill="#224a7b"/>
<circle cx="231.5" cy="258.9" r="1.65" fill="#224a7b"/>
<circle cx="230.0" cy="247.0" r="1.65" fill="#224a7b"/>
<circle cx="230.9" cy="245.8" r="1.65" fill="#224a7b"/>
<circle cx="223.4" cy="255.4" r="1.65" fill="#224a7b"/>
<circle cx="224.9" cy="231.3" r="1.65" fill="#224a7b"/>
<circle cx="225.8" cy="250.0" r="1.65" fill="#224a7b"/>
<circle cx="229.8" cy="230.7" r="1.65" fill="#224a7b"/>
<circle cx="226.8" cy="254.0" r="1.65" fill="#224a7b"/>
<circle cx="230.8" cy="234.0" r="1.65" fill="#224a7b"/>
<circle cx="222.1" cy="249.0" r="1.65" fill="#224a7b"/>
<circle cx="228.7" cy="244.4" r="1.65" fill="#224a7b"/>
<circle cx="227.0" cy="256.7" r="1.65" fill="#224a7b"/>
<circle cx="223.8" cy="251.0" r="1.65" fill="#224a7b"/>
<circle cx="231.9" cy="242.2" r="1.65" fill="#224a7b"/>
<circle cx="222.4" cy="245.8" r="1.65" fill="#224a7b"/>
<circle cx="222.8" cy="250.1" r="1.65" fill="#224a7b"/>
<circle cx="226.7" cy="240.9" r="1.65" fill="#224a7b"/>
<circle cx="228.8" cy="250.0" r="1.65" fill="#224a7b"/>
<circle cx="226.5" cy="252.3" r="1.65" fill="#224a7b"/>
<circle cx="229.4" cy="235.5" r="1.65" fill="#224a7b"/>
<circle cx="226.9" cy="234.7" r="1.65" fill="#224a7b"/>
<circle cx="229.3" cy="246.2" r="1.65" fill="#224a7b"/>
<circle cx="224.3" cy="252.4" r="1.65" fill="#224a7b"/>
<circle cx="229.4" cy="251.2" r="1.65" fill="#224a7b"/>
<circle cx="222.9" cy="247.8" r="1.65" fill="#224a7b"/>
<circle cx="228.1" cy="257.5" r="1.65" fill="#224a7b"/>
<circle cx="224.6" cy="235.2" r="1.65" fill="#224a7b"/>
<circle cx="225.1" cy="261.5" r="1.65" fill="#224a7b"/>
<circle cx="230.7" cy="246.0" r="1.65" fill="#224a7b"/>
<circle cx="228.6" cy="254.9" r="1.65" fill="#224a7b"/>
<circle cx="222.1" cy="253.0" r="1.65" fill="#224a7b"/>
<circle cx="232.1" cy="236.8" r="1.65" fill="#224a7b"/>
<circle cx="222.3" cy="254.4" r="1.65" fill="#224a7b"/>
<circle cx="224.7" cy="234.3" r="1.65" fill="#224a7b"/>
<circle cx="224.6" cy="258.3" r="1.65" fill="#224a7b"/>
<circle cx="232.1" cy="251.6" r="1.65" fill="#224a7b"/>
<circle cx="232.0" cy="251.0" r="1.65" fill="#224a7b"/>
<circle cx="223.1" cy="242.8" r="1.65" fill="#224a7b"/>
<circle cx="229.4" cy="231.9" r="1.65" fill="#224a7b"/>
<circle cx="232.2" cy="237.3" r="1.65" fill="#224a7b"/>
<circle cx="223.7" cy="252.3" r="1.65" fill="#224a7b"/>
<circle cx="223.6" cy="254.5" r="1.65" fill="#224a7b"/>
<circle cx="222.5" cy="248.6" r="1.65" fill="#224a7b"/>
<circle cx="231.4" cy="254.0" r="1.65" fill="#224a7b"/>
<circle cx="222.5" cy="257.7" r="1.65" fill="#224a7b"/>
<circle cx="227.8" cy="255.7" r="1.65" fill="#224a7b"/>
<circle cx="227.2" cy="254.9" r="1.65" fill="#224a7b"/>
<circle cx="228.3" cy="250.7" r="1.65" fill="#224a7b"/>
<circle cx="222.7" cy="254.3" r="1.65" fill="#224a7b"/>
<circle cx="227.6" cy="234.7" r="1.65" fill="#224a7b"/>
<circle cx="226.0" cy="243.5" r="1.65" fill="#224a7b"/>
<circle cx="229.1" cy="230.5" r="1.65" fill="#224a7b"/>
<circle cx="230.1" cy="232.5" r="1.65" fill="#224a7b"/>
<circle cx="226.8" cy="254.6" r="1.65" fill="#224a7b"/>
<circle cx="228.8" cy="238.1" r="1.65" fill="#224a7b"/>
<circle cx="226.4" cy="241.1" r="1.65" fill="#224a7b"/>
<circle cx="232.3" cy="237.6" r="1.65" fill="#224a7b"/>
<circle cx="225.5" cy="249.3" r="1.65" fill="#224a7b"/>
<circle cx="229.6" cy="236.8" r="1.65" fill="#224a7b"/>
<circle cx="230.8" cy="255.6" r="1.65" fill="#224a7b"/>
<circle cx="225.8" cy="237.2" r="1.65" fill="#224a7b"/>
<circle cx="230.3" cy="243.8" r="1.65" fill="#224a7b"/>
<circle cx="228.4" cy="239.1" r="1.65" fill="#224a7b"/>
<circle cx="229.4" cy="260.8" r="1.65" fill="#224a7b"/>
<circle cx="223.9" cy="230.4" r="1.65" fill="#224a7b"/>
<circle cx="229.2" cy="237.7" r="1.65" fill="#224a7b"/>
<circle cx="227.4" cy="250.3" r="1.65" fill="#224a7b"/>
<circle cx="226.1" cy="247.4" r="1.65" fill="#224a7b"/>
<circle cx="228.9" cy="250.5" r="1.65" fill="#224a7b"/>
<circle cx="229.4" cy="257.7" r="1.65" fill="#224a7b"/>
<circle cx="231.6" cy="254.2" r="1.65" fill="#224a7b"/>
<circle cx="229.4" cy="255.3" r="1.65" fill="#224a7b"/>
<circle cx="228.8" cy="233.0" r="1.65" fill="#224a7b"/>
<circle cx="226.5" cy="255.6" r="1.65" fill="#224a7b"/>
<circle cx="224.0" cy="256.4" r="1.65" fill="#224a7b"/>
<circle cx="250.8" cy="243.7" r="1.75" fill="#a9122d"/>
<circle cx="253.8" cy="248.8" r="1.75" fill="#a9122d"/>
<circle cx="242.3" cy="255.2" r="1.75" fill="#a9122d"/>
<circle cx="242.3" cy="257.8" r="1.75" fill="#a9122d"/>
<circle cx="248.2" cy="260.0" r="1.75" fill="#a9122d"/>
<circle cx="243.7" cy="264.5" r="1.75" fill="#a9122d"/>
<circle cx="247.0" cy="265.0" r="1.75" fill="#a9122d"/>
<circle cx="250.8" cy="265.4" r="1.75" fill="#a9122d"/>
<circle cx="247.7" cy="270.1" r="1.75" fill="#a9122d"/>
<path d="M54.40,215.30 L54.40,214.40 L77.60,214.40 L77.60,215.30" fill="none" stroke="#555" stroke-width="0.9"/>
<text x="66.00" y="210.60" font-size="5.5" text-anchor="middle" fill="#333" font-weight="normal" stroke="#333" stroke-width="0.18" >0.469</text>
<path d="M111.65,215.30 L111.65,214.40 L134.85,214.40 L134.85,215.30" fill="none" stroke="#555" stroke-width="0.9"/>
<text x="123.25" y="210.60" font-size="5.5" text-anchor="middle" fill="#333" font-weight="normal" stroke="#333" stroke-width="0.18" >0.069</text>
<path d="M168.90,215.30 L168.90,214.40 L192.10,214.40 L192.10,215.30" fill="none" stroke="#555" stroke-width="0.9"/>
<text x="180.50" y="210.60" font-size="5.5" text-anchor="middle" fill="#333" font-weight="normal" stroke="#333" stroke-width="0.18" >0.000445</text>
<path d="M226.15,215.30 L226.15,214.40 L249.35,214.40 L249.35,215.30" fill="none" stroke="#555" stroke-width="0.9"/>
<text x="237.75" y="210.60" font-size="5.5" text-anchor="middle" fill="#333" font-weight="normal" stroke="#333" stroke-width="0.18" >0.01</text>
<text x="356.50" y="23.90" font-size="8.5" text-anchor="middle" fill="#222" font-weight="normal" stroke="#222" stroke-width="0.18" textLength="41.50" lengthAdjust="spacingAndGlyphs" >TDT: naive</text>
<text x="476.20" y="23.90" font-size="8.5" text-anchor="middle" fill="#222" font-weight="normal" stroke="#222" stroke-width="0.18" textLength="25.00" lengthAdjust="spacingAndGlyphs" >HCWs</text>
<rect x="312.95" y="29.70" width="86.55" height="9.70" fill="#fff" stroke="#111" stroke-width="1.2" />
<rect x="314.65" y="31.30" width="83.15" height="6.60" fill="#e9e9e9" stroke="none" stroke-width="1" />
<text x="356.23" y="37.25" font-size="7.4" text-anchor="middle" fill="#222" font-weight="normal" stroke="#222" stroke-width="0.18" textLength="6.60" lengthAdjust="spacingAndGlyphs" >T1</text>
<rect x="312.95" y="39.40" width="86.55" height="47.00" fill="#fff" stroke="#111" stroke-width="1.2" />
<line x1="310.35" y1="41.80" x2="312.95" y2="41.80" stroke="#333" stroke-width="0.8" />
<text x="306.55" y="44.10" font-size="6.6" text-anchor="end" fill="#333" font-weight="normal" stroke="#333" stroke-width="0.18" >4</text>
<line x1="310.35" y1="54.10" x2="312.95" y2="54.10" stroke="#333" stroke-width="0.8" />
<text x="306.55" y="56.40" font-size="6.6" text-anchor="end" fill="#333" font-weight="normal" stroke="#333" stroke-width="0.18" >3</text>
<line x1="310.35" y1="66.40" x2="312.95" y2="66.40" stroke="#333" stroke-width="0.8" />
<text x="306.55" y="68.70" font-size="6.6" text-anchor="end" fill="#333" font-weight="normal" stroke="#333" stroke-width="0.18" >2</text>
<line x1="310.35" y1="78.70" x2="312.95" y2="78.70" stroke="#333" stroke-width="0.8" />
<text x="306.55" y="81.00" font-size="6.6" text-anchor="end" fill="#333" font-weight="normal" stroke="#333" stroke-width="0.18" >1</text>
<path d="M316,47.0 L354.0,49.25000000000001 L392,50.1 L392,53.300000000000004 L354.0,51.050000000000004 L316,50.2 Z" fill="#d9d9d9" opacity="0.85"/>
<circle cx="316.8" cy="48.3" r="1.15" fill="#111"/>
<circle cx="318.7" cy="54.0" r="1.15" fill="#111"/>
<circle cx="319.9" cy="45.4" r="1.15" fill="#111"/>
<circle cx="323.1" cy="45.9" r="1.15" fill="#111"/>
<circle cx="329.4" cy="43.2" r="1.15" fill="#111"/>
<circle cx="334.1" cy="43.2" r="1.15" fill="#111"/>
<circle cx="328.6" cy="47.5" r="1.15" fill="#111"/>
<circle cx="334.1" cy="52.0" r="1.15" fill="#111"/>
<circle cx="331.0" cy="55.0" r="1.15" fill="#111"/>
<circle cx="329.8" cy="56.6" r="1.15" fill="#111"/>
<circle cx="327.8" cy="61.7" r="1.15" fill="#111"/>
<circle cx="326.2" cy="62.9" r="1.15" fill="#111"/>
<circle cx="337.7" cy="46.2" r="1.15" fill="#111"/>
<circle cx="339.2" cy="46.2" r="1.15" fill="#111"/>
<circle cx="342.0" cy="47.5" r="1.15" fill="#111"/>
<circle cx="343.6" cy="42.8" r="1.15" fill="#111"/>
<circle cx="344.4" cy="44.3" r="1.15" fill="#111"/>
<circle cx="345.2" cy="45.9" r="1.15" fill="#111"/>
<circle cx="340.4" cy="57.5" r="1.15" fill="#111"/>
<circle cx="343.6" cy="56.2" r="1.15" fill="#111"/>
<circle cx="343.6" cy="52.2" r="1.15" fill="#111"/>
<circle cx="348.3" cy="44.7" r="1.15" fill="#111"/>
<circle cx="348.7" cy="47.9" r="1.15" fill="#111"/>
<circle cx="350.3" cy="47.9" r="1.15" fill="#111"/>
<circle cx="351.9" cy="42.4" r="1.15" fill="#111"/>
<circle cx="353.0" cy="44.7" r="1.15" fill="#111"/>
<circle cx="351.9" cy="56.2" r="1.15" fill="#111"/>
<circle cx="352.6" cy="51.8" r="1.15" fill="#111"/>
<circle cx="351.0" cy="51.4" r="1.15" fill="#111"/>
<circle cx="353.5" cy="43.5" r="1.15" fill="#111"/>
<circle cx="355.5" cy="44.7" r="1.15" fill="#111"/>
<circle cx="356.3" cy="42.8" r="1.15" fill="#111"/>
<circle cx="357.9" cy="45.5" r="1.15" fill="#111"/>
<circle cx="359.9" cy="44.7" r="1.15" fill="#111"/>
<circle cx="361.8" cy="43.9" r="1.15" fill="#111"/>
<circle cx="363.8" cy="45.5" r="1.15" fill="#111"/>
<circle cx="366.6" cy="43.5" r="1.15" fill="#111"/>
<circle cx="367.4" cy="42.8" r="1.15" fill="#111"/>
<circle cx="372.1" cy="44.3" r="1.15" fill="#111"/>
<circle cx="372.9" cy="46.7" r="1.15" fill="#111"/>
<circle cx="376.8" cy="45.5" r="1.15" fill="#111"/>
<circle cx="378.0" cy="44.7" r="1.15" fill="#111"/>
<circle cx="381.5" cy="42.8" r="1.15" fill="#111"/>
<circle cx="383.1" cy="45.1" r="1.15" fill="#111"/>
<circle cx="352.4" cy="47.9" r="1.15" fill="#111"/>
<circle cx="354.7" cy="47.9" r="1.15" fill="#111"/>
<circle cx="357.1" cy="47.9" r="1.15" fill="#111"/>
<circle cx="359.5" cy="47.1" r="1.15" fill="#111"/>
<circle cx="365.8" cy="47.9" r="1.15" fill="#111"/>
<circle cx="368.5" cy="48.3" r="1.15" fill="#111"/>
<circle cx="370.5" cy="47.9" r="1.15" fill="#111"/>
<circle cx="375.2" cy="47.9" r="1.15" fill="#111"/>
<circle cx="380.0" cy="49.5" r="1.15" fill="#111"/>
<circle cx="354.7" cy="53.0" r="1.15" fill="#111"/>
<circle cx="357.1" cy="53.0" r="1.15" fill="#111"/>
<circle cx="361.0" cy="54.2" r="1.15" fill="#111"/>
<circle cx="362.6" cy="54.6" r="1.15" fill="#111"/>
<circle cx="365.8" cy="53.4" r="1.15" fill="#111"/>
<circle cx="367.0" cy="54.2" r="1.15" fill="#111"/>
<circle cx="375.2" cy="53.8" r="1.15" fill="#111"/>
<circle cx="351.6" cy="55.8" r="1.15" fill="#111"/>
<circle cx="354.7" cy="57.0" r="1.15" fill="#111"/>
<circle cx="357.9" cy="58.1" r="1.15" fill="#111"/>
<circle cx="365.8" cy="56.6" r="1.15" fill="#111"/>
<circle cx="367.0" cy="57.7" r="1.15" fill="#111"/>
<circle cx="368.9" cy="56.6" r="1.15" fill="#111"/>
<circle cx="370.9" cy="59.7" r="1.15" fill="#111"/>
<circle cx="365.4" cy="61.7" r="1.15" fill="#111"/>
<circle cx="364.2" cy="63.3" r="1.15" fill="#111"/>
<circle cx="368.9" cy="65.2" r="1.15" fill="#111"/>
<circle cx="375.2" cy="61.3" r="1.15" fill="#111"/>
<circle cx="378.7" cy="79.5" r="1.15" fill="#111"/>
<circle cx="351.8" cy="50.4" r="1.15" fill="#111"/>
<circle cx="368.0" cy="53.9" r="1.15" fill="#111"/>
<circle cx="367.0" cy="50.1" r="1.15" fill="#111"/>
<circle cx="368.8" cy="51.5" r="1.15" fill="#111"/>
<circle cx="350.1" cy="50.4" r="1.15" fill="#111"/>
<circle cx="349.2" cy="57.1" r="1.15" fill="#111"/>
<circle cx="372.6" cy="48.7" r="1.15" fill="#111"/>
<circle cx="356.0" cy="54.8" r="1.15" fill="#111"/>
<circle cx="353.3" cy="46.5" r="1.15" fill="#111"/>
<circle cx="352.9" cy="48.9" r="1.15" fill="#111"/>
<circle cx="364.3" cy="57.5" r="1.15" fill="#111"/>
<circle cx="353.5" cy="57.4" r="1.15" fill="#111"/>
<circle cx="362.4" cy="56.6" r="1.15" fill="#111"/>
<circle cx="369.3" cy="46.2" r="1.15" fill="#111"/>
<circle cx="364.9" cy="45.7" r="1.15" fill="#111"/>
<circle cx="348.1" cy="49.5" r="1.15" fill="#111"/>
<circle cx="368.1" cy="51.9" r="1.15" fill="#111"/>
<circle cx="353.0" cy="55.8" r="1.15" fill="#111"/>
<circle cx="371.8" cy="47.3" r="1.15" fill="#111"/>
<circle cx="359.7" cy="52.9" r="1.15" fill="#111"/>
<circle cx="371.5" cy="45.8" r="1.15" fill="#111"/>
<circle cx="362.4" cy="57.6" r="1.15" fill="#111"/>
<line x1="316.00" y1="48.60" x2="392.00" y2="51.70" stroke="#b8123a" stroke-width="1.6" />
<text x="315.00" y="80.55" font-size="5.8" text-anchor="start" fill="#333" font-weight="normal" stroke="#333" stroke-width="0.12" textLength="56.90" lengthAdjust="spacingAndGlyphs" >Rp = &#8722;0.16 (<tspan font-style="italic">P</tspan> = 0.068)</text>
<rect x="312.95" y="90.03" width="86.55" height="9.70" fill="#fff" stroke="#111" stroke-width="1.2" />
<rect x="314.65" y="91.63" width="83.15" height="6.60" fill="#e9e9e9" stroke="none" stroke-width="1" />
<text x="356.23" y="97.58" font-size="7.4" text-anchor="middle" fill="#222" font-weight="normal" stroke="#222" stroke-width="0.18" textLength="7.50" lengthAdjust="spacingAndGlyphs" >T2</text>
<rect x="312.95" y="99.73" width="86.55" height="47.00" fill="#fff" stroke="#111" stroke-width="1.2" />
<line x1="310.35" y1="102.13" x2="312.95" y2="102.13" stroke="#333" stroke-width="0.8" />
<text x="306.55" y="104.43" font-size="6.6" text-anchor="end" fill="#333" font-weight="normal" stroke="#333" stroke-width="0.18" >4</text>
<line x1="310.35" y1="114.43" x2="312.95" y2="114.43" stroke="#333" stroke-width="0.8" />
<text x="306.55" y="116.73" font-size="6.6" text-anchor="end" fill="#333" font-weight="normal" stroke="#333" stroke-width="0.18" >3</text>
<line x1="310.35" y1="126.73" x2="312.95" y2="126.73" stroke="#333" stroke-width="0.8" />
<text x="306.55" y="129.03" font-size="6.6" text-anchor="end" fill="#333" font-weight="normal" stroke="#333" stroke-width="0.18" >2</text>
<line x1="310.35" y1="139.03" x2="312.95" y2="139.03" stroke="#333" stroke-width="0.8" />
<text x="306.55" y="141.33" font-size="6.6" text-anchor="end" fill="#333" font-weight="normal" stroke="#333" stroke-width="0.18" >1</text>
<path d="M316.9,115.4 L353.65,118.69999999999999 L390.4,120.4 L390.4,124.0 L353.65,120.5 L316.9,118.6 Z" fill="#d9d9d9" opacity="0.85"/>
<circle cx="316.7" cy="113.0" r="1.15" fill="#111"/>
<circle cx="326.2" cy="107.6" r="1.15" fill="#111"/>
<circle cx="329.8" cy="109.4" r="1.15" fill="#111"/>
<circle cx="328.4" cy="113.9" r="1.15" fill="#111"/>
<circle cx="329.8" cy="114.8" r="1.15" fill="#111"/>
<circle cx="335.6" cy="115.3" r="1.15" fill="#111"/>
<circle cx="338.8" cy="114.4" r="1.15" fill="#111"/>
<circle cx="341.9" cy="111.7" r="1.15" fill="#111"/>
<circle cx="343.7" cy="113.5" r="1.15" fill="#111"/>
<circle cx="346.9" cy="110.1" r="1.15" fill="#111"/>
<circle cx="351.4" cy="113.0" r="1.15" fill="#111"/>
<circle cx="334.7" cy="117.1" r="1.15" fill="#111"/>
<circle cx="332.5" cy="118.4" r="1.15" fill="#111"/>
<circle cx="319.9" cy="122.5" r="1.15" fill="#111"/>
<circle cx="323.0" cy="120.7" r="1.15" fill="#111"/>
<circle cx="327.5" cy="122.0" r="1.15" fill="#111"/>
<circle cx="329.8" cy="122.9" r="1.15" fill="#111"/>
<circle cx="333.8" cy="121.6" r="1.15" fill="#111"/>
<circle cx="334.3" cy="123.4" r="1.15" fill="#111"/>
<circle cx="326.2" cy="125.2" r="1.15" fill="#111"/>
<circle cx="330.7" cy="125.2" r="1.15" fill="#111"/>
<circle cx="337.4" cy="123.4" r="1.15" fill="#111"/>
<circle cx="340.6" cy="125.2" r="1.15" fill="#111"/>
<circle cx="343.7" cy="125.6" r="1.15" fill="#111"/>
<circle cx="345.1" cy="118.0" r="1.15" fill="#111"/>
<circle cx="346.0" cy="121.1" r="1.15" fill="#111"/>
<circle cx="347.8" cy="122.0" r="1.15" fill="#111"/>
<circle cx="349.6" cy="120.7" r="1.15" fill="#111"/>
<circle cx="351.8" cy="118.9" r="1.15" fill="#111"/>
<circle cx="351.4" cy="126.5" r="1.15" fill="#111"/>
<circle cx="351.4" cy="131.0" r="1.15" fill="#111"/>
<circle cx="352.3" cy="112.5" r="1.15" fill="#111"/>
<circle cx="353.4" cy="115.3" r="1.15" fill="#111"/>
<circle cx="355.1" cy="117.5" r="1.15" fill="#111"/>
<circle cx="358.5" cy="118.7" r="1.15" fill="#111"/>
<circle cx="361.3" cy="115.9" r="1.15" fill="#111"/>
<circle cx="364.1" cy="113.0" r="1.15" fill="#111"/>
<circle cx="365.8" cy="111.9" r="1.15" fill="#111"/>
<circle cx="366.9" cy="115.3" r="1.15" fill="#111"/>
<circle cx="365.8" cy="118.7" r="1.15" fill="#111"/>
<circle cx="368.1" cy="118.1" r="1.15" fill="#111"/>
<circle cx="372.0" cy="112.5" r="1.15" fill="#111"/>
<circle cx="376.5" cy="109.6" r="1.15" fill="#111"/>
<circle cx="377.7" cy="114.2" r="1.15" fill="#111"/>
<circle cx="380.5" cy="115.9" r="1.15" fill="#111"/>
<circle cx="381.6" cy="117.5" r="1.15" fill="#111"/>
<circle cx="385.0" cy="119.2" r="1.15" fill="#111"/>
<circle cx="390.6" cy="119.2" r="1.15" fill="#111"/>
<circle cx="376.0" cy="118.1" r="1.15" fill="#111"/>
<circle cx="372.6" cy="119.8" r="1.15" fill="#111"/>
<circle cx="351.7" cy="126.0" r="1.15" fill="#111"/>
<circle cx="354.5" cy="126.6" r="1.15" fill="#111"/>
<circle cx="357.9" cy="127.7" r="1.15" fill="#111"/>
<circle cx="359.6" cy="127.1" r="1.15" fill="#111"/>
<circle cx="362.4" cy="128.3" r="1.15" fill="#111"/>
<circle cx="364.7" cy="125.4" r="1.15" fill="#111"/>
<circle cx="366.9" cy="126.0" r="1.15" fill="#111"/>
<circle cx="368.6" cy="124.3" r="1.15" fill="#111"/>
<circle cx="370.3" cy="123.8" r="1.15" fill="#111"/>
<circle cx="372.0" cy="124.9" r="1.15" fill="#111"/>
<circle cx="375.4" cy="123.8" r="1.15" fill="#111"/>
<circle cx="375.4" cy="127.7" r="1.15" fill="#111"/>
<circle cx="375.4" cy="130.5" r="1.15" fill="#111"/>
<circle cx="351.7" cy="130.5" r="1.15" fill="#111"/>
<circle cx="355.1" cy="131.1" r="1.15" fill="#111"/>
<circle cx="368.6" cy="131.1" r="1.15" fill="#111"/>
<circle cx="368.6" cy="133.3" r="1.15" fill="#111"/>
<circle cx="378.8" cy="123.8" r="1.15" fill="#111"/>
<circle cx="378.2" cy="142.4" r="1.15" fill="#111"/>
<circle cx="350.0" cy="121.0" r="1.15" fill="#111"/>
<circle cx="365.3" cy="117.1" r="1.15" fill="#111"/>
<circle cx="378.8" cy="128.8" r="1.15" fill="#111"/>
<circle cx="361.3" cy="124.6" r="1.15" fill="#111"/>
<circle cx="352.5" cy="117.5" r="1.15" fill="#111"/>
<circle cx="355.1" cy="125.1" r="1.15" fill="#111"/>
<circle cx="352.4" cy="129.5" r="1.15" fill="#111"/>
<circle cx="347.5" cy="117.1" r="1.15" fill="#111"/>
<circle cx="348.1" cy="126.3" r="1.15" fill="#111"/>
<circle cx="357.8" cy="121.5" r="1.15" fill="#111"/>
<circle cx="356.4" cy="124.2" r="1.15" fill="#111"/>
<circle cx="359.1" cy="117.3" r="1.15" fill="#111"/>
<circle cx="360.1" cy="118.9" r="1.15" fill="#111"/>
<circle cx="348.9" cy="127.2" r="1.15" fill="#111"/>
<circle cx="368.8" cy="124.6" r="1.15" fill="#111"/>
<circle cx="375.9" cy="120.3" r="1.15" fill="#111"/>
<circle cx="358.3" cy="120.8" r="1.15" fill="#111"/>
<circle cx="359.2" cy="124.7" r="1.15" fill="#111"/>
<circle cx="345.2" cy="121.4" r="1.15" fill="#111"/>
<line x1="316.90" y1="117.00" x2="390.40" y2="122.20" stroke="#b8123a" stroke-width="1.6" />
<text x="315.00" y="140.88" font-size="5.8" text-anchor="start" fill="#333" font-weight="normal" stroke="#333" stroke-width="0.12" textLength="58.00" lengthAdjust="spacingAndGlyphs" >Rp = &#8722;0.21 (<tspan font-style="italic">P</tspan> = 0.019)</text>
<rect x="312.95" y="150.36" width="86.55" height="9.70" fill="#fff" stroke="#111" stroke-width="1.2" />
<rect x="314.65" y="151.96" width="83.15" height="6.60" fill="#e9e9e9" stroke="none" stroke-width="1" />
<text x="356.23" y="157.91" font-size="7.4" text-anchor="middle" fill="#222" font-weight="normal" stroke="#222" stroke-width="0.18" textLength="7.50" lengthAdjust="spacingAndGlyphs" >T3</text>
<rect x="312.95" y="160.06" width="86.55" height="47.00" fill="#fff" stroke="#111" stroke-width="1.2" />
<line x1="310.35" y1="162.46" x2="312.95" y2="162.46" stroke="#333" stroke-width="0.8" />
<text x="306.55" y="164.76" font-size="6.6" text-anchor="end" fill="#333" font-weight="normal" stroke="#333" stroke-width="0.18" >4</text>
<line x1="310.35" y1="174.76" x2="312.95" y2="174.76" stroke="#333" stroke-width="0.8" />
<text x="306.55" y="177.06" font-size="6.6" text-anchor="end" fill="#333" font-weight="normal" stroke="#333" stroke-width="0.18" >3</text>
<line x1="310.35" y1="187.06" x2="312.95" y2="187.06" stroke="#333" stroke-width="0.8" />
<text x="306.55" y="189.36" font-size="6.6" text-anchor="end" fill="#333" font-weight="normal" stroke="#333" stroke-width="0.18" >2</text>
<line x1="310.35" y1="199.36" x2="312.95" y2="199.36" stroke="#333" stroke-width="0.8" />
<text x="306.55" y="201.66" font-size="6.6" text-anchor="end" fill="#333" font-weight="normal" stroke="#333" stroke-width="0.18" >1</text>
<path d="M316.9,183.2 L350.65,184.74999999999997 L384.4,185.1 L384.4,188.29999999999998 L350.65,186.54999999999998 L316.9,186.0 Z" fill="#d9d9d9" opacity="0.85"/>
<circle cx="326.2" cy="172.1" r="1.15" fill="#111"/>
<circle cx="316.7" cy="181.5" r="1.15" fill="#111"/>
<circle cx="318.1" cy="184.7" r="1.15" fill="#111"/>
<circle cx="327.5" cy="177.5" r="1.15" fill="#111"/>
<circle cx="329.8" cy="177.9" r="1.15" fill="#111"/>
<circle cx="329.3" cy="180.6" r="1.15" fill="#111"/>
<circle cx="329.8" cy="182.4" r="1.15" fill="#111"/>
<circle cx="333.4" cy="181.5" r="1.15" fill="#111"/>
<circle cx="334.7" cy="183.3" r="1.15" fill="#111"/>
<circle cx="338.3" cy="182.4" r="1.15" fill="#111"/>
<circle cx="339.7" cy="182.0" r="1.15" fill="#111"/>
<circle cx="343.3" cy="179.7" r="1.15" fill="#111"/>
<circle cx="343.7" cy="182.9" r="1.15" fill="#111"/>
<circle cx="348.2" cy="176.6" r="1.15" fill="#111"/>
<circle cx="351.8" cy="181.5" r="1.15" fill="#111"/>
<circle cx="329.3" cy="187.4" r="1.15" fill="#111"/>
<circle cx="330.7" cy="190.1" r="1.15" fill="#111"/>
<circle cx="333.4" cy="189.2" r="1.15" fill="#111"/>
<circle cx="334.3" cy="187.4" r="1.15" fill="#111"/>
<circle cx="326.2" cy="191.4" r="1.15" fill="#111"/>
<circle cx="328.0" cy="193.7" r="1.15" fill="#111"/>
<circle cx="328.4" cy="190.5" r="1.15" fill="#111"/>
<circle cx="337.4" cy="191.9" r="1.15" fill="#111"/>
<circle cx="340.6" cy="187.8" r="1.15" fill="#111"/>
<circle cx="343.7" cy="190.5" r="1.15" fill="#111"/>
<circle cx="345.1" cy="189.2" r="1.15" fill="#111"/>
<circle cx="346.9" cy="188.3" r="1.15" fill="#111"/>
<circle cx="350.0" cy="190.1" r="1.15" fill="#111"/>
<circle cx="350.9" cy="191.9" r="1.15" fill="#111"/>
<circle cx="365.8" cy="174.5" r="1.15" fill="#111"/>
<circle cx="362.4" cy="176.7" r="1.15" fill="#111"/>
<circle cx="352.8" cy="178.4" r="1.15" fill="#111"/>
<circle cx="355.6" cy="180.1" r="1.15" fill="#111"/>
<circle cx="359.0" cy="179.5" r="1.15" fill="#111"/>
<circle cx="361.3" cy="180.1" r="1.15" fill="#111"/>
<circle cx="364.7" cy="179.0" r="1.15" fill="#111"/>
<circle cx="366.4" cy="182.9" r="1.15" fill="#111"/>
<circle cx="372.0" cy="179.5" r="1.15" fill="#111"/>
<circle cx="377.1" cy="176.7" r="1.15" fill="#111"/>
<circle cx="377.1" cy="180.1" r="1.15" fill="#111"/>
<circle cx="380.5" cy="181.8" r="1.15" fill="#111"/>
<circle cx="383.9" cy="183.5" r="1.15" fill="#111"/>
<circle cx="351.7" cy="181.8" r="1.15" fill="#111"/>
<circle cx="354.5" cy="182.9" r="1.15" fill="#111"/>
<circle cx="357.3" cy="184.1" r="1.15" fill="#111"/>
<circle cx="360.2" cy="184.6" r="1.15" fill="#111"/>
<circle cx="372.6" cy="184.1" r="1.15" fill="#111"/>
<circle cx="379.9" cy="185.2" r="1.15" fill="#111"/>
<circle cx="351.7" cy="188.6" r="1.15" fill="#111"/>
<circle cx="355.1" cy="189.7" r="1.15" fill="#111"/>
<circle cx="357.9" cy="190.3" r="1.15" fill="#111"/>
<circle cx="364.1" cy="189.7" r="1.15" fill="#111"/>
<circle cx="366.9" cy="191.4" r="1.15" fill="#111"/>
<circle cx="368.6" cy="189.7" r="1.15" fill="#111"/>
<circle cx="374.3" cy="190.8" r="1.15" fill="#111"/>
<circle cx="351.7" cy="192.5" r="1.15" fill="#111"/>
<circle cx="355.1" cy="194.2" r="1.15" fill="#111"/>
<circle cx="375.4" cy="193.1" r="1.15" fill="#111"/>
<circle cx="368.6" cy="196.5" r="1.15" fill="#111"/>
<circle cx="378.8" cy="204.4" r="1.15" fill="#111"/>
<circle cx="354.7" cy="185.6" r="1.15" fill="#111"/>
<circle cx="355.4" cy="187.0" r="1.15" fill="#111"/>
<circle cx="369.5" cy="182.4" r="1.15" fill="#111"/>
<circle cx="369.8" cy="184.9" r="1.15" fill="#111"/>
<circle cx="351.4" cy="184.4" r="1.15" fill="#111"/>
<circle cx="369.8" cy="184.3" r="1.15" fill="#111"/>
<circle cx="378.1" cy="187.3" r="1.15" fill="#111"/>
<circle cx="362.1" cy="180.2" r="1.15" fill="#111"/>
<circle cx="354.1" cy="188.3" r="1.15" fill="#111"/>
<circle cx="372.1" cy="185.5" r="1.15" fill="#111"/>
<circle cx="364.1" cy="184.0" r="1.15" fill="#111"/>
<circle cx="357.1" cy="184.4" r="1.15" fill="#111"/>
<line x1="316.90" y1="184.60" x2="384.40" y2="186.70" stroke="#b8123a" stroke-width="1.6" />
<text x="315.00" y="201.21" font-size="5.8" text-anchor="start" fill="#333" font-weight="normal" stroke="#333" stroke-width="0.12" textLength="55.40" lengthAdjust="spacingAndGlyphs" >Rp = &#8722;0.15 (<tspan font-style="italic">P</tspan> = 0.12)</text>
<rect x="312.95" y="210.69" width="86.55" height="9.70" fill="#fff" stroke="#111" stroke-width="1.2" />
<rect x="314.65" y="212.29" width="83.15" height="6.60" fill="#e9e9e9" stroke="none" stroke-width="1" />
<text x="356.23" y="218.24" font-size="7.4" text-anchor="middle" fill="#222" font-weight="normal" stroke="#222" stroke-width="0.18" textLength="7.50" lengthAdjust="spacingAndGlyphs" >T4</text>
<rect x="312.95" y="220.39" width="86.55" height="47.00" fill="#fff" stroke="#111" stroke-width="1.2" />
<line x1="310.35" y1="222.79" x2="312.95" y2="222.79" stroke="#333" stroke-width="0.8" />
<text x="306.55" y="225.09" font-size="6.6" text-anchor="end" fill="#333" font-weight="normal" stroke="#333" stroke-width="0.18" >4</text>
<line x1="310.35" y1="235.09" x2="312.95" y2="235.09" stroke="#333" stroke-width="0.8" />
<text x="306.55" y="237.39" font-size="6.6" text-anchor="end" fill="#333" font-weight="normal" stroke="#333" stroke-width="0.18" >3</text>
<line x1="310.35" y1="247.39" x2="312.95" y2="247.39" stroke="#333" stroke-width="0.8" />
<text x="306.55" y="249.69" font-size="6.6" text-anchor="end" fill="#333" font-weight="normal" stroke="#333" stroke-width="0.18" >2</text>
<line x1="310.35" y1="259.69" x2="312.95" y2="259.69" stroke="#333" stroke-width="0.8" />
<text x="306.55" y="261.99" font-size="6.6" text-anchor="end" fill="#333" font-weight="normal" stroke="#333" stroke-width="0.18" >1</text>
<path d="M318.2,227.3 L351.1,228.29999999999998 L384,225.5 L384,228.3 L351.1,230.1 L318.2,235.7 Z" fill="#d9d9d9" opacity="0.85"/>
<circle cx="351.8" cy="223.9" r="1.15" fill="#111"/>
<circle cx="353.9" cy="223.4" r="1.15" fill="#111"/>
<circle cx="356.1" cy="223.9" r="1.15" fill="#111"/>
<circle cx="352.3" cy="226.0" r="1.15" fill="#111"/>
<circle cx="354.5" cy="225.5" r="1.15" fill="#111"/>
<circle cx="357.1" cy="225.0" r="1.15" fill="#111"/>
<circle cx="360.9" cy="225.5" r="1.15" fill="#111"/>
<circle cx="362.5" cy="223.9" r="1.15" fill="#111"/>
<circle cx="364.1" cy="224.4" r="1.15" fill="#111"/>
<circle cx="365.2" cy="226.0" r="1.15" fill="#111"/>
<circle cx="367.8" cy="225.5" r="1.15" fill="#111"/>
<circle cx="369.4" cy="226.6" r="1.15" fill="#111"/>
<circle cx="372.1" cy="223.9" r="1.15" fill="#111"/>
<circle cx="374.3" cy="222.8" r="1.15" fill="#111"/>
<circle cx="376.4" cy="222.8" r="1.15" fill="#111"/>
<circle cx="377.5" cy="223.9" r="1.15" fill="#111"/>
<circle cx="352.8" cy="228.2" r="1.15" fill="#111"/>
<circle cx="358.7" cy="228.2" r="1.15" fill="#111"/>
<circle cx="367.3" cy="228.2" r="1.15" fill="#111"/>
<circle cx="380.1" cy="229.2" r="1.15" fill="#111"/>
<circle cx="385.0" cy="228.2" r="1.15" fill="#111"/>
<circle cx="353.4" cy="231.4" r="1.15" fill="#111"/>
<circle cx="355.0" cy="231.9" r="1.15" fill="#111"/>
<circle cx="365.7" cy="231.4" r="1.15" fill="#111"/>
<circle cx="368.9" cy="231.9" r="1.15" fill="#111"/>
<circle cx="371.0" cy="230.8" r="1.15" fill="#111"/>
<circle cx="345.4" cy="230.3" r="1.15" fill="#111"/>
<circle cx="348.6" cy="236.7" r="1.15" fill="#111"/>
<circle cx="358.2" cy="236.7" r="1.15" fill="#111"/>
<circle cx="375.3" cy="237.3" r="1.15" fill="#111"/>
<circle cx="378.5" cy="236.2" r="1.15" fill="#111"/>
<circle cx="360.9" cy="251.7" r="1.15" fill="#111"/>
<circle cx="318.4" cy="236.2" r="1.15" fill="#111"/>
<circle cx="334.7" cy="228.8" r="1.15" fill="#111"/>
<circle cx="338.3" cy="228.8" r="1.15" fill="#111"/>
<circle cx="379.4" cy="224.5" r="1.15" fill="#111"/>
<circle cx="371.6" cy="226.3" r="1.15" fill="#111"/>
<circle cx="356.4" cy="222.0" r="1.15" fill="#111"/>
<circle cx="368.1" cy="222.3" r="1.15" fill="#111"/>
<circle cx="361.5" cy="227.3" r="1.15" fill="#111"/>
<circle cx="376.2" cy="222.3" r="1.15" fill="#111"/>
<circle cx="352.5" cy="222.9" r="1.15" fill="#111"/>
<circle cx="374.8" cy="221.7" r="1.15" fill="#111"/>
<circle cx="356.8" cy="222.2" r="1.15" fill="#111"/>
<circle cx="353.8" cy="224.9" r="1.15" fill="#111"/>
<circle cx="355.5" cy="224.2" r="1.15" fill="#111"/>
<circle cx="372.0" cy="226.2" r="1.15" fill="#111"/>
<circle cx="362.5" cy="226.6" r="1.15" fill="#111"/>
<circle cx="367.2" cy="226.9" r="1.15" fill="#111"/>
<circle cx="357.5" cy="223.9" r="1.15" fill="#111"/>
<line x1="318.20" y1="231.50" x2="384.00" y2="226.90" stroke="#b8123a" stroke-width="1.6" />
<text x="315.00" y="261.54" font-size="5.8" text-anchor="start" fill="#333" font-weight="normal" stroke="#333" stroke-width="0.12" textLength="51.80" lengthAdjust="spacingAndGlyphs" >Rp = 0.079 (<tspan font-style="italic">P</tspan> = 0.5)</text>
<rect x="312.95" y="271.02" width="86.55" height="9.70" fill="#fff" stroke="#111" stroke-width="1.2" />
<rect x="314.65" y="272.62" width="83.15" height="6.60" fill="#e9e9e9" stroke="none" stroke-width="1" />
<text x="356.23" y="278.57" font-size="7.4" text-anchor="middle" fill="#222" font-weight="normal" stroke="#222" stroke-width="0.18" textLength="7.50" lengthAdjust="spacingAndGlyphs" >T5</text>
<rect x="312.95" y="280.72" width="86.55" height="47.00" fill="#fff" stroke="#111" stroke-width="1.2" />
<line x1="310.35" y1="283.12" x2="312.95" y2="283.12" stroke="#333" stroke-width="0.8" />
<text x="306.55" y="285.42" font-size="6.6" text-anchor="end" fill="#333" font-weight="normal" stroke="#333" stroke-width="0.18" >4</text>
<line x1="310.35" y1="295.42" x2="312.95" y2="295.42" stroke="#333" stroke-width="0.8" />
<text x="306.55" y="297.72" font-size="6.6" text-anchor="end" fill="#333" font-weight="normal" stroke="#333" stroke-width="0.18" >3</text>
<line x1="310.35" y1="307.72" x2="312.95" y2="307.72" stroke="#333" stroke-width="0.8" />
<text x="306.55" y="310.02" font-size="6.6" text-anchor="end" fill="#333" font-weight="normal" stroke="#333" stroke-width="0.18" >2</text>
<line x1="310.35" y1="320.02" x2="312.95" y2="320.02" stroke="#333" stroke-width="0.8" />
<text x="306.55" y="322.32" font-size="6.6" text-anchor="end" fill="#333" font-weight="normal" stroke="#333" stroke-width="0.18" >1</text>
<path d="M334.1,291.3 L359.20000000000005,290.95000000000005 L384.3,288.79999999999995 L384.3,292.0 L359.20000000000005,292.75 L334.1,295.3 Z" fill="#d9d9d9" opacity="0.85"/>
<circle cx="357.7" cy="282.6" r="1.15" fill="#111"/>
<circle cx="359.4" cy="283.2" r="1.15" fill="#111"/>
<circle cx="362.9" cy="283.2" r="1.15" fill="#111"/>
<circle cx="366.9" cy="284.3" r="1.15" fill="#111"/>
<circle cx="372.1" cy="283.2" r="1.15" fill="#111"/>
<circle cx="381.3" cy="283.2" r="1.15" fill="#111"/>
<circle cx="376.1" cy="286.7" r="1.15" fill="#111"/>
<circle cx="385.4" cy="287.2" r="1.15" fill="#111"/>
<circle cx="343.8" cy="287.8" r="1.15" fill="#111"/>
<circle cx="347.9" cy="288.4" r="1.15" fill="#111"/>
<circle cx="351.3" cy="289.5" r="1.15" fill="#111"/>
<circle cx="354.8" cy="287.2" r="1.15" fill="#111"/>
<circle cx="356.5" cy="288.4" r="1.15" fill="#111"/>
<circle cx="358.3" cy="289.5" r="1.15" fill="#111"/>
<circle cx="361.1" cy="289.0" r="1.15" fill="#111"/>
<circle cx="364.6" cy="290.1" r="1.15" fill="#111"/>
<circle cx="368.1" cy="289.5" r="1.15" fill="#111"/>
<circle cx="373.8" cy="289.5" r="1.15" fill="#111"/>
<circle cx="345.6" cy="289.5" r="1.15" fill="#111"/>
<circle cx="354.2" cy="292.4" r="1.15" fill="#111"/>
<circle cx="357.7" cy="291.8" r="1.15" fill="#111"/>
<circle cx="361.1" cy="292.4" r="1.15" fill="#111"/>
<circle cx="364.6" cy="291.8" r="1.15" fill="#111"/>
<circle cx="366.9" cy="293.6" r="1.15" fill="#111"/>
<circle cx="369.8" cy="294.1" r="1.15" fill="#111"/>
<circle cx="376.1" cy="290.1" r="1.15" fill="#111"/>
<circle cx="384.2" cy="290.1" r="1.15" fill="#111"/>
<circle cx="384.8" cy="292.4" r="1.15" fill="#111"/>
<circle cx="334.6" cy="297.0" r="1.15" fill="#111"/>
<circle cx="338.7" cy="297.0" r="1.15" fill="#111"/>
<circle cx="353.6" cy="294.7" r="1.15" fill="#111"/>
<circle cx="357.7" cy="295.3" r="1.15" fill="#111"/>
<circle cx="356.0" cy="297.0" r="1.15" fill="#111"/>
<circle cx="359.4" cy="297.6" r="1.15" fill="#111"/>
<circle cx="378.4" cy="294.7" r="1.15" fill="#111"/>
<circle cx="379.6" cy="295.3" r="1.15" fill="#111"/>
<circle cx="362.9" cy="299.3" r="1.15" fill="#111"/>
<circle cx="365.8" cy="298.2" r="1.15" fill="#111"/>
<circle cx="378.4" cy="298.8" r="1.15" fill="#111"/>
<circle cx="357.7" cy="302.2" r="1.15" fill="#111"/>
<circle cx="366.9" cy="294.7" r="1.15" fill="#111"/>
<circle cx="369.2" cy="295.3" r="1.15" fill="#111"/>
<circle cx="371.2" cy="294.7" r="1.15" fill="#111"/>
<circle cx="366.6" cy="288.3" r="1.15" fill="#111"/>
<circle cx="358.6" cy="293.1" r="1.15" fill="#111"/>
<circle cx="368.1" cy="286.2" r="1.15" fill="#111"/>
<circle cx="355.3" cy="295.0" r="1.15" fill="#111"/>
<circle cx="354.4" cy="292.6" r="1.15" fill="#111"/>
<circle cx="358.6" cy="292.5" r="1.15" fill="#111"/>
<circle cx="369.2" cy="291.8" r="1.15" fill="#111"/>
<line x1="334.10" y1="293.30" x2="384.30" y2="290.40" stroke="#b8123a" stroke-width="1.6" />
<text x="315.00" y="321.87" font-size="5.8" text-anchor="start" fill="#333" font-weight="normal" stroke="#333" stroke-width="0.12" textLength="48.90" lengthAdjust="spacingAndGlyphs" >Rp = 0.13 (<tspan font-style="italic">P</tspan> = 0.3)</text>
<text x="0.00" y="0.00" font-size="7.6" text-anchor="middle" fill="#333" font-weight="normal" stroke="#333" stroke-width="0.18" textLength="45.00" lengthAdjust="spacingAndGlyphs" transform="translate(297.0,184.0) rotate(-90)">Log(anti-RBD)</text>
<line x1="316.50" y1="327.72" x2="316.50" y2="330.72" stroke="#333" stroke-width="0.8" />
<text x="316.50" y="339.90" font-size="7.0" text-anchor="middle" fill="#333" font-weight="normal" stroke="#333" stroke-width="0.22" textLength="6.90" lengthAdjust="spacingAndGlyphs" >20</text>
<line x1="332.50" y1="327.72" x2="332.50" y2="330.72" stroke="#333" stroke-width="0.8" />
<text x="332.50" y="339.90" font-size="7.0" text-anchor="middle" fill="#333" font-weight="normal" stroke="#333" stroke-width="0.22" textLength="6.90" lengthAdjust="spacingAndGlyphs" >30</text>
<line x1="348.50" y1="327.72" x2="348.50" y2="330.72" stroke="#333" stroke-width="0.8" />
<text x="348.50" y="339.90" font-size="7.0" text-anchor="middle" fill="#333" font-weight="normal" stroke="#333" stroke-width="0.22" textLength="6.90" lengthAdjust="spacingAndGlyphs" >40</text>
<line x1="364.50" y1="327.72" x2="364.50" y2="330.72" stroke="#333" stroke-width="0.8" />
<text x="364.50" y="339.90" font-size="7.0" text-anchor="middle" fill="#333" font-weight="normal" stroke="#333" stroke-width="0.22" textLength="6.90" lengthAdjust="spacingAndGlyphs" >50</text>
<line x1="380.50" y1="327.72" x2="380.50" y2="330.72" stroke="#333" stroke-width="0.8" />
<text x="380.50" y="339.90" font-size="7.0" text-anchor="middle" fill="#333" font-weight="normal" stroke="#333" stroke-width="0.22" textLength="6.90" lengthAdjust="spacingAndGlyphs" >60</text>
<line x1="396.50" y1="327.72" x2="396.50" y2="330.72" stroke="#333" stroke-width="0.8" />
<text x="396.50" y="339.90" font-size="7.0" text-anchor="middle" fill="#333" font-weight="normal" stroke="#333" stroke-width="0.22" textLength="6.90" lengthAdjust="spacingAndGlyphs" >70</text>
<text x="356.50" y="352.60" font-size="9.0" text-anchor="middle" fill="#2a2a2a" font-weight="normal" stroke="#2a2a2a" stroke-width="0.3" textLength="34.80" lengthAdjust="spacingAndGlyphs" >Age (years)</text>
<rect x="433.00" y="29.70" width="86.40" height="9.70" fill="#fff" stroke="#111" stroke-width="1.2" />
<rect x="434.70" y="31.30" width="83.00" height="6.60" fill="#e9e9e9" stroke="none" stroke-width="1" />
<text x="476.20" y="37.25" font-size="7.4" text-anchor="middle" fill="#222" font-weight="normal" stroke="#222" stroke-width="0.18" textLength="6.60" lengthAdjust="spacingAndGlyphs" >T1</text>
<rect x="433.00" y="39.40" width="86.40" height="47.00" fill="#fff" stroke="#111" stroke-width="1.2" />
<line x1="430.40" y1="41.80" x2="433.00" y2="41.80" stroke="#333" stroke-width="0.8" />
<text x="426.60" y="44.10" font-size="6.6" text-anchor="end" fill="#333" font-weight="normal" stroke="#333" stroke-width="0.18" >4</text>
<line x1="430.40" y1="54.10" x2="433.00" y2="54.10" stroke="#333" stroke-width="0.8" />
<text x="426.60" y="56.40" font-size="6.6" text-anchor="end" fill="#333" font-weight="normal" stroke="#333" stroke-width="0.18" >3</text>
<line x1="430.40" y1="66.40" x2="433.00" y2="66.40" stroke="#333" stroke-width="0.8" />
<text x="426.60" y="68.70" font-size="6.6" text-anchor="end" fill="#333" font-weight="normal" stroke="#333" stroke-width="0.18" >2</text>
<line x1="430.40" y1="78.70" x2="433.00" y2="78.70" stroke="#333" stroke-width="0.8" />
<text x="426.60" y="81.00" font-size="6.6" text-anchor="end" fill="#333" font-weight="normal" stroke="#333" stroke-width="0.18" >1</text>
<path d="M446.6,48.0 L476.70000000000005,49.199999999999996 L506.8,49.4 L506.8,52.199999999999996 L476.70000000000005,50.99999999999999 L446.6,50.8 Z" fill="#c3d3e3" opacity="0.85"/>
<circle cx="452.9" cy="45.1" r="1.0" fill="none" stroke="#535d68" stroke-width="0.65"/>
<circle cx="461.1" cy="45.7" r="1.0" fill="none" stroke="#535d68" stroke-width="0.65"/>
<circle cx="463.0" cy="45.1" r="1.0" fill="none" stroke="#535d68" stroke-width="0.65"/>
<circle cx="464.9" cy="46.3" r="1.0" fill="none" stroke="#535d68" stroke-width="0.65"/>
<circle cx="471.3" cy="46.3" r="1.0" fill="none" stroke="#535d68" stroke-width="0.65"/>
<circle cx="473.8" cy="45.7" r="1.0" fill="none" stroke="#535d68" stroke-width="0.65"/>
<circle cx="476.4" cy="45.1" r="1.0" fill="none" stroke="#535d68" stroke-width="0.65"/>
<circle cx="478.3" cy="44.4" r="1.0" fill="none" stroke="#535d68" stroke-width="0.65"/>
<circle cx="480.8" cy="45.7" r="1.0" fill="none" stroke="#535d68" stroke-width="0.65"/>
<circle cx="484.0" cy="43.2" r="1.0" fill="none" stroke="#535d68" stroke-width="0.65"/>
<circle cx="482.7" cy="46.3" r="1.0" fill="none" stroke="#535d68" stroke-width="0.65"/>
<circle cx="490.3" cy="45.7" r="1.0" fill="none" stroke="#535d68" stroke-width="0.65"/>
<circle cx="491.6" cy="45.1" r="1.0" fill="none" stroke="#535d68" stroke-width="0.65"/>
<circle cx="495.4" cy="45.1" r="1.0" fill="none" stroke="#535d68" stroke-width="0.65"/>
<circle cx="499.8" cy="45.1" r="1.0" fill="none" stroke="#535d68" stroke-width="0.65"/>
<circle cx="504.3" cy="43.8" r="1.0" fill="none" stroke="#535d68" stroke-width="0.65"/>
<circle cx="447.8" cy="49.5" r="1.0" fill="none" stroke="#535d68" stroke-width="0.65"/>
<circle cx="458.0" cy="49.5" r="1.0" fill="none" stroke="#535d68" stroke-width="0.65"/>
<circle cx="460.5" cy="48.9" r="1.0" fill="none" stroke="#535d68" stroke-width="0.65"/>
<circle cx="466.8" cy="49.5" r="1.0" fill="none" stroke="#535d68" stroke-width="0.65"/>
<circle cx="472.6" cy="48.2" r="1.0" fill="none" stroke="#535d68" stroke-width="0.65"/>
<circle cx="476.4" cy="48.9" r="1.0" fill="none" stroke="#535d68" stroke-width="0.65"/>
<circle cx="487.1" cy="48.2" r="1.0" fill="none" stroke="#535d68" stroke-width="0.65"/>
<circle cx="494.8" cy="48.9" r="1.0" fill="none" stroke="#535d68" stroke-width="0.65"/>
<circle cx="501.7" cy="48.9" r="1.0" fill="none" stroke="#535d68" stroke-width="0.65"/>
<circle cx="447.8" cy="52.1" r="1.0" fill="none" stroke="#535d68" stroke-width="0.65"/>
<circle cx="457.3" cy="52.1" r="1.0" fill="none" stroke="#535d68" stroke-width="0.65"/>
<circle cx="464.9" cy="53.3" r="1.0" fill="none" stroke="#535d68" stroke-width="0.65"/>
<circle cx="470.6" cy="54.6" r="1.0" fill="none" stroke="#535d68" stroke-width="0.65"/>
<circle cx="474.5" cy="54.0" r="1.0" fill="none" stroke="#535d68" stroke-width="0.65"/>
<circle cx="477.0" cy="52.7" r="1.0" fill="none" stroke="#535d68" stroke-width="0.65"/>
<circle cx="480.8" cy="53.3" r="1.0" fill="none" stroke="#535d68" stroke-width="0.65"/>
<circle cx="482.1" cy="52.1" r="1.0" fill="none" stroke="#535d68" stroke-width="0.65"/>
<circle cx="487.1" cy="52.1" r="1.0" fill="none" stroke="#535d68" stroke-width="0.65"/>
<circle cx="490.3" cy="52.7" r="1.0" fill="none" stroke="#535d68" stroke-width="0.65"/>
<circle cx="494.8" cy="54.6" r="1.0" fill="none" stroke="#535d68" stroke-width="0.65"/>
<circle cx="498.6" cy="52.7" r="1.0" fill="none" stroke="#535d68" stroke-width="0.65"/>
<circle cx="506.2" cy="52.7" r="1.0" fill="none" stroke="#535d68" stroke-width="0.65"/>
<circle cx="456.7" cy="55.9" r="1.0" fill="none" stroke="#535d68" stroke-width="0.65"/>
<circle cx="473.2" cy="56.5" r="1.0" fill="none" stroke="#535d68" stroke-width="0.65"/>
<circle cx="480.8" cy="56.5" r="1.0" fill="none" stroke="#535d68" stroke-width="0.65"/>
<circle cx="487.1" cy="57.1" r="1.0" fill="none" stroke="#535d68" stroke-width="0.65"/>
<circle cx="452.9" cy="59.0" r="1.0" fill="none" stroke="#535d68" stroke-width="0.65"/>
<circle cx="458.6" cy="58.4" r="1.0" fill="none" stroke="#535d68" stroke-width="0.65"/>
<circle cx="488.4" cy="60.3" r="1.0" fill="none" stroke="#535d68" stroke-width="0.65"/>
<circle cx="501.1" cy="61.6" r="1.0" fill="none" stroke="#535d68" stroke-width="0.65"/>
<line x1="446.60" y1="49.40" x2="506.80" y2="50.80" stroke="#2a5a88" stroke-width="1.6" />
<text x="435.05" y="80.55" font-size="5.8" text-anchor="start" fill="#333" font-weight="normal" stroke="#333" stroke-width="0.12" textLength="57.20" lengthAdjust="spacingAndGlyphs" >Rp = &#8722;0.095 (<tspan font-style="italic">P</tspan> = 0.42)</text>
<rect x="433.00" y="90.03" width="86.40" height="9.70" fill="#fff" stroke="#111" stroke-width="1.2" />
<rect x="434.70" y="91.63" width="83.00" height="6.60" fill="#e9e9e9" stroke="none" stroke-width="1" />
<text x="476.20" y="97.58" font-size="7.4" text-anchor="middle" fill="#222" font-weight="normal" stroke="#222" stroke-width="0.18" textLength="7.50" lengthAdjust="spacingAndGlyphs" >T2</text>
<rect x="433.00" y="99.73" width="86.40" height="47.00" fill="#fff" stroke="#111" stroke-width="1.2" />
<line x1="430.40" y1="102.13" x2="433.00" y2="102.13" stroke="#333" stroke-width="0.8" />
<text x="426.60" y="104.43" font-size="6.6" text-anchor="end" fill="#333" font-weight="normal" stroke="#333" stroke-width="0.18" >4</text>
<line x1="430.40" y1="114.43" x2="433.00" y2="114.43" stroke="#333" stroke-width="0.8" />
<text x="426.60" y="116.73" font-size="6.6" text-anchor="end" fill="#333" font-weight="normal" stroke="#333" stroke-width="0.18" >3</text>
<line x1="430.40" y1="126.73" x2="433.00" y2="126.73" stroke="#333" stroke-width="0.8" />
<text x="426.60" y="129.03" font-size="6.6" text-anchor="end" fill="#333" font-weight="normal" stroke="#333" stroke-width="0.18" >2</text>
<line x1="430.40" y1="139.03" x2="433.00" y2="139.03" stroke="#333" stroke-width="0.8" />
<text x="426.60" y="141.33" font-size="6.6" text-anchor="end" fill="#333" font-weight="normal" stroke="#333" stroke-width="0.18" >1</text>
<path d="M446.6,115.39999999999999 L476.75,117.25 L506.9,118.1 L506.9,120.9 L476.75,119.05000000000001 L446.6,118.2 Z" fill="#c3d3e3" opacity="0.85"/>
<circle cx="452.9" cy="111.1" r="1.0" fill="none" stroke="#535d68" stroke-width="0.65"/>
<circle cx="454.2" cy="114.2" r="1.0" fill="none" stroke="#535d68" stroke-width="0.65"/>
<circle cx="459.2" cy="114.2" r="1.0" fill="none" stroke="#535d68" stroke-width="0.65"/>
<circle cx="462.4" cy="114.9" r="1.0" fill="none" stroke="#535d68" stroke-width="0.65"/>
<circle cx="464.3" cy="115.5" r="1.0" fill="none" stroke="#535d68" stroke-width="0.65"/>
<circle cx="447.8" cy="115.5" r="1.0" fill="none" stroke="#535d68" stroke-width="0.65"/>
<circle cx="472.6" cy="114.2" r="1.0" fill="none" stroke="#535d68" stroke-width="0.65"/>
<circle cx="477.0" cy="111.7" r="1.0" fill="none" stroke="#535d68" stroke-width="0.65"/>
<circle cx="478.3" cy="114.9" r="1.0" fill="none" stroke="#535d68" stroke-width="0.65"/>
<circle cx="481.4" cy="114.2" r="1.0" fill="none" stroke="#535d68" stroke-width="0.65"/>
<circle cx="483.3" cy="115.5" r="1.0" fill="none" stroke="#535d68" stroke-width="0.65"/>
<circle cx="484.0" cy="109.8" r="1.0" fill="none" stroke="#535d68" stroke-width="0.65"/>
<circle cx="490.3" cy="113.0" r="1.0" fill="none" stroke="#535d68" stroke-width="0.65"/>
<circle cx="492.2" cy="114.9" r="1.0" fill="none" stroke="#535d68" stroke-width="0.65"/>
<circle cx="495.4" cy="114.2" r="1.0" fill="none" stroke="#535d68" stroke-width="0.65"/>
<circle cx="499.8" cy="114.9" r="1.0" fill="none" stroke="#535d68" stroke-width="0.65"/>
<circle cx="504.3" cy="111.1" r="1.0" fill="none" stroke="#535d68" stroke-width="0.65"/>
<circle cx="455.4" cy="120.0" r="1.0" fill="none" stroke="#535d68" stroke-width="0.65"/>
<circle cx="457.3" cy="122.5" r="1.0" fill="none" stroke="#535d68" stroke-width="0.65"/>
<circle cx="453.5" cy="125.0" r="1.0" fill="none" stroke="#535d68" stroke-width="0.65"/>
<circle cx="459.2" cy="125.0" r="1.0" fill="none" stroke="#535d68" stroke-width="0.65"/>
<circle cx="469.4" cy="124.4" r="1.0" fill="none" stroke="#535d68" stroke-width="0.65"/>
<circle cx="473.8" cy="121.9" r="1.0" fill="none" stroke="#535d68" stroke-width="0.65"/>
<circle cx="476.4" cy="122.5" r="1.0" fill="none" stroke="#535d68" stroke-width="0.65"/>
<circle cx="480.8" cy="122.5" r="1.0" fill="none" stroke="#535d68" stroke-width="0.65"/>
<circle cx="482.1" cy="120.6" r="1.0" fill="none" stroke="#535d68" stroke-width="0.65"/>
<circle cx="487.1" cy="120.0" r="1.0" fill="none" stroke="#535d68" stroke-width="0.65"/>
<circle cx="489.1" cy="121.9" r="1.0" fill="none" stroke="#535d68" stroke-width="0.65"/>
<circle cx="488.4" cy="125.7" r="1.0" fill="none" stroke="#535d68" stroke-width="0.65"/>
<circle cx="493.5" cy="120.6" r="1.0" fill="none" stroke="#535d68" stroke-width="0.65"/>
<circle cx="501.1" cy="128.2" r="1.0" fill="none" stroke="#535d68" stroke-width="0.65"/>
<circle cx="465.6" cy="118.1" r="1.0" fill="none" stroke="#535d68" stroke-width="0.65"/>
<circle cx="475.7" cy="118.1" r="1.0" fill="none" stroke="#535d68" stroke-width="0.65"/>
<line x1="446.60" y1="116.80" x2="506.90" y2="119.50" stroke="#2a5a88" stroke-width="1.6" />
<text x="435.05" y="140.88" font-size="5.8" text-anchor="start" fill="#333" font-weight="normal" stroke="#333" stroke-width="0.12" textLength="57.60" lengthAdjust="spacingAndGlyphs" >Rp = &#8722;0.091 (<tspan font-style="italic">P</tspan> = 0.44)</text>
<rect x="433.00" y="150.36" width="86.40" height="9.70" fill="#fff" stroke="#111" stroke-width="1.2" />
<rect x="434.70" y="151.96" width="83.00" height="6.60" fill="#e9e9e9" stroke="none" stroke-width="1" />
<text x="476.20" y="157.91" font-size="7.4" text-anchor="middle" fill="#222" font-weight="normal" stroke="#222" stroke-width="0.18" textLength="7.50" lengthAdjust="spacingAndGlyphs" >T3</text>
<rect x="433.00" y="160.06" width="86.40" height="47.00" fill="#fff" stroke="#111" stroke-width="1.2" />
<line x1="430.40" y1="162.46" x2="433.00" y2="162.46" stroke="#333" stroke-width="0.8" />
<text x="426.60" y="164.76" font-size="6.6" text-anchor="end" fill="#333" font-weight="normal" stroke="#333" stroke-width="0.18" >4</text>
<line x1="430.40" y1="174.76" x2="433.00" y2="174.76" stroke="#333" stroke-width="0.8" />
<text x="426.60" y="177.06" font-size="6.6" text-anchor="end" fill="#333" font-weight="normal" stroke="#333" stroke-width="0.18" >3</text>
<line x1="430.40" y1="187.06" x2="433.00" y2="187.06" stroke="#333" stroke-width="0.8" />
<text x="426.60" y="189.36" font-size="6.6" text-anchor="end" fill="#333" font-weight="normal" stroke="#333" stroke-width="0.18" >2</text>
<line x1="430.40" y1="199.36" x2="433.00" y2="199.36" stroke="#333" stroke-width="0.8" />
<text x="426.60" y="201.66" font-size="6.6" text-anchor="end" fill="#333" font-weight="normal" stroke="#333" stroke-width="0.18" >1</text>
<path d="M446.6,182.4 L476.75,183.79999999999998 L506.9,184.2 L506.9,187.0 L476.75,185.6 L446.6,185.20000000000002 Z" fill="#c3d3e3" opacity="0.85"/>
<circle cx="453.5" cy="177.1" r="1.0" fill="none" stroke="#535d68" stroke-width="0.65"/>
<circle cx="446.5" cy="180.9" r="1.0" fill="none" stroke="#535d68" stroke-width="0.65"/>
<circle cx="451.6" cy="180.9" r="1.0" fill="none" stroke="#535d68" stroke-width="0.65"/>
<circle cx="456.1" cy="182.2" r="1.0" fill="none" stroke="#535d68" stroke-width="0.65"/>
<circle cx="459.2" cy="182.2" r="1.0" fill="none" stroke="#535d68" stroke-width="0.65"/>
<circle cx="462.4" cy="182.2" r="1.0" fill="none" stroke="#535d68" stroke-width="0.65"/>
<circle cx="466.2" cy="182.8" r="1.0" fill="none" stroke="#535d68" stroke-width="0.65"/>
<circle cx="472.6" cy="182.2" r="1.0" fill="none" stroke="#535d68" stroke-width="0.65"/>
<circle cx="475.7" cy="182.2" r="1.0" fill="none" stroke="#535d68" stroke-width="0.65"/>
<circle cx="478.3" cy="178.3" r="1.0" fill="none" stroke="#535d68" stroke-width="0.65"/>
<circle cx="480.8" cy="181.5" r="1.0" fill="none" stroke="#535d68" stroke-width="0.65"/>
<circle cx="483.3" cy="182.2" r="1.0" fill="none" stroke="#535d68" stroke-width="0.65"/>
<circle cx="485.9" cy="182.2" r="1.0" fill="none" stroke="#535d68" stroke-width="0.65"/>
<circle cx="488.4" cy="182.2" r="1.0" fill="none" stroke="#535d68" stroke-width="0.65"/>
<circle cx="491.0" cy="177.7" r="1.0" fill="none" stroke="#535d68" stroke-width="0.65"/>
<circle cx="494.1" cy="182.2" r="1.0" fill="none" stroke="#535d68" stroke-width="0.65"/>
<circle cx="499.2" cy="180.9" r="1.0" fill="none" stroke="#535d68" stroke-width="0.65"/>
<circle cx="504.3" cy="179.0" r="1.0" fill="none" stroke="#535d68" stroke-width="0.65"/>
<circle cx="457.3" cy="187.9" r="1.0" fill="none" stroke="#535d68" stroke-width="0.65"/>
<circle cx="464.9" cy="187.9" r="1.0" fill="none" stroke="#535d68" stroke-width="0.65"/>
<circle cx="469.4" cy="189.8" r="1.0" fill="none" stroke="#535d68" stroke-width="0.65"/>
<circle cx="474.5" cy="187.9" r="1.0" fill="none" stroke="#535d68" stroke-width="0.65"/>
<circle cx="476.4" cy="187.9" r="1.0" fill="none" stroke="#535d68" stroke-width="0.65"/>
<circle cx="480.8" cy="189.8" r="1.0" fill="none" stroke="#535d68" stroke-width="0.65"/>
<circle cx="487.8" cy="187.9" r="1.0" fill="none" stroke="#535d68" stroke-width="0.65"/>
<circle cx="488.4" cy="190.4" r="1.0" fill="none" stroke="#535d68" stroke-width="0.65"/>
<circle cx="492.9" cy="187.9" r="1.0" fill="none" stroke="#535d68" stroke-width="0.65"/>
<circle cx="496.0" cy="187.2" r="1.0" fill="none" stroke="#535d68" stroke-width="0.65"/>
<circle cx="506.2" cy="189.1" r="1.0" fill="none" stroke="#535d68" stroke-width="0.65"/>
<circle cx="445.9" cy="192.3" r="1.0" fill="none" stroke="#535d68" stroke-width="0.65"/>
<circle cx="501.7" cy="192.3" r="1.0" fill="none" stroke="#535d68" stroke-width="0.65"/>
<circle cx="473.2" cy="191.0" r="1.0" fill="none" stroke="#535d68" stroke-width="0.65"/>
<line x1="446.60" y1="183.80" x2="506.90" y2="185.60" stroke="#2a5a88" stroke-width="1.6" />
<text x="435.05" y="201.21" font-size="5.8" text-anchor="start" fill="#333" font-weight="normal" stroke="#333" stroke-width="0.12" textLength="55.70" lengthAdjust="spacingAndGlyphs" >Rp = &#8722;0.11&#8217; (<tspan font-style="italic">P</tspan> = 0.31)</text>
<rect x="433.00" y="210.69" width="86.40" height="9.70" fill="#fff" stroke="#111" stroke-width="1.2" />
<rect x="434.70" y="212.29" width="83.00" height="6.60" fill="#e9e9e9" stroke="none" stroke-width="1" />
<text x="476.20" y="218.24" font-size="7.4" text-anchor="middle" fill="#222" font-weight="normal" stroke="#222" stroke-width="0.18" textLength="7.50" lengthAdjust="spacingAndGlyphs" >T4</text>
<rect x="433.00" y="220.39" width="86.40" height="47.00" fill="#fff" stroke="#111" stroke-width="1.2" />
<line x1="430.40" y1="222.79" x2="433.00" y2="222.79" stroke="#333" stroke-width="0.8" />
<text x="426.60" y="225.09" font-size="6.6" text-anchor="end" fill="#333" font-weight="normal" stroke="#333" stroke-width="0.18" >4</text>
<line x1="430.40" y1="235.09" x2="433.00" y2="235.09" stroke="#333" stroke-width="0.8" />
<text x="426.60" y="237.39" font-size="6.6" text-anchor="end" fill="#333" font-weight="normal" stroke="#333" stroke-width="0.18" >3</text>
<line x1="430.40" y1="247.39" x2="433.00" y2="247.39" stroke="#333" stroke-width="0.8" />
<text x="426.60" y="249.69" font-size="6.6" text-anchor="end" fill="#333" font-weight="normal" stroke="#333" stroke-width="0.18" >2</text>
<line x1="430.40" y1="259.69" x2="433.00" y2="259.69" stroke="#333" stroke-width="0.8" />
<text x="426.60" y="261.99" font-size="6.6" text-anchor="end" fill="#333" font-weight="normal" stroke="#333" stroke-width="0.18" >1</text>
<path d="M446.6,223.7 L476.75,225.9 L506.9,226.9 L506.9,229.29999999999998 L476.75,227.70000000000002 L446.6,227.3 Z" fill="#c3d3e3" opacity="0.85"/>
<circle cx="446.5" cy="223.7" r="1.0" fill="none" stroke="#535d68" stroke-width="0.65"/>
<circle cx="454.2" cy="223.7" r="1.0" fill="none" stroke="#535d68" stroke-width="0.65"/>
<circle cx="456.7" cy="223.1" r="1.0" fill="none" stroke="#535d68" stroke-width="0.65"/>
<circle cx="464.9" cy="225.6" r="1.0" fill="none" stroke="#535d68" stroke-width="0.65"/>
<circle cx="472.6" cy="223.7" r="1.0" fill="none" stroke="#535d68" stroke-width="0.65"/>
<circle cx="476.4" cy="223.7" r="1.0" fill="none" stroke="#535d68" stroke-width="0.65"/>
<circle cx="478.3" cy="222.4" r="1.0" fill="none" stroke="#535d68" stroke-width="0.65"/>
<circle cx="480.8" cy="223.1" r="1.0" fill="none" stroke="#535d68" stroke-width="0.65"/>
<circle cx="487.1" cy="225.0" r="1.0" fill="none" stroke="#535d68" stroke-width="0.65"/>
<circle cx="491.6" cy="223.1" r="1.0" fill="none" stroke="#535d68" stroke-width="0.65"/>
<circle cx="495.4" cy="225.6" r="1.0" fill="none" stroke="#535d68" stroke-width="0.65"/>
<circle cx="499.8" cy="225.6" r="1.0" fill="none" stroke="#535d68" stroke-width="0.65"/>
<circle cx="449.1" cy="230.1" r="1.0" fill="none" stroke="#535d68" stroke-width="0.65"/>
<circle cx="452.2" cy="229.4" r="1.0" fill="none" stroke="#535d68" stroke-width="0.65"/>
<circle cx="464.9" cy="230.7" r="1.0" fill="none" stroke="#535d68" stroke-width="0.65"/>
<circle cx="476.4" cy="230.7" r="1.0" fill="none" stroke="#535d68" stroke-width="0.65"/>
<circle cx="484.0" cy="230.1" r="1.0" fill="none" stroke="#535d68" stroke-width="0.65"/>
<circle cx="488.4" cy="228.2" r="1.0" fill="none" stroke="#535d68" stroke-width="0.65"/>
<circle cx="487.1" cy="233.2" r="1.0" fill="none" stroke="#535d68" stroke-width="0.65"/>
<circle cx="489.1" cy="234.5" r="1.0" fill="none" stroke="#535d68" stroke-width="0.65"/>
<circle cx="472.6" cy="235.1" r="1.0" fill="none" stroke="#535d68" stroke-width="0.65"/>
<circle cx="504.9" cy="227.5" r="1.0" fill="none" stroke="#535d68" stroke-width="0.65"/>
<line x1="446.60" y1="225.50" x2="506.90" y2="228.10" stroke="#2a5a88" stroke-width="1.6" />
<text x="435.05" y="261.54" font-size="5.8" text-anchor="start" fill="#333" font-weight="normal" stroke="#333" stroke-width="0.12" textLength="57.60" lengthAdjust="spacingAndGlyphs" >Rp = &#8722;0.087 (<tspan font-style="italic">P</tspan> = 0.65)</text>
<rect x="433.00" y="271.02" width="86.40" height="9.70" fill="#fff" stroke="#111" stroke-width="1.2" />
<rect x="434.70" y="272.62" width="83.00" height="6.60" fill="#e9e9e9" stroke="none" stroke-width="1" />
<text x="476.20" y="278.57" font-size="7.4" text-anchor="middle" fill="#222" font-weight="normal" stroke="#222" stroke-width="0.18" textLength="7.50" lengthAdjust="spacingAndGlyphs" >T5</text>
<rect x="433.00" y="280.72" width="86.40" height="47.00" fill="#fff" stroke="#111" stroke-width="1.2" />
<line x1="430.40" y1="283.12" x2="433.00" y2="283.12" stroke="#333" stroke-width="0.8" />
<text x="426.60" y="285.42" font-size="6.6" text-anchor="end" fill="#333" font-weight="normal" stroke="#333" stroke-width="0.18" >4</text>
<line x1="430.40" y1="295.42" x2="433.00" y2="295.42" stroke="#333" stroke-width="0.8" />
<text x="426.60" y="297.72" font-size="6.6" text-anchor="end" fill="#333" font-weight="normal" stroke="#333" stroke-width="0.18" >3</text>
<line x1="430.40" y1="307.72" x2="433.00" y2="307.72" stroke="#333" stroke-width="0.8" />
<text x="426.60" y="310.02" font-size="6.6" text-anchor="end" fill="#333" font-weight="normal" stroke="#333" stroke-width="0.18" >2</text>
<line x1="430.40" y1="320.02" x2="433.00" y2="320.02" stroke="#333" stroke-width="0.8" />
<text x="426.60" y="322.32" font-size="6.6" text-anchor="end" fill="#333" font-weight="normal" stroke="#333" stroke-width="0.18" >1</text>
<path d="M445.7,287.3 L476.15,289.1 L506.6,289.7 L506.6,292.09999999999997 L476.15,290.9 L445.7,290.90000000000003 Z" fill="#c3d3e3" opacity="0.85"/>
<circle cx="446.1" cy="287.4" r="1.0" fill="none" stroke="#535d68" stroke-width="0.65"/>
<circle cx="448.1" cy="290.8" r="1.0" fill="none" stroke="#535d68" stroke-width="0.65"/>
<circle cx="449.4" cy="292.1" r="1.0" fill="none" stroke="#535d68" stroke-width="0.65"/>
<circle cx="453.5" cy="288.1" r="1.0" fill="none" stroke="#535d68" stroke-width="0.65"/>
<circle cx="457.5" cy="284.1" r="1.0" fill="none" stroke="#535d68" stroke-width="0.65"/>
<circle cx="464.9" cy="292.8" r="1.0" fill="none" stroke="#535d68" stroke-width="0.65"/>
<circle cx="464.9" cy="294.8" r="1.0" fill="none" stroke="#535d68" stroke-width="0.65"/>
<circle cx="473.0" cy="286.1" r="1.0" fill="none" stroke="#535d68" stroke-width="0.65"/>
<circle cx="477.7" cy="284.1" r="1.0" fill="none" stroke="#535d68" stroke-width="0.65"/>
<circle cx="480.4" cy="285.4" r="1.0" fill="none" stroke="#535d68" stroke-width="0.65"/>
<circle cx="482.4" cy="288.1" r="1.0" fill="none" stroke="#535d68" stroke-width="0.65"/>
<circle cx="475.7" cy="291.5" r="1.0" fill="none" stroke="#535d68" stroke-width="0.65"/>
<circle cx="483.7" cy="291.5" r="1.0" fill="none" stroke="#535d68" stroke-width="0.65"/>
<circle cx="487.1" cy="296.2" r="1.0" fill="none" stroke="#535d68" stroke-width="0.65"/>
<circle cx="488.5" cy="294.8" r="1.0" fill="none" stroke="#535d68" stroke-width="0.65"/>
<circle cx="491.8" cy="287.4" r="1.0" fill="none" stroke="#535d68" stroke-width="0.65"/>
<circle cx="495.2" cy="290.8" r="1.0" fill="none" stroke="#535d68" stroke-width="0.65"/>
<circle cx="499.9" cy="286.1" r="1.0" fill="none" stroke="#535d68" stroke-width="0.65"/>
<circle cx="473.0" cy="298.2" r="1.0" fill="none" stroke="#535d68" stroke-width="0.65"/>
<circle cx="505.9" cy="290.8" r="1.0" fill="none" stroke="#535d68" stroke-width="0.65"/>
<line x1="445.70" y1="289.10" x2="506.60" y2="290.90" stroke="#2a5a88" stroke-width="1.6" />
<text x="435.05" y="321.87" font-size="5.8" text-anchor="start" fill="#333" font-weight="normal" stroke="#333" stroke-width="0.12" textLength="54.50" lengthAdjust="spacingAndGlyphs" >Rp = &#8722;0.08 (<tspan font-style="italic">P</tspan> = 0.68)</text>
<text x="0.00" y="0.00" font-size="7.6" text-anchor="middle" fill="#333" font-weight="normal" stroke="#333" stroke-width="0.18" textLength="45.00" lengthAdjust="spacingAndGlyphs" transform="translate(416.6,184.0) rotate(-90)">Log(anti-RBD)</text>
<line x1="436.50" y1="327.72" x2="436.50" y2="330.72" stroke="#333" stroke-width="0.8" />
<text x="436.50" y="339.90" font-size="7.0" text-anchor="middle" fill="#333" font-weight="normal" stroke="#333" stroke-width="0.22" textLength="6.90" lengthAdjust="spacingAndGlyphs" >20</text>
<line x1="452.50" y1="327.72" x2="452.50" y2="330.72" stroke="#333" stroke-width="0.8" />
<text x="452.50" y="339.90" font-size="7.0" text-anchor="middle" fill="#333" font-weight="normal" stroke="#333" stroke-width="0.22" textLength="6.90" lengthAdjust="spacingAndGlyphs" >30</text>
<line x1="468.50" y1="327.72" x2="468.50" y2="330.72" stroke="#333" stroke-width="0.8" />
<text x="468.50" y="339.90" font-size="7.0" text-anchor="middle" fill="#333" font-weight="normal" stroke="#333" stroke-width="0.22" textLength="6.90" lengthAdjust="spacingAndGlyphs" >40</text>
<line x1="484.50" y1="327.72" x2="484.50" y2="330.72" stroke="#333" stroke-width="0.8" />
<text x="484.50" y="339.90" font-size="7.0" text-anchor="middle" fill="#333" font-weight="normal" stroke="#333" stroke-width="0.22" textLength="6.90" lengthAdjust="spacingAndGlyphs" >50</text>
<line x1="500.50" y1="327.72" x2="500.50" y2="330.72" stroke="#333" stroke-width="0.8" />
<text x="500.50" y="339.90" font-size="7.0" text-anchor="middle" fill="#333" font-weight="normal" stroke="#333" stroke-width="0.22" textLength="6.90" lengthAdjust="spacingAndGlyphs" >60</text>
<line x1="516.50" y1="327.72" x2="516.50" y2="330.72" stroke="#333" stroke-width="0.8" />
<text x="516.50" y="339.90" font-size="7.0" text-anchor="middle" fill="#333" font-weight="normal" stroke="#333" stroke-width="0.22" textLength="6.90" lengthAdjust="spacingAndGlyphs" >70</text>
<text x="476.50" y="352.60" font-size="9.0" text-anchor="middle" fill="#2a2a2a" font-weight="normal" stroke="#2a2a2a" stroke-width="0.3" textLength="34.80" lengthAdjust="spacingAndGlyphs" >Age (years)</text>
</svg></body></html>
